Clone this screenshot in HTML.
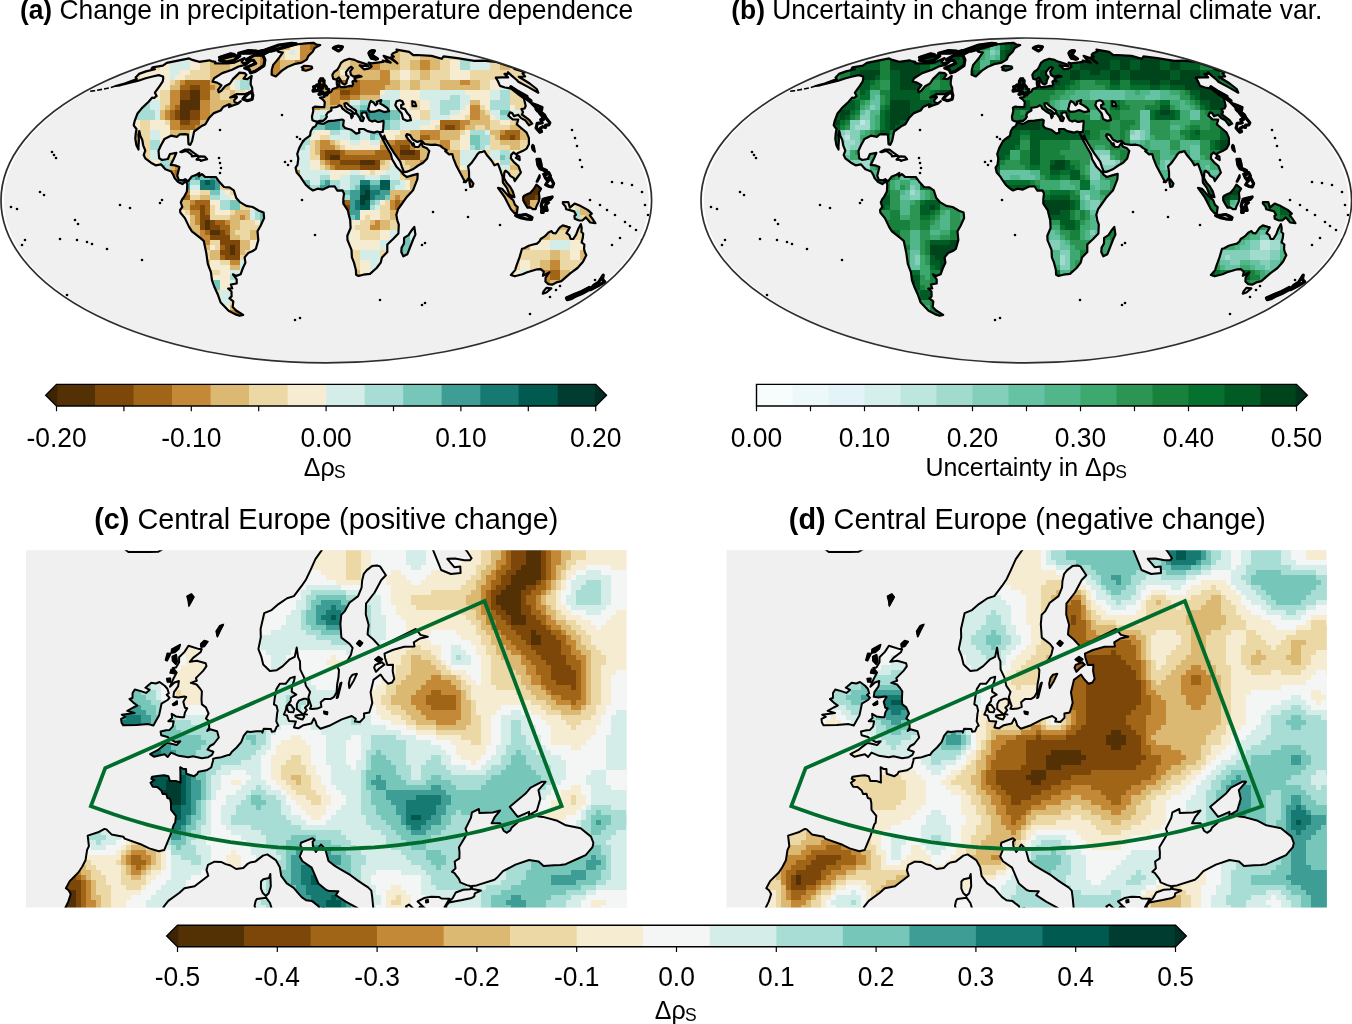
<!DOCTYPE html>
<html><head><meta charset="utf-8"><title>Figure</title>
<style>html,body{margin:0;padding:0;background:#fff;overflow:hidden}svg{display:block}text{font-family:"Liberation Sans",sans-serif;font-size:26.4px;fill:#000}</style></head><body>
<svg width="1352" height="1024" viewBox="0 0 1352 1024">
<rect width="1352" height="1024" fill="#fff"/>
<text transform="translate(326.50 19.20) scale(1 1.04)" text-anchor="middle"><tspan font-weight="bold">(a)</tspan> Change in precipitation-temperature dependence</text>
<text transform="translate(1026.80 19.20) scale(1 1.04)" text-anchor="middle"><tspan font-weight="bold">(b)</tspan> Uncertainty in change from internal climate var.</text>
<text transform="translate(326.30 528.90) scale(1 1.0)" text-anchor="middle" style="font-size:28.8px"><tspan font-weight="bold">(c)</tspan> Central Europe (positive change)</text>
<text transform="translate(1027.30 528.90) scale(1 1.0)" text-anchor="middle" style="font-size:28.8px"><tspan font-weight="bold">(d)</tspan> Central Europe (negative change)</text>
<ellipse cx="326.30" cy="200.45" rx="322.4" ry="161.7" fill="#f0f0f0"/>
<clipPath id="landAe"><ellipse cx="326.30" cy="200.45" rx="325.3" ry="162.45"/></clipPath><g clip-path="url(#landAe)">
<clipPath id="landA"><path d="M152.5,67.3L162.9,65.7L166.8,62.9L189.2,58.4L192.4,59.9L195.9,60.9L199.2,61.8L209.4,60.3L211.3,61.1L215.3,61.8L215.0,63.4L221.8,63.4L227.6,63.4L234.7,62.6L244.6,58.1L241.7,61.8L243.1,63.4L250.4,61.1L245.8,64.9L238.6,66.5L232.1,69.8L222.2,73.1L214.1,78.2L212.5,81.7L217.1,82.6L221.4,85.3L218.0,89.9L218.7,92.3L221.3,90.8L225.1,86.2L230.0,83.5L232.9,79.1L239.6,72.6L244.7,73.1L246.4,74.8L243.5,78.6L247.3,79.1L251.7,76.0L250.8,80.8L250.7,84.4L252.2,88.0L252.3,90.8L248.2,92.7L244.6,94.2L236.4,94.2L230.2,97.4L236.4,96.4L236.9,97.2L234.2,100.3L234.5,102.2L238.3,103.2L240.8,101.2L238.0,103.8L232.8,105.5L229.0,107.1L230.4,104.5L229.1,104.2L223.1,107.1L220.6,110.5L213.9,113.1L209.0,118.1L205.4,124.3L201.2,126.3L194.1,131.5L192.1,141.1L190.3,144.9L188.5,144.3L188.2,138.9L187.9,134.7L184.9,134.1L179.8,134.3L177.1,136.8L170.9,135.7L164.5,138.9L161.0,145.3L158.5,150.7L159.2,158.3L162.2,160.0L167.8,159.0L170.0,154.0L176.4,152.9L174.0,158.3L170.7,164.9L175.0,165.3L179.4,167.1L177.2,175.9L178.9,179.9L183.3,180.3L185.2,179.2L188.0,181.4L191.8,176.5L196.5,174.8L199.4,173.0L198.9,176.3L201.9,174.1L205.1,176.8L212.3,177.0L215.8,177.0L219.0,181.4L224.0,187.0L229.4,187.4L233.8,190.3L236.3,198.1L239.9,202.1L246.3,205.9L252.6,207.0L259.0,210.8L263.6,212.5L264.1,218.1L260.6,225.8L257.5,231.3L258.3,240.1L255.9,248.8L252.8,251.0L248.1,253.1L244.6,257.4L245.4,262.7L242.9,268.0L240.6,274.3L236.3,275.9L232.9,274.3L236.7,279.4L236.7,283.5L230.9,284.5L232.2,288.5L228.1,288.5L231.5,291.5L231.6,296.4L229.5,298.4L233.3,301.3L232.7,307.0L235.8,310.3L243.2,314.9L239.7,315.8L235.4,314.4L228.6,310.7L220.5,302.2L217.8,294.5L214.2,286.5L212.0,280.4L210.9,272.2L207.8,263.8L206.3,253.1L203.7,240.8L200.2,237.9L191.9,231.3L189.1,226.9L184.9,218.1L180.3,212.5L180.1,209.9L182.3,207.0L180.8,202.5L182.2,199.2L184.0,197.0L186.9,191.4L187.3,184.7L185.9,181.2L182.4,184.1L178.1,182.1L174.6,178.1L173.3,174.8L171.2,171.5L165.4,169.3L161.1,164.4L155.6,165.3L151.0,162.7L145.3,158.3L143.7,155.0L145.3,150.7L143.2,145.3L142.3,140.0L140.3,135.7L139.3,131.1L138.4,134.7L138.9,140.0L138.5,146.4L138.5,149.6L136.4,145.3L135.3,138.9L135.7,133.6L136.5,129.0L133.7,125.3L134.8,120.6L137.5,113.5L141.9,108.1L148.6,101.8L152.3,97.6L154.2,98.0L156.6,95.9L154.9,92.7L159.6,86.2L162.6,81.7L163.2,79.1L163.1,76.5L158.7,75.1L152.6,76.5L145.7,78.2L138.3,80.8L130.1,82.6L120.1,85.3L115.6,86.0L124.7,83.5L136.8,79.1L135.6,77.4L139.0,73.9L146.0,71.4L154.9,69.3L151.5,68.9Z M278.8,49.0L287.9,46.2L296.0,44.5L305.6,43.4L313.4,42.8L316.4,44.5L320.2,45.0L314.7,48.0L312.7,51.8L308.4,55.9L306.7,59.6L301.7,62.6L294.1,64.2L287.4,67.0L282.0,70.6L275.8,76.5L271.6,74.8L271.8,69.8L273.2,64.9L276.4,61.1L279.4,57.4L282.8,52.5L278.3,51.8L277.1,50.5Z M262.2,55.0L263.3,56.2L264.9,59.9L263.9,65.7L255.2,71.4L250.6,72.8L249.3,69.8L244.8,68.1L255.7,63.4L253.4,60.3L246.4,59.6L254.4,55.2Z M219.5,60.3L227.0,62.1L234.1,60.3L239.8,55.9L232.3,55.9L223.7,58.1Z M219.5,57.4L228.1,56.7L234.3,54.5L230.7,53.8Z M262.3,51.1L270.9,51.1L296.3,43.9L291.6,43.4L278.9,45.0Z M253.2,53.2L264.2,53.8L268.1,51.8L262.4,50.5Z M238.7,53.2L250.2,53.2L256.6,51.1L248.5,50.5Z M301.7,67.3L303.8,65.9L308.3,66.0L311.7,66.5L312.2,68.1L310.6,69.3L305.9,70.8L302.3,69.9L303.4,68.5Z M317.7,122.2L312.4,120.2L311.9,116.7L313.3,111.1L312.9,107.7L314.8,106.7L321.4,107.1L324.3,107.1L324.8,102.2L323.0,99.7L320.0,97.6L324.5,97.0L324.1,95.1L326.8,95.5L328.7,92.9L331.2,91.7L332.7,89.0L335.7,88.0L337.8,87.1L336.9,84.4L336.7,81.7L339.3,80.5L339.5,83.5L339.0,85.3L340.8,87.1L344.7,87.1L350.2,85.9L352.0,86.2L353.1,84.4L352.4,81.7L354.0,80.5L356.4,81.4L354.5,78.2L359.4,77.0L361.6,76.5L358.9,75.5L353.4,76.5L350.9,74.8L350.2,71.4L352.8,68.1L351.2,66.8L349.1,68.1L346.0,72.2L346.3,75.1L348.6,76.8L346.7,80.8L346.5,83.2L344.5,84.6L342.5,83.5L340.0,79.1L338.9,77.4L336.2,79.8L333.1,78.6L332.3,74.8L334.3,71.7L337.3,69.8L339.3,66.5L341.0,62.9L344.0,60.6L349.3,58.7L354.6,59.9L357.4,61.4L366.9,64.2L368.3,66.2L361.9,65.7L359.7,65.4L363.9,69.3L368.8,68.6L371.6,66.5L368.6,62.6L371.2,63.4L377.3,62.6L383.1,61.8L382.7,60.6L390.7,62.6L385.9,58.8L383.6,55.9L390.2,58.1L397.4,63.4L390.8,57.4L393.9,56.7L391.7,55.0L393.0,53.2L397.2,51.4L396.5,49.6L409.1,51.8L413.3,55.2L417.5,55.0L431.5,55.9L441.8,58.8L443.5,56.4L457.3,58.1L474.3,60.8L483.1,60.6L495.8,61.8L514.8,68.1L514.4,68.9L525.2,72.2L522.5,73.4L525.1,76.5L518.8,76.8L524.1,80.0L529.7,83.5L536.7,89.0L538.3,92.7L528.4,87.1L518.3,81.7L516.8,80.0L511.6,75.6L508.0,72.2L507.9,73.9L504.5,73.9L508.1,77.4L502.2,77.4L495.8,77.7L497.7,80.8L500.0,85.9L505.0,87.5L511.2,88.6L518.7,94.6L523.9,98.4L524.6,101.2L525.7,106.1L524.5,108.5L521.4,109.1L523.0,112.1L521.9,114.5L529.5,120.2L532.2,123.6L529.0,125.3L525.1,120.2L521.1,118.1L518.2,114.7L514.0,116.1L512.2,113.1L510.0,112.3L508.3,115.7L512.8,119.5L518.3,119.5L516.8,124.3L523.0,129.5L526.6,132.6L528.9,137.9L528.9,144.3L526.7,148.6L522.6,151.1L517.4,153.3L517.3,155.5L513.6,152.4L511.3,154.6L510.8,158.3L514.4,162.7L518.4,166.0L520.9,172.6L517.6,177.0L514.7,181.0L513.9,178.1L510.3,175.9L508.6,173.2L505.5,170.6L504.3,172.6L504.0,178.1L506.4,182.5L509.9,186.5L512.8,191.4L514.5,197.2L513.1,197.0L509.2,194.1L507.0,188.1L502.9,182.5L502.6,177.0L500.1,169.3L498.0,163.8L494.5,165.3L491.5,160.5L486.8,155.0L484.4,151.1L482.4,151.8L479.2,152.4L477.2,154.6L476.0,156.6L471.2,163.3L468.1,166.4L469.0,171.5L469.1,177.4L466.3,181.4L465.5,182.3L462.9,178.1L459.4,171.5L456.0,164.9L453.4,158.3L452.3,154.0L449.1,154.4L445.2,151.1L446.7,150.1L443.1,148.1L440.4,145.8L435.9,144.7L430.9,144.9L424.7,144.0L422.4,141.5L421.1,140.8L417.5,141.9L412.7,139.4L410.0,135.1L406.9,134.1L406.0,135.7L407.9,138.9L410.8,142.1L412.8,145.3L413.5,143.2L414.6,146.8L418.6,147.0L421.4,142.8L422.7,146.4L426.9,148.3L429.3,150.9L428.0,155.5L427.2,158.5L423.1,162.7L418.2,165.5L412.8,169.3L406.5,171.9L403.9,172.1L402.0,167.1L400.2,161.6L394.3,153.3L390.1,146.8L385.4,138.9L384.3,135.7L383.9,139.4L380.4,134.7L379.5,132.2L382.7,132.0L383.2,128.4L383.6,122.6L383.5,120.8L380.2,121.6L377.9,122.0L374.7,120.6L372.3,121.6L369.4,120.2L367.6,117.1L366.8,115.1L366.5,113.7L366.0,112.5L363.0,112.5L361.6,113.5L361.7,115.7L363.9,118.1L362.8,121.2L360.7,120.6L359.5,117.5L356.2,113.1L355.9,110.5L352.5,108.1L348.5,105.1L346.5,103.0L344.4,103.6L344.9,106.1L347.4,109.1L350.9,110.5L354.8,113.9L352.4,113.3L351.9,115.1L352.9,116.1L351.5,118.1L350.6,114.1L348.3,112.7L345.1,110.7L342.2,108.3L341.2,106.1L339.4,105.3L337.6,106.7L334.0,107.5L331.3,107.7L331.4,110.5L327.8,112.5L326.2,115.1L326.9,116.7L325.5,118.9L323.1,120.8L319.5,120.8Z M317.2,122.6L323.4,123.9L328.1,121.2L334.4,120.6L342.2,119.5L343.8,120.4L343.1,125.7L345.1,128.0L351.2,129.7L356.2,133.6L359.4,132.6L359.0,129.0L363.8,129.0L367.4,131.1L374.1,132.6L377.2,131.5L379.5,132.2L380.4,134.7L382.5,138.9L387.1,147.5L390.9,154.0L392.0,159.0L396.3,166.4L402.1,172.6L403.7,174.8L406.9,177.0L412.1,175.4L417.7,173.9L417.4,179.2L413.0,190.3L405.9,198.1L401.4,204.5L398.1,209.2L396.3,214.8L397.3,220.3L398.8,224.7L398.4,233.5L393.1,239.0L387.3,244.5L387.3,252.0L382.0,257.4L380.7,262.7L376.6,268.0L370.0,273.9L363.4,274.7L358.5,275.9L356.1,274.7L355.9,270.1L354.0,262.7L351.9,257.4L351.5,249.9L347.5,240.1L347.3,235.7L350.6,228.0L350.2,220.3L348.5,213.6L347.8,210.3L343.3,203.6L343.3,199.2L344.0,193.6L342.4,190.3L337.4,190.7L334.6,186.3L329.2,186.5L322.9,189.6L317.6,188.7L313.0,190.5L309.5,188.1L305.9,185.0L302.7,180.3L299.8,175.9L296.7,172.6L295.6,167.7L297.5,164.9L298.3,158.3L297.2,154.0L299.2,148.1L302.1,142.8L304.8,139.4L310.0,135.7L310.7,131.5L312.8,127.8L315.6,126.1Z M319.0,94.4L321.8,94.0L328.3,92.3L328.8,89.5L326.8,88.8L326.3,86.8L324.5,85.0L323.9,83.5L324.1,80.7L322.3,80.5L322.8,78.9L320.6,78.9L319.4,81.2L319.5,83.5L320.4,85.1L322.5,85.5L322.6,88.2L320.7,88.4L320.8,90.4L319.6,91.2L322.5,91.9L320.7,92.5Z M313.2,91.2L318.2,90.4L318.8,87.1L319.5,85.9L317.3,84.8L315.6,86.2L313.6,86.8L314.4,88.6L313.0,90.4Z M469.3,178.7L470.2,179.2L473.4,183.6L472.5,186.5L470.4,187.0L469.5,182.5Z M523.2,197.0L524.2,195.8L527.6,194.1L530.2,193.0L533.6,189.2L536.3,184.7L541.1,188.7L538.9,192.5L539.5,198.1L538.6,202.1L536.6,205.9L535.6,209.2L532.8,209.2L530.3,207.4L527.5,207.6L525.0,203.6L523.2,200.3Z M498.0,187.8L502.0,188.7L507.8,195.4L513.3,200.3L515.0,204.8L517.7,207.0L516.9,213.2L514.5,213.2L510.9,209.2L507.9,203.6L504.6,197.0L501.4,192.5Z M562.9,202.1L568.3,202.1L569.9,207.6L574.6,203.6L580.8,206.1L587.7,209.9L591.8,213.6L589.8,215.4L592.0,218.1L595.4,223.2L590.2,222.5L585.8,217.4L582.6,220.3L579.0,220.5L574.8,218.8L574.4,215.9L576.0,214.8L574.1,211.4L569.7,210.1L566.2,209.2L565.5,206.5L562.9,203.6Z M522.0,248.8L519.5,257.4L516.4,265.9L515.1,270.1L510.9,274.9L514.7,276.3L522.5,274.3L527.2,272.2L537.3,269.3L540.7,269.1L543.8,271.6L542.9,275.9L549.5,272.2L545.6,277.6L545.4,281.5L548.3,284.1L552.1,284.7L557.3,282.1L561.4,281.1L570.5,273.2L577.5,268.0L583.0,261.7L586.3,255.3L584.8,252.0L584.0,248.8L584.4,244.5L581.6,242.3L582.8,237.9L583.2,233.5L581.4,232.0L581.7,228.0L580.9,224.1L578.2,229.1L576.1,234.6L573.3,239.0L570.7,239.0L569.3,235.1L566.5,233.1L569.8,227.4L567.7,226.9L562.8,225.4L559.6,227.6L555.6,233.5L552.8,232.9L551.5,231.1L548.5,232.4L544.7,236.4L540.7,239.0L539.6,241.2L537.0,243.6L533.2,244.5L528.7,245.8L524.2,248.2Z M414.3,226.9L415.4,234.6L413.3,239.0L407.4,254.2L403.3,256.3L401.3,252.0L401.6,247.7L404.0,243.4L404.1,237.9L408.5,235.1L411.7,230.2Z"/></clipPath>
<g clip-path="url(#landA)" shape-rendering="crispEdges"><path fill="#543005" d="M190 90h10v20h-10zM180 100h10v20h-10zM400 150h15v5h-15zM330 155h10v5h-10zM360 160h15v5h-15zM530 180h20v10h-20zM520 190h20v5h-20zM520 195h15v5h-15zM520 200h10v5h-10zM205 220h5v10h-5zM210 230h10v5h-10zM230 245h5v10h-5z"/><path fill="#7c4709" d="M190 85h10v5h-10zM180 90h10v10h-10zM340 90h10v5h-10zM175 110h5v10h-5zM190 110h10v10h-10zM180 120h10v5h-10zM445 125h10v5h-10zM510 135h5v5h-5zM400 145h10v5h-10zM325 150h15v5h-15zM415 150h5v10h-5zM325 155h5v5h-5zM400 155h15v5h-15zM340 160h20v5h-20zM375 160h5v10h-5zM360 165h15v5h-15zM525 180h5v10h-5zM520 185h5v5h-5zM540 190h10v5h-10zM535 195h10v5h-10zM340 200h5v15h-5zM200 205h5v25h-5zM345 205h5v5h-5zM520 205h10v5h-10zM205 215h5v5h-5zM210 220h5v10h-5zM215 225h5v5h-5zM220 230h5v15h-5zM210 235h10v5h-10zM225 235h5v25h-5zM230 240h10v5h-10zM235 245h5v15h-5zM220 250h5v5h-5zM230 255h5v5h-5z"/><path fill="#a16518" d="M310 30h30v10h-30zM260 40h10v10h-10zM310 40h20v10h-20zM270 50h5v10h-5zM320 50h10v5h-10zM320 55h5v5h-5zM185 80h25v5h-25zM330 80h30v10h-30zM180 85h10v5h-10zM200 85h10v15h-10zM350 90h10v5h-10zM340 95h10v5h-10zM310 100h10v5h-10zM175 105h5v5h-5zM170 110h5v10h-5zM190 120h10v5h-10zM440 120h20v5h-20zM180 125h15v5h-15zM440 125h5v5h-5zM455 125h5v5h-5zM505 130h15v5h-15zM420 135h10v5h-10zM500 135h10v5h-10zM515 135h5v5h-5zM395 140h15v5h-15zM390 145h10v10h-10zM320 150h5v10h-5zM340 150h5v10h-5zM375 150h15v10h-15zM345 155h30v5h-30zM395 155h5v5h-5zM330 160h10v5h-10zM335 165h25v5h-25zM175 170h5v5h-5zM530 170h30v10h-30zM280 180h5v5h-5zM520 180h5v5h-5zM550 180h10v10h-10zM180 190h5v10h-5zM515 190h5v10h-5zM185 195h5v5h-5zM545 195h5v5h-5zM195 200h15v5h-15zM345 200h5v5h-5zM395 200h5v10h-5zM190 205h10v5h-10zM205 205h5v10h-5zM345 210h5v5h-5zM520 210h10v5h-10zM340 215h5v5h-5zM520 215h5v5h-5zM215 220h10v5h-10zM220 225h10v5h-10zM205 230h5v5h-5zM225 230h5v5h-5zM220 245h5v5h-5zM220 255h5v5h-5zM550 270h10v10h-10zM235 310h5v30h-5zM230 315h5v25h-5zM225 320h5v20h-5zM240 320h20v20h-20zM220 325h5v15h-5zM210 330h10v10h-10z"/><path fill="#c38936" d="M250 30h20v10h-20zM305 30h5v50h-5zM250 40h10v5h-10zM270 40h5v10h-5zM300 40h5v40h-5zM330 40h10v5h-10zM255 45h5v5h-5zM330 45h5v5h-5zM260 50h10v25h-10zM275 50h5v50h-5zM310 50h10v25h-10zM325 55h5v5h-5zM270 60h5v40h-5zM295 60h5v40h-5zM370 60h10v10h-10zM420 60h10v10h-10zM290 65h5v35h-5zM280 70h10v30h-10zM320 70h5v20h-5zM380 70h10v15h-10zM265 75h5v15h-5zM325 75h5v15h-5zM180 80h5v5h-5zM260 80h5v5h-5zM360 80h20v15h-20zM460 80h10v5h-10zM210 85h5v5h-5zM380 85h5v5h-5zM170 90h10v15h-10zM300 90h20v10h-20zM330 90h10v15h-10zM350 95h10v5h-10zM200 100h10v20h-10zM305 100h5v5h-5zM170 105h5v5h-5zM310 105h10v5h-10zM470 105h10v15h-10zM165 110h5v10h-5zM170 120h10v10h-10zM460 120h10v5h-10zM520 120h10v10h-10zM195 125h5v5h-5zM460 125h5v5h-5zM420 130h20v5h-20zM500 130h5v5h-5zM430 135h10v5h-10zM120 140h20v10h-20zM320 140h10v10h-10zM385 140h10v5h-10zM440 140h10v10h-10zM110 145h10v25h-10zM330 145h5v5h-5zM380 145h10v5h-10zM410 145h5v5h-5zM120 150h10v10h-10zM345 150h30v5h-30zM390 155h5v5h-5zM175 160h5v10h-5zM325 160h5v5h-5zM420 160h20v10h-20zM330 165h5v5h-5zM550 165h10v5h-10zM170 170h5v10h-5zM290 170h10v10h-10zM430 170h10v10h-10zM175 175h5v5h-5zM285 175h5v15h-5zM520 175h10v5h-10zM275 180h5v5h-5zM470 180h10v30h-10zM280 185h5v5h-5zM465 185h5v25h-5zM480 185h5v15h-5zM515 185h5v5h-5zM185 190h5v5h-5zM460 190h5v20h-5zM510 190h5v10h-5zM550 190h10v5h-10zM395 195h5v5h-5zM455 195h5v15h-5zM550 195h5v5h-5zM190 200h5v5h-5zM390 200h5v10h-5zM400 200h10v10h-10zM450 200h5v10h-5zM515 200h5v25h-5zM540 200h10v5h-10zM335 205h5v15h-5zM190 210h10v5h-10zM510 210h5v10h-5zM530 210h5v10h-5zM195 215h5v10h-5zM240 215h5v5h-5zM345 215h5v5h-5zM525 215h5v5h-5zM225 220h5v5h-5zM375 220h5v10h-5zM370 225h5v5h-5zM200 230h5v20h-5zM205 235h5v10h-5zM230 260h10v5h-10zM550 260h10v10h-10zM540 270h10v15h-10zM545 285h5v5h-5zM245 300h10v20h-10zM240 305h5v15h-5zM255 305h5v15h-5zM230 310h5v5h-5zM220 320h5v5h-5z"/><path fill="#dbb972" d="M220 30h30v30h-30zM270 30h10v10h-10zM300 30h5v10h-5zM360 30h80v10h-80zM275 40h15v10h-15zM340 40h5v5h-5zM350 40h60v5h-60zM420 40h20v20h-20zM250 45h5v25h-5zM335 45h5v5h-5zM350 45h55v5h-55zM255 50h5v20h-5zM330 50h5v5h-5zM350 50h50v10h-50zM505 55h5v15h-5zM210 60h20v10h-20zM240 60h10v15h-10zM280 60h15v5h-15zM320 60h10v10h-10zM350 60h20v20h-20zM380 60h20v10h-20zM410 60h10v10h-10zM430 60h10v10h-10zM500 60h5v10h-5zM280 65h10v5h-10zM210 70h15v15h-15zM325 70h15v5h-15zM370 70h10v10h-10zM420 70h10v10h-10zM260 75h5v5h-5zM310 75h10v15h-10zM330 75h10v5h-10zM175 80h5v10h-5zM225 80h5v10h-5zM300 80h10v10h-10zM390 80h10v10h-10zM410 80h10v10h-10zM440 80h20v10h-20zM470 80h10v10h-10zM170 85h5v5h-5zM215 85h10v5h-10zM260 85h5v5h-5zM385 85h5v5h-5zM460 85h10v5h-10zM210 90h10v50h-10zM230 90h5v50h-5zM265 90h5v5h-5zM320 90h10v20h-10zM235 95h5v45h-5zM360 95h20v5h-20zM220 100h10v45h-10zM290 100h15v5h-15zM340 100h10v5h-10zM470 100h10v5h-10zM165 105h5v5h-5zM295 105h15v5h-15zM330 105h15v5h-15zM160 110h5v10h-5zM240 110h5v20h-5zM480 110h5v15h-5zM530 110h20v30h-20zM245 115h5v15h-5zM485 115h5v15h-5zM200 120h10v10h-10zM470 120h10v5h-10zM515 120h5v10h-5zM465 125h10v5h-10zM510 125h5v5h-5zM120 130h20v10h-20zM170 130h20v5h-20zM410 130h10v15h-10zM440 130h20v10h-20zM490 130h10v5h-10zM520 130h10v10h-10zM110 135h10v10h-10zM170 135h15v5h-15zM405 135h5v5h-5zM495 135h5v5h-5zM175 140h5v5h-5zM315 140h5v15h-5zM330 140h5v5h-5zM380 140h5v5h-5zM420 140h20v20h-20zM500 140h20v5h-20zM540 140h20v25h-20zM335 145h5v5h-5zM415 145h5v5h-5zM510 145h10v5h-10zM130 150h10v35h-10zM165 150h5v10h-5zM440 150h20v20h-20zM530 150h10v20h-10zM175 155h5v5h-5zM120 160h10v30h-10zM140 160h10v10h-10zM170 160h5v10h-5zM180 160h5v15h-5zM240 160h10v10h-10zM320 160h5v5h-5zM380 160h5v5h-5zM405 160h15v5h-15zM515 160h5v10h-5zM525 160h5v15h-5zM325 165h5v5h-5zM410 165h10v25h-10zM510 165h5v5h-5zM520 165h5v10h-5zM540 165h10v5h-10zM230 170h15v5h-15zM270 170h20v5h-20zM400 170h10v5h-10zM420 170h10v40h-10zM440 170h15v30h-15zM460 170h30v10h-30zM230 175h10v5h-10zM270 175h15v5h-15zM405 175h5v5h-5zM455 175h5v20h-5zM225 180h5v10h-5zM270 180h5v10h-5zM430 180h10v30h-10zM460 180h10v5h-10zM480 180h40v5h-40zM560 180h5v5h-5zM580 180h30v35h-30zM130 185h5v5h-5zM275 185h5v5h-5zM460 185h5v5h-5zM485 185h30v5h-30zM175 190h5v20h-5zM390 190h20v5h-20zM415 190h5v20h-5zM485 190h25v40h-25zM610 190h10v60h-10zM170 195h5v15h-5zM200 195h10v5h-10zM390 195h5v5h-5zM400 195h15v5h-15zM555 195h5v5h-5zM165 200h5v10h-5zM180 200h10v10h-10zM335 200h5v5h-5zM410 200h5v10h-5zM480 200h5v30h-5zM510 200h5v10h-5zM530 200h10v5h-10zM550 200h5v10h-5zM530 205h5v5h-5zM540 205h10v5h-10zM235 210h15v5h-15zM330 210h5v10h-5zM390 210h20v10h-20zM535 210h5v20h-5zM190 215h5v65h-5zM230 215h10v15h-10zM245 215h5v5h-5zM585 215h25v15h-25zM370 220h5v5h-5zM380 220h10v10h-10zM510 220h5v40h-5zM520 220h15v10h-15zM560 220h10v10h-10zM580 220h5v10h-5zM195 225h5v55h-5zM515 225h5v35h-5zM540 225h5v15h-5zM230 230h5v10h-5zM250 230h10v10h-10zM490 230h20v30h-20zM520 230h5v5h-5zM545 230h5v10h-5zM600 230h10v10h-10zM235 235h5v5h-5zM180 240h10v50h-10zM240 240h10v10h-10zM340 240h5v10h-5zM520 240h10v10h-10zM205 245h5v5h-5zM345 245h5v5h-5zM170 250h10v10h-10zM210 250h10v10h-10zM240 250h5v5h-5zM320 250h20v20h-20zM550 250h10v10h-10zM580 250h10v10h-10zM385 255h5v5h-5zM200 260h10v10h-10zM390 260h5v10h-5zM540 260h10v10h-10zM230 265h10v5h-10zM395 265h5v5h-5zM330 270h30v10h-30zM400 270h5v10h-5zM530 270h10v10h-10zM560 270h10v40h-10zM405 275h5v5h-5zM330 280h20v20h-20zM535 280h5v30h-5zM550 280h10v30h-10zM540 285h5v25h-5zM545 290h5v20h-5zM210 295h5v5h-5zM240 295h10v5h-10zM530 295h5v15h-5zM200 300h10v10h-10zM235 300h10v5h-10zM255 300h5v5h-5zM570 300h10v10h-10zM230 305h10v5h-10zM190 310h10v10h-10zM225 310h5v10h-5zM220 315h5v5h-5zM215 320h5v10h-5zM210 325h5v5h-5z"/><path fill="#ecd8a5" d="M190 30h30v10h-30zM280 30h20v10h-20zM440 30h40v10h-40zM110 40h50v30h-50zM195 40h25v5h-25zM345 40h5v30h-5zM410 40h10v20h-10zM440 40h30v10h-30zM495 40h45v15h-45zM200 45h20v15h-20zM340 45h5v25h-5zM405 45h5v25h-5zM490 45h5v35h-5zM280 50h5v10h-5zM335 50h5v20h-5zM400 50h5v20h-5zM440 50h20v10h-20zM540 50h10v60h-10zM330 55h5v15h-5zM495 55h10v5h-10zM510 55h30v25h-30zM200 60h10v20h-10zM230 60h10v20h-10zM440 60h10v20h-10zM495 60h5v20h-5zM110 70h30v15h-30zM190 70h10v10h-10zM225 70h5v10h-5zM250 70h10v10h-10zM390 70h10v10h-10zM410 70h10v10h-10zM430 70h10v20h-10zM470 70h20v10h-20zM500 70h10v10h-10zM185 75h5v5h-5zM240 75h10v5h-10zM340 75h10v5h-10zM170 80h5v5h-5zM400 80h10v10h-10zM420 80h10v10h-10zM480 80h10v10h-10zM515 80h25v30h-25zM110 85h20v5h-20zM160 90h10v15h-10zM220 90h10v10h-10zM235 90h10v5h-10zM260 90h5v30h-5zM510 90h5v15h-5zM240 95h10v15h-10zM265 95h5v25h-5zM250 100h10v20h-10zM410 100h10v10h-10zM160 105h5v5h-5zM290 105h5v5h-5zM345 105h5v5h-5zM480 105h5v5h-5zM245 110h5v5h-5zM420 110h10v10h-10zM485 110h5v5h-5zM520 110h10v10h-10zM465 115h5v5h-5zM140 120h10v40h-10zM165 120h5v5h-5zM490 120h10v10h-10zM510 120h5v5h-5zM435 125h5v5h-5zM475 125h10v5h-10zM500 125h10v5h-10zM110 130h10v5h-10zM200 130h10v5h-10zM400 130h10v5h-10zM460 130h5v5h-5zM185 135h5v5h-5zM205 135h5v5h-5zM320 135h10v5h-10zM395 135h10v5h-10zM490 135h5v15h-5zM170 140h5v20h-5zM180 140h5v20h-5zM215 140h5v5h-5zM310 140h5v20h-5zM335 140h5v5h-5zM450 140h10v10h-10zM495 140h5v10h-5zM520 140h20v10h-20zM175 145h5v10h-5zM220 145h10v5h-10zM340 145h5v5h-5zM500 145h10v5h-10zM160 150h5v10h-5zM185 150h5v30h-5zM485 150h5v10h-5zM520 150h10v10h-10zM315 155h5v5h-5zM480 155h5v5h-5zM230 160h10v10h-10zM270 160h10v10h-10zM385 160h5v10h-5zM400 160h5v10h-5zM490 160h5v20h-5zM510 160h5v5h-5zM520 160h5v5h-5zM280 165h10v5h-10zM320 165h5v5h-5zM380 165h5v5h-5zM405 165h5v5h-5zM485 165h5v5h-5zM495 165h5v15h-5zM140 170h10v10h-10zM245 170h15v10h-15zM370 170h5v5h-5zM455 170h5v5h-5zM500 170h20v10h-20zM180 175h5v5h-5zM240 175h5v15h-5zM400 175h5v5h-5zM170 180h5v15h-5zM220 180h5v10h-5zM230 180h10v15h-10zM245 180h10v5h-10zM565 180h15v20h-15zM135 185h5v5h-5zM245 185h5v5h-5zM560 185h5v15h-5zM165 190h5v10h-5zM200 190h10v5h-10zM410 190h5v5h-5zM160 195h5v20h-5zM190 195h10v5h-10zM245 200h5v10h-5zM330 200h5v10h-5zM385 200h5v20h-5zM555 200h5v40h-5zM570 200h10v5h-10zM210 205h5v15h-5zM240 205h5v5h-5zM380 205h5v15h-5zM535 205h5v5h-5zM575 205h5v5h-5zM165 210h10v5h-10zM185 210h5v5h-5zM230 210h5v5h-5zM410 210h10v5h-10zM540 210h15v15h-15zM215 215h15v5h-15zM365 215h5v25h-5zM410 215h5v5h-5zM580 215h5v5h-5zM240 220h15v10h-15zM360 220h5v20h-5zM390 220h10v10h-10zM255 225h5v5h-5zM355 225h5v5h-5zM545 225h10v5h-10zM570 225h10v15h-10zM185 230h5v10h-5zM235 230h15v5h-15zM370 230h10v10h-10zM525 230h15v10h-15zM550 230h5v10h-5zM560 230h10v10h-10zM580 230h20v10h-20zM180 235h5v5h-5zM240 235h10v5h-10zM520 235h5v5h-5zM175 240h5v10h-5zM210 240h10v5h-10zM260 240h5v10h-5zM320 240h20v10h-20zM345 240h5v5h-5zM590 240h20v40h-20zM170 245h5v5h-5zM215 245h5v5h-5zM200 250h10v10h-10zM245 250h5v10h-5zM340 250h20v20h-20zM380 250h10v5h-10zM520 250h30v10h-30zM560 250h10v20h-10zM240 255h5v5h-5zM380 255h5v5h-5zM220 260h10v5h-10zM385 260h5v5h-5zM395 260h5v5h-5zM490 260h30v10h-30zM530 260h10v10h-10zM570 260h20v10h-20zM200 270h20v5h-20zM395 270h5v5h-5zM405 270h5v5h-5zM190 280h5v5h-5zM350 280h20v20h-20zM530 280h5v15h-5zM600 280h10v10h-10zM210 290h10v5h-10zM240 290h20v5h-20zM570 290h10v10h-10zM215 295h5v5h-5zM235 295h5v5h-5zM250 295h10v5h-10zM525 295h5v5h-5zM190 300h10v10h-10zM210 300h5v5h-5zM230 300h5v5h-5zM200 310h5v5h-5zM220 310h5v5h-5zM210 320h5v5h-5z"/><path fill="#f6ecd1" d="M160 40h15v5h-15zM185 40h10v10h-10zM290 40h10v10h-10zM470 40h25v5h-25zM160 45h10v45h-10zM195 45h5v25h-5zM470 45h20v5h-20zM190 50h5v20h-5zM285 50h5v10h-5zM295 50h5v10h-5zM460 50h10v5h-10zM485 50h5v10h-5zM290 55h5v5h-5zM460 55h5v5h-5zM450 60h10v20h-10zM140 70h20v20h-20zM180 70h10v5h-10zM340 70h10v5h-10zM400 70h10v10h-10zM460 70h10v10h-10zM175 75h10v5h-10zM230 80h5v10h-5zM255 80h5v20h-5zM490 80h25v5h-25zM130 85h10v5h-10zM490 85h10v5h-10zM510 85h5v5h-5zM110 90h10v5h-10zM150 90h10v10h-10zM245 90h10v5h-10zM380 90h5v5h-5zM400 90h20v10h-20zM465 90h25v5h-25zM250 95h5v5h-5zM470 95h20v5h-20zM400 100h10v10h-10zM420 100h10v10h-10zM480 100h10v5h-10zM465 105h5v10h-5zM485 105h5v5h-5zM510 105h5v5h-5zM295 110h20v5h-20zM410 110h10v10h-10zM460 110h5v10h-5zM450 115h10v5h-10zM490 115h5v5h-5zM515 115h5v5h-5zM110 120h30v10h-30zM150 120h15v10h-15zM430 120h10v5h-10zM500 120h10v5h-10zM165 125h5v25h-5zM420 125h15v5h-15zM160 130h5v20h-5zM190 130h10v5h-10zM315 130h15v5h-15zM385 130h15v5h-15zM465 130h5v20h-5zM200 135h5v5h-5zM310 135h10v5h-10zM380 135h15v5h-15zM460 135h5v15h-5zM185 140h5v10h-5zM210 140h5v10h-5zM340 140h10v5h-10zM360 140h10v10h-10zM215 145h5v5h-5zM345 145h15v5h-15zM370 145h10v5h-10zM480 150h5v5h-5zM510 150h10v10h-10zM270 155h10v5h-10zM150 160h10v10h-10zM280 160h10v5h-10zM310 160h10v10h-10zM390 160h10v5h-10zM470 160h20v5h-20zM495 160h5v5h-5zM290 165h5v5h-5zM460 165h5v5h-5zM470 165h15v5h-15zM150 170h5v5h-5zM225 170h5v10h-5zM330 170h20v5h-20zM360 170h10v5h-10zM375 170h10v5h-10zM330 175h10v5h-10zM140 180h10v10h-10zM160 180h10v10h-10zM175 180h5v10h-5zM255 180h15v20h-15zM290 180h5v10h-5zM405 180h5v10h-5zM250 185h5v25h-5zM160 190h5v5h-5zM190 190h10v5h-10zM225 190h5v5h-5zM240 190h10v10h-10zM270 190h15v5h-15zM230 195h10v5h-10zM210 200h10v5h-10zM240 200h5v5h-5zM255 200h5v10h-5zM380 200h5v5h-5zM560 200h10v20h-10zM215 205h5v10h-5zM570 205h5v5h-5zM175 210h10v10h-10zM220 210h10v5h-10zM360 210h20v5h-20zM420 210h10v5h-10zM160 215h15v5h-15zM185 215h5v15h-5zM325 215h5v15h-5zM360 215h5v5h-5zM370 215h10v5h-10zM415 215h10v5h-10zM160 220h10v5h-10zM255 220h5v5h-5zM320 220h5v20h-5zM350 220h10v5h-10zM400 220h10v5h-10zM570 220h10v5h-10zM350 225h5v25h-5zM180 230h5v5h-5zM260 230h5v10h-5zM355 230h5v20h-5zM380 230h10v10h-10zM265 235h5v30h-5zM325 235h5v5h-5zM170 240h5v5h-5zM250 240h10v20h-10zM360 240h20v10h-20zM530 240h20v10h-20zM570 240h20v10h-20zM210 245h5v5h-5zM260 250h5v10h-5zM270 250h10v20h-10zM390 250h10v10h-10zM570 250h10v10h-10zM210 260h10v10h-10zM360 260h10v20h-10zM380 260h5v10h-5zM520 260h10v10h-10zM220 265h10v25h-10zM385 265h5v5h-5zM400 265h5v5h-5zM370 270h10v30h-10zM390 270h5v10h-5zM490 270h30v30h-30zM570 270h5v5h-5zM580 270h10v10h-10zM200 275h20v5h-20zM395 275h5v5h-5zM195 280h5v20h-5zM380 280h5v20h-5zM520 280h10v15h-10zM570 280h10v10h-10zM590 280h10v10h-10zM190 285h5v15h-5zM385 285h5v15h-5zM200 290h10v10h-10zM230 290h10v5h-10zM230 295h5v5h-5zM520 295h5v5h-5zM580 295h5v5h-5zM215 300h5v10h-5zM210 305h5v5h-5zM225 305h5v5h-5zM205 310h5v10h-5zM200 315h5v5h-5zM215 315h5v5h-5z"/><path fill="#d4ede9" d="M175 40h10v30h-10zM170 45h5v35h-5zM185 50h5v20h-5zM290 50h5v5h-5zM470 50h15v20h-15zM465 55h5v5h-5zM485 60h5v10h-5zM175 70h5v5h-5zM235 80h5v10h-5zM250 80h5v10h-5zM500 85h10v5h-10zM120 90h10v10h-10zM140 90h10v10h-10zM385 90h15v10h-15zM420 90h45v5h-45zM490 90h10v10h-10zM110 95h10v5h-10zM380 95h5v5h-5zM420 95h30v5h-30zM460 95h10v10h-10zM150 100h10v10h-10zM350 100h10v5h-10zM390 100h10v10h-10zM430 100h10v20h-10zM460 105h5v5h-5zM110 110h20v10h-20zM155 110h5v10h-5zM290 110h5v10h-5zM315 110h35v5h-35zM400 110h10v20h-10zM450 110h10v5h-10zM490 110h10v5h-10zM510 110h10v5h-10zM295 115h25v5h-25zM440 115h10v5h-10zM495 115h5v5h-5zM510 115h5v5h-5zM410 120h20v5h-20zM410 125h10v5h-10zM150 130h10v10h-10zM310 130h5v5h-5zM340 130h10v10h-10zM360 130h10v10h-10zM380 130h5v5h-5zM485 130h5v5h-5zM190 135h10v25h-10zM330 135h10v5h-10zM200 140h10v20h-10zM270 140h15v15h-15zM350 140h10v5h-10zM370 140h10v5h-10zM285 145h5v15h-5zM305 145h5v35h-5zM485 145h5v5h-5zM150 150h10v10h-10zM290 150h15v15h-15zM460 150h20v10h-20zM490 150h10v10h-10zM280 155h5v5h-5zM225 160h5v10h-5zM460 160h10v5h-10zM220 165h5v15h-5zM295 165h10v5h-10zM390 165h10v15h-10zM465 165h5v5h-5zM500 165h10v5h-10zM155 170h5v10h-5zM165 170h5v10h-5zM300 170h5v10h-5zM310 170h20v5h-20zM350 170h10v5h-10zM385 170h5v5h-5zM150 175h5v5h-5zM310 175h10v10h-10zM340 175h10v15h-10zM365 175h15v5h-15zM295 180h5v10h-5zM400 180h5v10h-5zM190 185h10v5h-10zM395 185h5v5h-5zM150 190h10v10h-10zM220 190h5v10h-5zM285 190h5v10h-5zM225 195h5v5h-5zM270 195h15v5h-15zM335 195h5v5h-5zM260 200h5v5h-5zM375 205h5v5h-5zM250 210h5v10h-5zM320 210h10v5h-10zM430 210h10v50h-10zM320 215h5v5h-5zM425 215h5v35h-5zM170 220h15v10h-15zM330 220h10v20h-10zM410 220h15v5h-15zM160 225h10v25h-10zM400 225h10v5h-10zM420 225h5v25h-5zM170 230h10v10h-10zM265 230h5v5h-5zM325 230h5v5h-5zM340 230h10v10h-10zM390 230h10v20h-10zM410 230h10v10h-10zM270 240h10v10h-10zM380 240h10v10h-10zM550 240h20v10h-20zM360 250h20v10h-20zM240 260h5v20h-5zM250 260h15v10h-15zM370 260h10v10h-10zM400 260h10v5h-10zM265 265h5v10h-5zM405 265h5v5h-5zM230 270h10v5h-10zM245 270h5v10h-5zM380 270h10v10h-10zM520 270h10v10h-10zM575 270h5v10h-5zM570 275h5v5h-5zM200 280h10v10h-10zM230 280h10v10h-10zM250 280h10v10h-10zM385 280h15v5h-15zM580 280h10v15h-10zM240 285h10v5h-10zM390 285h10v5h-10zM220 290h10v15h-10zM590 290h10v10h-10zM585 295h5v5h-5zM220 305h5v5h-5zM210 310h10v5h-10zM210 315h5v5h-5zM200 320h10v10h-10z"/><path fill="#a8ddd5" d="M460 60h10v10h-10zM240 80h10v10h-10zM130 90h10v30h-10zM500 90h10v20h-10zM450 95h10v15h-10zM110 100h20v10h-20zM140 100h10v20h-10zM360 100h20v5h-20zM440 100h10v15h-10zM490 100h10v10h-10zM350 105h10v5h-10zM150 110h5v10h-5zM280 110h10v30h-10zM320 115h30v5h-30zM500 115h10v5h-10zM290 120h20v25h-20zM390 120h10v10h-10zM350 125h10v15h-10zM330 130h10v5h-10zM470 130h15v5h-15zM375 135h5v5h-5zM480 135h10v10h-10zM150 140h10v10h-10zM285 140h5v5h-5zM290 145h15v5h-15zM470 145h5v5h-5zM480 145h5v5h-5zM210 150h20v5h-20zM500 150h10v5h-10zM210 155h10v5h-10zM505 155h5v10h-5zM160 160h10v5h-10zM190 160h10v5h-10zM220 160h5v5h-5zM500 160h5v5h-5zM165 165h5v5h-5zM190 165h5v5h-5zM160 170h5v10h-5zM320 175h10v5h-10zM350 175h15v5h-15zM380 175h10v5h-10zM150 180h10v10h-10zM190 180h10v5h-10zM330 180h10v15h-10zM350 180h10v5h-10zM390 180h10v5h-10zM310 185h10v5h-10zM350 185h5v5h-5zM390 185h5v5h-5zM140 190h10v10h-10zM210 195h10v5h-10zM330 195h5v5h-5zM340 195h10v5h-10zM220 200h10v10h-10zM265 200h5v10h-5zM375 200h5v5h-5zM260 205h5v5h-5zM370 205h5v5h-5zM255 210h5v10h-5zM570 210h10v10h-10zM260 225h5v5h-5zM410 225h10v5h-10zM400 230h5v5h-5zM270 235h5v5h-5zM410 240h10v10h-10zM420 250h10v10h-10zM400 255h5v5h-5zM245 260h5v10h-5zM250 270h15v10h-15zM230 275h10v5h-10zM265 275h5v15h-5zM240 280h10v5h-10zM260 280h5v10h-5z"/><path fill="#76c6ba" d="M380 100h10v10h-10zM360 105h20v5h-20zM350 110h10v15h-10zM390 110h10v10h-10zM500 110h10v5h-10zM310 120h5v10h-5zM340 120h10v10h-10zM360 120h30v10h-30zM315 125h10v5h-10zM370 130h10v5h-10zM370 135h5v5h-5zM470 135h10v10h-10zM475 145h5v5h-5zM220 155h10v5h-10zM500 155h5v5h-5zM200 160h20v15h-20zM160 165h5v5h-5zM195 165h5v5h-5zM190 170h5v10h-5zM200 175h10v5h-10zM215 175h5v5h-5zM300 180h10v5h-10zM320 180h5v5h-5zM370 180h10v5h-10zM180 185h5v5h-5zM355 185h5v5h-5zM210 190h10v5h-10zM290 190h30v10h-30zM340 190h10v5h-10zM385 195h5v5h-5zM230 200h10v10h-10zM270 200h45v20h-45zM325 200h5v10h-5zM370 200h5v5h-5zM315 205h5v15h-5zM260 210h10v15h-10zM350 215h5v5h-5zM270 220h20v15h-20zM340 220h10v10h-10zM265 225h5v5h-5zM405 230h5v30h-5zM275 235h15v5h-15zM400 235h5v20h-5zM280 240h10v10h-10zM410 250h10v20h-10zM420 260h10v10h-10zM210 280h10v10h-10z"/><path fill="#3e9d95" d="M370 110h20v10h-20zM315 120h25v5h-25zM325 125h15v5h-15zM195 170h5v10h-5zM210 175h5v5h-5zM180 180h10v5h-10zM215 180h5v10h-5zM325 180h5v20h-5zM185 185h5v5h-5zM300 185h10v5h-10zM320 185h5v25h-5zM370 185h10v5h-10zM350 190h10v10h-10zM380 190h10v5h-10zM375 195h10v5h-10zM315 200h5v5h-5zM350 200h5v15h-5zM355 210h5v10h-5z"/><path fill="#167a72" d="M360 110h10v10h-10zM200 180h5v10h-5zM210 180h5v10h-5zM360 180h10v5h-10zM205 185h5v5h-5zM370 190h10v5h-10zM370 195h5v5h-5zM355 200h5v10h-5z"/><path fill="#015a50" d="M205 180h5v5h-5zM380 180h10v10h-10zM360 185h10v5h-10zM360 190h5v5h-5zM365 200h5v10h-5zM360 205h5v5h-5z"/><path fill="#003c30" d="M365 190h5v10h-5zM360 195h5v10h-5z"/></g>
<path d="M370.4,111.9L374.2,111.7L379.1,110.1L384.1,112.1L389.1,111.1L387.4,108.1L383.7,105.5L380.2,103.6L381.2,100.1L376.8,101.8L377.3,103.6L375.6,105.3L373.5,102.4L370.8,101.0L369.5,103.8L368.8,107.1L368.1,109.1L369.2,110.9Z M395.3,105.1L396.6,101.2L399.8,100.3L402.3,101.2L403.6,104.2L401.1,105.1L401.3,108.1L404.9,109.1L407.2,113.1L409.9,116.1L411.0,120.2L406.8,120.8L403.1,119.1L401.7,113.5L397.1,108.1Z M412.5,106.1L412.3,101.2L415.0,102.2L416.2,106.1Z" fill="#f0f0f0" stroke="none"/>
<path d="M152.5,67.3L162.9,65.7L166.8,62.9L189.2,58.4L192.4,59.9L195.9,60.9L199.2,61.8L209.4,60.3L211.3,61.1L215.3,61.8L215.0,63.4L221.8,63.4L227.6,63.4L234.7,62.6L244.6,58.1L241.7,61.8L243.1,63.4L250.4,61.1L245.8,64.9L238.6,66.5L232.1,69.8L222.2,73.1L214.1,78.2L212.5,81.7L217.1,82.6L221.4,85.3L218.0,89.9L218.7,92.3L221.3,90.8L225.1,86.2L230.0,83.5L232.9,79.1L239.6,72.6L244.7,73.1L246.4,74.8L243.5,78.6L247.3,79.1L251.7,76.0L250.8,80.8L250.7,84.4L252.2,88.0L252.3,90.8L248.2,92.7L244.6,94.2L236.4,94.2L230.2,97.4L236.4,96.4L236.9,97.2L234.2,100.3L234.5,102.2L238.3,103.2L240.8,101.2L238.0,103.8L232.8,105.5L229.0,107.1L230.4,104.5L229.1,104.2L223.1,107.1L220.6,110.5L213.9,113.1L209.0,118.1L205.4,124.3L201.2,126.3L194.1,131.5L192.1,141.1L190.3,144.9L188.5,144.3L188.2,138.9L187.9,134.7L184.9,134.1L179.8,134.3L177.1,136.8L170.9,135.7L164.5,138.9L161.0,145.3L158.5,150.7L159.2,158.3L162.2,160.0L167.8,159.0L170.0,154.0L176.4,152.9L174.0,158.3L170.7,164.9L175.0,165.3L179.4,167.1L177.2,175.9L178.9,179.9L183.3,180.3L185.2,179.2L188.0,181.4L191.8,176.5L196.5,174.8L199.4,173.0L198.9,176.3L201.9,174.1L205.1,176.8L212.3,177.0L215.8,177.0L219.0,181.4L224.0,187.0L229.4,187.4L233.8,190.3L236.3,198.1L239.9,202.1L246.3,205.9L252.6,207.0L259.0,210.8L263.6,212.5L264.1,218.1L260.6,225.8L257.5,231.3L258.3,240.1L255.9,248.8L252.8,251.0L248.1,253.1L244.6,257.4L245.4,262.7L242.9,268.0L240.6,274.3L236.3,275.9L232.9,274.3L236.7,279.4L236.7,283.5L230.9,284.5L232.2,288.5L228.1,288.5L231.5,291.5L231.6,296.4L229.5,298.4L233.3,301.3L232.7,307.0L235.8,310.3L243.2,314.9L239.7,315.8L235.4,314.4L228.6,310.7L220.5,302.2L217.8,294.5L214.2,286.5L212.0,280.4L210.9,272.2L207.8,263.8L206.3,253.1L203.7,240.8L200.2,237.9L191.9,231.3L189.1,226.9L184.9,218.1L180.3,212.5L180.1,209.9L182.3,207.0L180.8,202.5L182.2,199.2L184.0,197.0L186.9,191.4L187.3,184.7L185.9,181.2L182.4,184.1L178.1,182.1L174.6,178.1L173.3,174.8L171.2,171.5L165.4,169.3L161.1,164.4L155.6,165.3L151.0,162.7L145.3,158.3L143.7,155.0L145.3,150.7L143.2,145.3L142.3,140.0L140.3,135.7L139.3,131.1L138.4,134.7L138.9,140.0L138.5,146.4L138.5,149.6L136.4,145.3L135.3,138.9L135.7,133.6L136.5,129.0L133.7,125.3L134.8,120.6L137.5,113.5L141.9,108.1L148.6,101.8L152.3,97.6L154.2,98.0L156.6,95.9L154.9,92.7L159.6,86.2L162.6,81.7L163.2,79.1L163.1,76.5L158.7,75.1L152.6,76.5L145.7,78.2L138.3,80.8L130.1,82.6L120.1,85.3L115.6,86.0L124.7,83.5L136.8,79.1L135.6,77.4L139.0,73.9L146.0,71.4L154.9,69.3L151.5,68.9Z M278.8,49.0L287.9,46.2L296.0,44.5L305.6,43.4L313.4,42.8L316.4,44.5L320.2,45.0L314.7,48.0L312.7,51.8L308.4,55.9L306.7,59.6L301.7,62.6L294.1,64.2L287.4,67.0L282.0,70.6L275.8,76.5L271.6,74.8L271.8,69.8L273.2,64.9L276.4,61.1L279.4,57.4L282.8,52.5L278.3,51.8L277.1,50.5Z M262.2,55.0L263.3,56.2L264.9,59.9L263.9,65.7L255.2,71.4L250.6,72.8L249.3,69.8L244.8,68.1L255.7,63.4L253.4,60.3L246.4,59.6L254.4,55.2Z M219.5,60.3L227.0,62.1L234.1,60.3L239.8,55.9L232.3,55.9L223.7,58.1Z M219.5,57.4L228.1,56.7L234.3,54.5L230.7,53.8Z M262.3,51.1L270.9,51.1L296.3,43.9L291.6,43.4L278.9,45.0Z M253.2,53.2L264.2,53.8L268.1,51.8L262.4,50.5Z M238.7,53.2L250.2,53.2L256.6,51.1L248.5,50.5Z M243.0,98.9L247.5,100.7L252.1,99.3L252.8,95.5L251.8,91.7L248.3,93.6L244.2,97.4Z M301.7,67.3L303.8,65.9L308.3,66.0L311.7,66.5L312.2,68.1L310.6,69.3L305.9,70.8L302.3,69.9L303.4,68.5Z M317.7,122.2L312.4,120.2L311.9,116.7L313.3,111.1L312.9,107.7L314.8,106.7L321.4,107.1L324.3,107.1L324.8,102.2L323.0,99.7L320.0,97.6L324.5,97.0L324.1,95.1L326.8,95.5L328.7,92.9L331.2,91.7L332.7,89.0L335.7,88.0L337.8,87.1L336.9,84.4L336.7,81.7L339.3,80.5L339.5,83.5L339.0,85.3L340.8,87.1L344.7,87.1L350.2,85.9L352.0,86.2L353.1,84.4L352.4,81.7L354.0,80.5L356.4,81.4L354.5,78.2L359.4,77.0L361.6,76.5L358.9,75.5L353.4,76.5L350.9,74.8L350.2,71.4L352.8,68.1L351.2,66.8L349.1,68.1L346.0,72.2L346.3,75.1L348.6,76.8L346.7,80.8L346.5,83.2L344.5,84.6L342.5,83.5L340.0,79.1L338.9,77.4L336.2,79.8L333.1,78.6L332.3,74.8L334.3,71.7L337.3,69.8L339.3,66.5L341.0,62.9L344.0,60.6L349.3,58.7L354.6,59.9L357.4,61.4L366.9,64.2L368.3,66.2L361.9,65.7L359.7,65.4L363.9,69.3L368.8,68.6L371.6,66.5L368.6,62.6L371.2,63.4L377.3,62.6L383.1,61.8L382.7,60.6L390.7,62.6L385.9,58.8L383.6,55.9L390.2,58.1L397.4,63.4L390.8,57.4L393.9,56.7L391.7,55.0L393.0,53.2L397.2,51.4L396.5,49.6L409.1,51.8L413.3,55.2L417.5,55.0L431.5,55.9L441.8,58.8L443.5,56.4L457.3,58.1L474.3,60.8L483.1,60.6L495.8,61.8L514.8,68.1L514.4,68.9L525.2,72.2L522.5,73.4L525.1,76.5L518.8,76.8L524.1,80.0L529.7,83.5L536.7,89.0L538.3,92.7L528.4,87.1L518.3,81.7L516.8,80.0L511.6,75.6L508.0,72.2L507.9,73.9L504.5,73.9L508.1,77.4L502.2,77.4L495.8,77.7L497.7,80.8L500.0,85.9L505.0,87.5L511.2,88.6L518.7,94.6L523.9,98.4L524.6,101.2L525.7,106.1L524.5,108.5L521.4,109.1L523.0,112.1L521.9,114.5L529.5,120.2L532.2,123.6L529.0,125.3L525.1,120.2L521.1,118.1L518.2,114.7L514.0,116.1L512.2,113.1L510.0,112.3L508.3,115.7L512.8,119.5L518.3,119.5L516.8,124.3L523.0,129.5L526.6,132.6L528.9,137.9L528.9,144.3L526.7,148.6L522.6,151.1L517.4,153.3L517.3,155.5L513.6,152.4L511.3,154.6L510.8,158.3L514.4,162.7L518.4,166.0L520.9,172.6L517.6,177.0L514.7,181.0L513.9,178.1L510.3,175.9L508.6,173.2L505.5,170.6L504.3,172.6L504.0,178.1L506.4,182.5L509.9,186.5L512.8,191.4L514.5,197.2L513.1,197.0L509.2,194.1L507.0,188.1L502.9,182.5L502.6,177.0L500.1,169.3L498.0,163.8L494.5,165.3L491.5,160.5L486.8,155.0L484.4,151.1L482.4,151.8L479.2,152.4L477.2,154.6L476.0,156.6L471.2,163.3L468.1,166.4L469.0,171.5L469.1,177.4L466.3,181.4L465.5,182.3L462.9,178.1L459.4,171.5L456.0,164.9L453.4,158.3L452.3,154.0L449.1,154.4L445.2,151.1L446.7,150.1L443.1,148.1L440.4,145.8L435.9,144.7L430.9,144.9L424.7,144.0L422.4,141.5L421.1,140.8L417.5,141.9L412.7,139.4L410.0,135.1L406.9,134.1L406.0,135.7L407.9,138.9L410.8,142.1L412.8,145.3L413.5,143.2L414.6,146.8L418.6,147.0L421.4,142.8L422.7,146.4L426.9,148.3L429.3,150.9L428.0,155.5L427.2,158.5L423.1,162.7L418.2,165.5L412.8,169.3L406.5,171.9L403.9,172.1L402.0,167.1L400.2,161.6L394.3,153.3L390.1,146.8L385.4,138.9L384.3,135.7L383.9,139.4L380.4,134.7L379.5,132.2L382.7,132.0L383.2,128.4L383.6,122.6L383.5,120.8L380.2,121.6L377.9,122.0L374.7,120.6L372.3,121.6L369.4,120.2L367.6,117.1L366.8,115.1L366.5,113.7L366.0,112.5L363.0,112.5L361.6,113.5L361.7,115.7L363.9,118.1L362.8,121.2L360.7,120.6L359.5,117.5L356.2,113.1L355.9,110.5L352.5,108.1L348.5,105.1L346.5,103.0L344.4,103.6L344.9,106.1L347.4,109.1L350.9,110.5L354.8,113.9L352.4,113.3L351.9,115.1L352.9,116.1L351.5,118.1L350.6,114.1L348.3,112.7L345.1,110.7L342.2,108.3L341.2,106.1L339.4,105.3L337.6,106.7L334.0,107.5L331.3,107.7L331.4,110.5L327.8,112.5L326.2,115.1L326.9,116.7L325.5,118.9L323.1,120.8L319.5,120.8Z M317.2,122.6L323.4,123.9L328.1,121.2L334.4,120.6L342.2,119.5L343.8,120.4L343.1,125.7L345.1,128.0L351.2,129.7L356.2,133.6L359.4,132.6L359.0,129.0L363.8,129.0L367.4,131.1L374.1,132.6L377.2,131.5L379.5,132.2L380.4,134.7L382.5,138.9L387.1,147.5L390.9,154.0L392.0,159.0L396.3,166.4L402.1,172.6L403.7,174.8L406.9,177.0L412.1,175.4L417.7,173.9L417.4,179.2L413.0,190.3L405.9,198.1L401.4,204.5L398.1,209.2L396.3,214.8L397.3,220.3L398.8,224.7L398.4,233.5L393.1,239.0L387.3,244.5L387.3,252.0L382.0,257.4L380.7,262.7L376.6,268.0L370.0,273.9L363.4,274.7L358.5,275.9L356.1,274.7L355.9,270.1L354.0,262.7L351.9,257.4L351.5,249.9L347.5,240.1L347.3,235.7L350.6,228.0L350.2,220.3L348.5,213.6L347.8,210.3L343.3,203.6L343.3,199.2L344.0,193.6L342.4,190.3L337.4,190.7L334.6,186.3L329.2,186.5L322.9,189.6L317.6,188.7L313.0,190.5L309.5,188.1L305.9,185.0L302.7,180.3L299.8,175.9L296.7,172.6L295.6,167.7L297.5,164.9L298.3,158.3L297.2,154.0L299.2,148.1L302.1,142.8L304.8,139.4L310.0,135.7L310.7,131.5L312.8,127.8L315.6,126.1Z M319.0,94.4L321.8,94.0L328.3,92.3L328.8,89.5L326.8,88.8L326.3,86.8L324.5,85.0L323.9,83.5L324.1,80.7L322.3,80.5L322.8,78.9L320.6,78.9L319.4,81.2L319.5,83.5L320.4,85.1L322.5,85.5L322.6,88.2L320.7,88.4L320.8,90.4L319.6,91.2L322.5,91.9L320.7,92.5Z M313.2,91.2L318.2,90.4L318.8,87.1L319.5,85.9L317.3,84.8L315.6,86.2L313.6,86.8L314.4,88.6L313.0,90.4Z M539.8,132.2L541.5,131.5L540.1,128.4L542.9,126.7L545.5,127.4L545.7,125.1L548.7,124.9L549.8,122.8L546.0,118.1L544.5,114.9L539.9,111.3L539.4,112.9L542.2,116.1L543.4,119.5L540.7,119.5L542.2,122.8L537.2,123.4L536.7,125.9L536.1,128.0Z M537.6,111.1L537.6,109.3L541.5,110.1L542.0,107.5L538.7,106.1L531.8,103.4L536.1,107.5L536.0,109.1Z M530.8,102.2L531.0,100.7L524.2,95.9L527.0,96.4L517.1,90.8L510.8,86.8L511.7,88.0L521.0,94.6L526.0,98.4Z M532.6,149.6L534.9,151.8L533.7,145.8L532.6,144.9L531.9,146.8Z M515.9,157.9L519.7,160.0L519.4,156.6L517.5,155.9Z M469.3,178.7L470.2,179.2L473.4,183.6L472.5,186.5L470.4,187.0L469.5,182.5Z M537.0,159.4L539.9,159.4L541.0,163.8L541.5,168.2L546.5,170.4L546.9,172.1L542.7,169.7L540.0,168.8L537.9,164.9Z M545.7,184.7L547.8,181.2L551.0,178.5L553.6,183.6L552.2,187.0L549.5,186.5Z M543.8,174.1L546.1,174.8L548.8,172.6L550.4,175.9L548.2,178.1L546.7,179.6L545.5,178.1Z M536.6,181.6L539.6,175.2L539.7,177.4L537.3,181.6Z M523.2,197.0L524.2,195.8L527.6,194.1L530.2,193.0L533.6,189.2L536.3,184.7L541.1,188.7L538.9,192.5L539.5,198.1L538.6,202.1L536.6,205.9L535.6,209.2L532.8,209.2L530.3,207.4L527.5,207.6L525.0,203.6L523.2,200.3Z M498.0,187.8L502.0,188.7L507.8,195.4L513.3,200.3L515.0,204.8L517.7,207.0L516.9,213.2L514.5,213.2L510.9,209.2L507.9,203.6L504.6,197.0L501.4,192.5Z M515.7,215.4L521.5,215.2L525.7,214.5L529.2,215.9L532.0,217.6L531.4,219.4L525.5,218.8L520.3,217.6L516.9,216.3Z M541.6,212.5L543.2,212.5L543.4,207.0L545.4,210.3L547.2,210.3L545.7,204.8L548.5,202.5L545.8,202.3L543.1,199.2L547.6,198.1L552.1,197.0L550.3,199.4L544.9,199.4L543.1,202.1L542.5,200.7L541.2,205.9L541.9,208.1Z M562.9,202.1L568.3,202.1L569.9,207.6L574.6,203.6L580.8,206.1L587.7,209.9L591.8,213.6L589.8,215.4L592.0,218.1L595.4,223.2L590.2,222.5L585.8,217.4L582.6,220.3L579.0,220.5L574.8,218.8L574.4,215.9L576.0,214.8L574.1,211.4L569.7,210.1L566.2,209.2L565.5,206.5L562.9,203.6Z M522.0,248.8L519.5,257.4L516.4,265.9L515.1,270.1L510.9,274.9L514.7,276.3L522.5,274.3L527.2,272.2L537.3,269.3L540.7,269.1L543.8,271.6L542.9,275.9L549.5,272.2L545.6,277.6L545.4,281.5L548.3,284.1L552.1,284.7L557.3,282.1L561.4,281.1L570.5,273.2L577.5,268.0L583.0,261.7L586.3,255.3L584.8,252.0L584.0,248.8L584.4,244.5L581.6,242.3L582.8,237.9L583.2,233.5L581.4,232.0L581.7,228.0L580.9,224.1L578.2,229.1L576.1,234.6L573.3,239.0L570.7,239.0L569.3,235.1L566.5,233.1L569.8,227.4L567.7,226.9L562.8,225.4L559.6,227.6L555.6,233.5L552.8,232.9L551.5,231.1L548.5,232.4L544.7,236.4L540.7,239.0L539.6,241.2L537.0,243.6L533.2,244.5L528.7,245.8L524.2,248.2Z M546.4,287.9L551.3,288.3L546.4,292.5L542.8,293.7L543.5,291.5Z M603.2,275.1L602.6,278.4L602.9,280.0L604.8,281.9L598.4,285.5L590.6,289.7L590.6,289.1L594.0,285.1L598.4,282.5Z M589.4,287.5L588.7,289.9L581.9,293.5L575.2,296.4L571.7,298.4L567.2,299.6L566.5,298.0L574.2,294.5L581.8,291.5Z M414.3,226.9L415.4,234.6L413.3,239.0L407.4,254.2L403.3,256.3L401.3,252.0L401.6,247.7L404.0,243.4L404.1,237.9L408.5,235.1L411.7,230.2Z M180.3,152.0L185.1,149.6L189.4,149.6L193.7,152.9L197.8,155.7L191.9,156.3L191.5,154.6L187.9,151.8L185.6,150.9L181.8,152.2Z M196.6,159.6L199.7,156.3L204.9,156.6L207.1,159.2L204.2,159.8L201.0,160.9L199.9,159.8Z M371.4,58.1L375.8,59.3L377.5,58.8L372.5,55.7L372.5,53.8L374.4,50.8L372.5,50.5L370.0,51.5L368.9,53.2L369.9,55.5Z M333.4,48.0L337.7,50.5L338.6,51.0L341.1,49.2L342.4,46.8L337.9,46.2L334.9,47.0Z M370.4,111.9L374.2,111.7L379.1,110.1L384.1,112.1L389.1,111.1L387.4,108.1L383.7,105.5L380.2,103.6L381.2,100.1L376.8,101.8L377.3,103.6L375.6,105.3L373.5,102.4L370.8,101.0L369.5,103.8L368.8,107.1L368.1,109.1L369.2,110.9Z M395.3,105.1L396.6,101.2L399.8,100.3L402.3,101.2L403.6,104.2L401.1,105.1L401.3,108.1L404.9,109.1L407.2,113.1L409.9,116.1L411.0,120.2L406.8,120.8L403.1,119.1L401.7,113.5L397.1,108.1Z M412.5,106.1L412.3,101.2L415.0,102.2L416.2,106.1Z" fill="none" stroke="#000" stroke-width="2.2" stroke-linejoin="round"/>
<g fill="#000"><circle cx="52" cy="152" r="1.3"/><circle cx="54" cy="155" r="1.3"/><circle cx="56" cy="158" r="1.3"/><circle cx="11" cy="207" r="1.3"/><circle cx="17" cy="209" r="1.3"/><circle cx="40" cy="192" r="1.3"/><circle cx="44" cy="195" r="1.3"/><circle cx="75" cy="220" r="1.3"/><circle cx="78" cy="224" r="1.3"/><circle cx="22" cy="245" r="1.3"/><circle cx="25" cy="240" r="1.3"/><circle cx="60" cy="239" r="1.3"/><circle cx="77" cy="240" r="1.3"/><circle cx="87" cy="242" r="1.3"/><circle cx="92" cy="244" r="1.3"/><circle cx="107" cy="249" r="1.3"/><circle cx="142" cy="260" r="1.3"/><circle cx="67" cy="295" r="1.3"/><circle cx="162" cy="200" r="1.3"/><circle cx="160" cy="203" r="1.3"/><circle cx="297" cy="137" r="1.3"/><circle cx="300" cy="139" r="1.3"/><circle cx="303" cy="141" r="1.3"/><circle cx="282" cy="115" r="1.3"/><circle cx="285" cy="162" r="1.3"/><circle cx="288" cy="165" r="1.3"/><circle cx="291" cy="161" r="1.3"/><circle cx="302" cy="200" r="1.3"/><circle cx="315" cy="235" r="1.3"/><circle cx="295" cy="320" r="1.3"/><circle cx="300" cy="318" r="1.3"/><circle cx="380" cy="300" r="1.3"/><circle cx="422" cy="305" r="1.3"/><circle cx="425" cy="303" r="1.3"/><circle cx="422" cy="245" r="1.3"/><circle cx="425" cy="243" r="1.3"/><circle cx="433" cy="212" r="1.3"/><circle cx="500" cy="225" r="1.3"/><circle cx="464" cy="182" r="1.3"/><circle cx="466" cy="190" r="1.3"/><circle cx="468" cy="217" r="1.3"/><circle cx="580" cy="160" r="1.3"/><circle cx="582" cy="167" r="1.3"/><circle cx="612" cy="182" r="1.3"/><circle cx="622" cy="183" r="1.3"/><circle cx="632" cy="185" r="1.3"/><circle cx="642" cy="192" r="1.3"/><circle cx="612" cy="245" r="1.3"/><circle cx="620" cy="238" r="1.3"/><circle cx="642" cy="240" r="1.3"/><circle cx="636" cy="230" r="1.3"/><circle cx="595" cy="280" r="1.3"/><circle cx="530" cy="314" r="1.3"/><circle cx="550" cy="297" r="1.3"/><circle cx="556" cy="290" r="1.3"/><circle cx="560" cy="286" r="1.3"/><circle cx="607" cy="210" r="1.3"/><circle cx="615" cy="215" r="1.3"/><circle cx="625" cy="222" r="1.3"/><circle cx="630" cy="226" r="1.3"/><circle cx="600" cy="205" r="1.3"/><circle cx="590" cy="200" r="1.3"/><circle cx="645" cy="205" r="1.3"/><circle cx="648" cy="215" r="1.3"/><circle cx="572" cy="130" r="1.3"/><circle cx="575" cy="138" r="1.3"/><circle cx="577" cy="146" r="1.3"/><circle cx="120" cy="205" r="1.3"/><circle cx="130" cy="208" r="1.3"/><circle cx="220" cy="130" r="1.3"/><circle cx="219" cy="158" r="1.3"/><circle cx="220" cy="163" r="1.3"/><circle cx="221" cy="168" r="1.3"/><circle cx="220" cy="173" r="1.3"/><polyline points="115.6,86.0 109.1,87.9 102.6,89.3 95.0,90.6 88.3,91.4" fill="none" stroke="#000" stroke-width="1.6" stroke-dasharray="5 2"/></g>
<path d="M262.2,55.0L263.3,56.2L264.9,59.9L263.9,65.7L255.2,71.4L250.6,72.8L249.3,69.8L244.8,68.1L255.7,63.4L253.4,60.3L246.4,59.6L254.4,55.2Z M219.5,60.3L227.0,62.1L234.1,60.3L239.8,55.9L232.3,55.9L223.7,58.1Z M219.5,57.4L228.1,56.7L234.3,54.5L230.7,53.8Z M262.3,51.1L270.9,51.1L296.3,43.9L291.6,43.4L278.9,45.0Z M253.2,53.2L264.2,53.8L268.1,51.8L262.4,50.5Z M238.7,53.2L250.2,53.2L256.6,51.1L248.5,50.5Z M243.0,98.9L247.5,100.7L252.1,99.3L252.8,95.5L251.8,91.7L248.3,93.6L244.2,97.4Z M319.0,94.4L321.8,94.0L328.3,92.3L328.8,89.5L326.8,88.8L326.3,86.8L324.5,85.0L323.9,83.5L324.1,80.7L322.3,80.5L322.8,78.9L320.6,78.9L319.4,81.2L319.5,83.5L320.4,85.1L322.5,85.5L322.6,88.2L320.7,88.4L320.8,90.4L319.6,91.2L322.5,91.9L320.7,92.5Z M313.2,91.2L318.2,90.4L318.8,87.1L319.5,85.9L317.3,84.8L315.6,86.2L313.6,86.8L314.4,88.6L313.0,90.4Z M539.8,132.2L541.5,131.5L540.1,128.4L542.9,126.7L545.5,127.4L545.7,125.1L548.7,124.9L549.8,122.8L546.0,118.1L544.5,114.9L539.9,111.3L539.4,112.9L542.2,116.1L543.4,119.5L540.7,119.5L542.2,122.8L537.2,123.4L536.7,125.9L536.1,128.0Z M537.6,111.1L537.6,109.3L541.5,110.1L542.0,107.5L538.7,106.1L531.8,103.4L536.1,107.5L536.0,109.1Z M530.8,102.2L531.0,100.7L524.2,95.9L527.0,96.4L517.1,90.8L510.8,86.8L511.7,88.0L521.0,94.6L526.0,98.4Z M537.0,159.4L539.9,159.4L541.0,163.8L541.5,168.2L546.5,170.4L546.9,172.1L542.7,169.7L540.0,168.8L537.9,164.9Z M545.7,184.7L547.8,181.2L551.0,178.5L553.6,183.6L552.2,187.0L549.5,186.5Z M543.8,174.1L546.1,174.8L548.8,172.6L550.4,175.9L548.2,178.1L546.7,179.6L545.5,178.1Z M515.7,215.4L521.5,215.2L525.7,214.5L529.2,215.9L532.0,217.6L531.4,219.4L525.5,218.8L520.3,217.6L516.9,216.3Z M541.6,212.5L543.2,212.5L543.4,207.0L545.4,210.3L547.2,210.3L545.7,204.8L548.5,202.5L545.8,202.3L543.1,199.2L547.6,198.1L552.1,197.0L550.3,199.4L544.9,199.4L543.1,202.1L542.5,200.7L541.2,205.9L541.9,208.1Z M603.2,275.1L602.6,278.4L602.9,280.0L604.8,281.9L598.4,285.5L590.6,289.7L590.6,289.1L594.0,285.1L598.4,282.5Z M589.4,287.5L588.7,289.9L581.9,293.5L575.2,296.4L571.7,298.4L567.2,299.6L566.5,298.0L574.2,294.5L581.8,291.5Z M371.4,58.1L375.8,59.3L377.5,58.8L372.5,55.7L372.5,53.8L374.4,50.8L372.5,50.5L370.0,51.5L368.9,53.2L369.9,55.5Z M333.4,48.0L337.7,50.5L338.6,51.0L341.1,49.2L342.4,46.8L337.9,46.2L334.9,47.0Z" fill="none" stroke="#000" stroke-width="3.2" stroke-linejoin="round"/>
</g>
<ellipse cx="326.30" cy="200.45" rx="325.3" ry="162.45" fill="none" stroke="#2e2e2e" stroke-width="1.7"/>
<ellipse cx="1026.30" cy="200.45" rx="322.4" ry="161.7" fill="#f0f0f0"/>
<clipPath id="landBe"><ellipse cx="1026.30" cy="200.45" rx="325.3" ry="162.45"/></clipPath><g clip-path="url(#landBe)">
<clipPath id="landB"><path d="M852.5,67.3L862.9,65.7L866.8,62.9L889.2,58.4L892.4,59.9L895.9,60.9L899.2,61.8L909.4,60.3L911.3,61.1L915.3,61.8L915.0,63.4L921.8,63.4L927.6,63.4L934.7,62.6L944.6,58.1L941.7,61.8L943.1,63.4L950.4,61.1L945.8,64.9L938.6,66.5L932.1,69.8L922.2,73.1L914.1,78.2L912.5,81.7L917.1,82.6L921.4,85.3L918.0,89.9L918.7,92.3L921.3,90.8L925.1,86.2L930.0,83.5L932.9,79.1L939.6,72.6L944.7,73.1L946.4,74.8L943.5,78.6L947.3,79.1L951.7,76.0L950.8,80.8L950.7,84.4L952.2,88.0L952.3,90.8L948.2,92.7L944.6,94.2L936.4,94.2L930.2,97.4L936.4,96.4L936.9,97.2L934.2,100.3L934.5,102.2L938.3,103.2L940.8,101.2L938.0,103.8L932.8,105.5L929.0,107.1L930.4,104.5L929.1,104.2L923.1,107.1L920.6,110.5L913.9,113.1L909.0,118.1L905.4,124.3L901.2,126.3L894.1,131.5L892.1,141.1L890.3,144.9L888.5,144.3L888.2,138.9L887.9,134.7L884.9,134.1L879.8,134.3L877.1,136.8L870.9,135.7L864.5,138.9L861.0,145.3L858.5,150.7L859.2,158.3L862.2,160.0L867.8,159.0L870.0,154.0L876.4,152.9L874.0,158.3L870.7,164.9L875.0,165.3L879.4,167.1L877.2,175.9L878.9,179.9L883.3,180.3L885.2,179.2L888.0,181.4L891.8,176.5L896.5,174.8L899.4,173.0L898.9,176.3L901.9,174.1L905.1,176.8L912.3,177.0L915.8,177.0L919.0,181.4L924.0,187.0L929.4,187.4L933.8,190.3L936.3,198.1L939.9,202.1L946.3,205.9L952.6,207.0L959.0,210.8L963.6,212.5L964.1,218.1L960.6,225.8L957.5,231.3L958.3,240.1L955.9,248.8L952.8,251.0L948.1,253.1L944.6,257.4L945.4,262.7L942.9,268.0L940.6,274.3L936.3,275.9L932.9,274.3L936.7,279.4L936.7,283.5L930.9,284.5L932.2,288.5L928.1,288.5L931.5,291.5L931.6,296.4L929.5,298.4L933.3,301.3L932.7,307.0L935.8,310.3L943.2,314.9L939.7,315.8L935.4,314.4L928.6,310.7L920.5,302.2L917.8,294.5L914.2,286.5L912.0,280.4L910.9,272.2L907.8,263.8L906.3,253.1L903.7,240.8L900.2,237.9L891.9,231.3L889.1,226.9L884.9,218.1L880.3,212.5L880.1,209.9L882.3,207.0L880.8,202.5L882.2,199.2L884.0,197.0L886.9,191.4L887.3,184.7L885.9,181.2L882.4,184.1L878.1,182.1L874.6,178.1L873.3,174.8L871.2,171.5L865.4,169.3L861.1,164.4L855.6,165.3L851.0,162.7L845.3,158.3L843.7,155.0L845.3,150.7L843.2,145.3L842.3,140.0L840.3,135.7L839.3,131.1L838.4,134.7L838.9,140.0L838.5,146.4L838.5,149.6L836.4,145.3L835.3,138.9L835.7,133.6L836.5,129.0L833.7,125.3L834.8,120.6L837.5,113.5L841.9,108.1L848.6,101.8L852.3,97.6L854.2,98.0L856.6,95.9L854.9,92.7L859.6,86.2L862.6,81.7L863.2,79.1L863.1,76.5L858.7,75.1L852.6,76.5L845.7,78.2L838.3,80.8L830.1,82.6L820.1,85.3L815.6,86.0L824.7,83.5L836.8,79.1L835.6,77.4L839.0,73.9L846.0,71.4L854.9,69.3L851.5,68.9Z M978.8,49.0L987.9,46.2L996.0,44.5L1005.6,43.4L1013.4,42.8L1016.4,44.5L1020.2,45.0L1014.7,48.0L1012.7,51.8L1008.4,55.9L1006.7,59.6L1001.7,62.6L994.1,64.2L987.4,67.0L982.0,70.6L975.8,76.5L971.6,74.8L971.8,69.8L973.2,64.9L976.4,61.1L979.4,57.4L982.8,52.5L978.3,51.8L977.1,50.5Z M962.2,55.0L963.3,56.2L964.9,59.9L963.9,65.7L955.2,71.4L950.6,72.8L949.3,69.8L944.8,68.1L955.7,63.4L953.4,60.3L946.4,59.6L954.4,55.2Z M919.5,60.3L927.0,62.1L934.1,60.3L939.8,55.9L932.3,55.9L923.7,58.1Z M919.5,57.4L928.1,56.7L934.3,54.5L930.7,53.8Z M962.3,51.1L970.9,51.1L996.3,43.9L991.6,43.4L978.9,45.0Z M953.2,53.2L964.2,53.8L968.1,51.8L962.4,50.5Z M938.7,53.2L950.2,53.2L956.6,51.1L948.5,50.5Z M1001.7,67.3L1003.8,65.9L1008.3,66.0L1011.7,66.5L1012.2,68.1L1010.6,69.3L1005.9,70.8L1002.3,69.9L1003.4,68.5Z M1017.7,122.2L1012.4,120.2L1011.9,116.7L1013.3,111.1L1012.9,107.7L1014.8,106.7L1021.4,107.1L1024.3,107.1L1024.8,102.2L1023.0,99.7L1020.0,97.6L1024.5,97.0L1024.1,95.1L1026.8,95.5L1028.7,92.9L1031.2,91.7L1032.7,89.0L1035.7,88.0L1037.8,87.1L1036.9,84.4L1036.7,81.7L1039.3,80.5L1039.5,83.5L1039.0,85.3L1040.8,87.1L1044.7,87.1L1050.2,85.9L1052.0,86.2L1053.1,84.4L1052.4,81.7L1054.0,80.5L1056.4,81.4L1054.5,78.2L1059.4,77.0L1061.6,76.5L1058.9,75.5L1053.4,76.5L1050.9,74.8L1050.2,71.4L1052.8,68.1L1051.2,66.8L1049.1,68.1L1046.0,72.2L1046.3,75.1L1048.6,76.8L1046.7,80.8L1046.5,83.2L1044.5,84.6L1042.5,83.5L1040.0,79.1L1038.9,77.4L1036.2,79.8L1033.1,78.6L1032.3,74.8L1034.3,71.7L1037.3,69.8L1039.3,66.5L1041.0,62.9L1044.0,60.6L1049.3,58.7L1054.6,59.9L1057.4,61.4L1066.9,64.2L1068.3,66.2L1061.9,65.7L1059.7,65.4L1063.9,69.3L1068.8,68.6L1071.6,66.5L1068.6,62.6L1071.2,63.4L1077.3,62.6L1083.1,61.8L1082.7,60.6L1090.7,62.6L1085.9,58.8L1083.6,55.9L1090.2,58.1L1097.4,63.4L1090.8,57.4L1093.9,56.7L1091.7,55.0L1093.0,53.2L1097.2,51.4L1096.5,49.6L1109.1,51.8L1113.3,55.2L1117.5,55.0L1131.5,55.9L1141.8,58.8L1143.5,56.4L1157.3,58.1L1174.3,60.8L1183.1,60.6L1195.8,61.8L1214.8,68.1L1214.4,68.9L1225.2,72.2L1222.5,73.4L1225.1,76.5L1218.8,76.8L1224.1,80.0L1229.7,83.5L1236.7,89.0L1238.3,92.7L1228.4,87.1L1218.3,81.7L1216.8,80.0L1211.6,75.6L1208.0,72.2L1207.9,73.9L1204.5,73.9L1208.1,77.4L1202.2,77.4L1195.8,77.7L1197.7,80.8L1200.0,85.9L1205.0,87.5L1211.2,88.6L1218.7,94.6L1223.9,98.4L1224.6,101.2L1225.7,106.1L1224.5,108.5L1221.4,109.1L1223.0,112.1L1221.9,114.5L1229.5,120.2L1232.2,123.6L1229.0,125.3L1225.1,120.2L1221.1,118.1L1218.2,114.7L1214.0,116.1L1212.2,113.1L1210.0,112.3L1208.3,115.7L1212.8,119.5L1218.3,119.5L1216.8,124.3L1223.0,129.5L1226.6,132.6L1228.9,137.9L1228.9,144.3L1226.7,148.6L1222.6,151.1L1217.4,153.3L1217.3,155.5L1213.6,152.4L1211.3,154.6L1210.8,158.3L1214.4,162.7L1218.4,166.0L1220.9,172.6L1217.6,177.0L1214.7,181.0L1213.9,178.1L1210.3,175.9L1208.6,173.2L1205.5,170.6L1204.3,172.6L1204.0,178.1L1206.4,182.5L1209.9,186.5L1212.8,191.4L1214.5,197.2L1213.1,197.0L1209.2,194.1L1207.0,188.1L1202.9,182.5L1202.6,177.0L1200.1,169.3L1198.0,163.8L1194.5,165.3L1191.5,160.5L1186.8,155.0L1184.4,151.1L1182.4,151.8L1179.2,152.4L1177.2,154.6L1176.0,156.6L1171.2,163.3L1168.1,166.4L1169.0,171.5L1169.1,177.4L1166.3,181.4L1165.5,182.3L1162.9,178.1L1159.4,171.5L1156.0,164.9L1153.4,158.3L1152.3,154.0L1149.1,154.4L1145.2,151.1L1146.7,150.1L1143.1,148.1L1140.4,145.8L1135.9,144.7L1130.9,144.9L1124.7,144.0L1122.4,141.5L1121.1,140.8L1117.5,141.9L1112.7,139.4L1110.0,135.1L1106.9,134.1L1106.0,135.7L1107.9,138.9L1110.8,142.1L1112.8,145.3L1113.5,143.2L1114.6,146.8L1118.6,147.0L1121.4,142.8L1122.7,146.4L1126.9,148.3L1129.3,150.9L1128.0,155.5L1127.2,158.5L1123.1,162.7L1118.2,165.5L1112.8,169.3L1106.5,171.9L1103.9,172.1L1102.0,167.1L1100.2,161.6L1094.3,153.3L1090.1,146.8L1085.4,138.9L1084.3,135.7L1083.9,139.4L1080.4,134.7L1079.5,132.2L1082.7,132.0L1083.2,128.4L1083.6,122.6L1083.5,120.8L1080.2,121.6L1077.9,122.0L1074.7,120.6L1072.3,121.6L1069.4,120.2L1067.6,117.1L1066.8,115.1L1066.5,113.7L1066.0,112.5L1063.0,112.5L1061.6,113.5L1061.7,115.7L1063.9,118.1L1062.8,121.2L1060.7,120.6L1059.5,117.5L1056.2,113.1L1055.9,110.5L1052.5,108.1L1048.5,105.1L1046.5,103.0L1044.4,103.6L1044.9,106.1L1047.4,109.1L1050.9,110.5L1054.8,113.9L1052.4,113.3L1051.9,115.1L1052.9,116.1L1051.5,118.1L1050.6,114.1L1048.3,112.7L1045.1,110.7L1042.2,108.3L1041.2,106.1L1039.4,105.3L1037.6,106.7L1034.0,107.5L1031.3,107.7L1031.4,110.5L1027.8,112.5L1026.2,115.1L1026.9,116.7L1025.5,118.9L1023.1,120.8L1019.5,120.8Z M1017.2,122.6L1023.4,123.9L1028.1,121.2L1034.4,120.6L1042.2,119.5L1043.8,120.4L1043.1,125.7L1045.1,128.0L1051.2,129.7L1056.2,133.6L1059.4,132.6L1059.0,129.0L1063.8,129.0L1067.4,131.1L1074.1,132.6L1077.2,131.5L1079.5,132.2L1080.4,134.7L1082.5,138.9L1087.1,147.5L1090.9,154.0L1092.0,159.0L1096.3,166.4L1102.1,172.6L1103.7,174.8L1106.9,177.0L1112.1,175.4L1117.7,173.9L1117.4,179.2L1113.0,190.3L1105.9,198.1L1101.4,204.5L1098.1,209.2L1096.3,214.8L1097.3,220.3L1098.8,224.7L1098.4,233.5L1093.1,239.0L1087.3,244.5L1087.3,252.0L1082.0,257.4L1080.7,262.7L1076.6,268.0L1070.0,273.9L1063.4,274.7L1058.5,275.9L1056.1,274.7L1055.9,270.1L1054.0,262.7L1051.9,257.4L1051.5,249.9L1047.5,240.1L1047.3,235.7L1050.6,228.0L1050.2,220.3L1048.5,213.6L1047.8,210.3L1043.3,203.6L1043.3,199.2L1044.0,193.6L1042.4,190.3L1037.4,190.7L1034.6,186.3L1029.2,186.5L1022.9,189.6L1017.6,188.7L1013.0,190.5L1009.5,188.1L1005.9,185.0L1002.7,180.3L999.8,175.9L996.7,172.6L995.6,167.7L997.5,164.9L998.3,158.3L997.2,154.0L999.2,148.1L1002.1,142.8L1004.8,139.4L1010.0,135.7L1010.7,131.5L1012.8,127.8L1015.6,126.1Z M1019.0,94.4L1021.8,94.0L1028.3,92.3L1028.8,89.5L1026.8,88.8L1026.3,86.8L1024.5,85.0L1023.9,83.5L1024.1,80.7L1022.3,80.5L1022.8,78.9L1020.6,78.9L1019.4,81.2L1019.5,83.5L1020.4,85.1L1022.5,85.5L1022.6,88.2L1020.7,88.4L1020.8,90.4L1019.6,91.2L1022.5,91.9L1020.7,92.5Z M1013.2,91.2L1018.2,90.4L1018.8,87.1L1019.5,85.9L1017.3,84.8L1015.6,86.2L1013.6,86.8L1014.4,88.6L1013.0,90.4Z M1169.3,178.7L1170.2,179.2L1173.4,183.6L1172.5,186.5L1170.4,187.0L1169.5,182.5Z M1223.2,197.0L1224.2,195.8L1227.6,194.1L1230.2,193.0L1233.6,189.2L1236.3,184.7L1241.1,188.7L1238.9,192.5L1239.5,198.1L1238.6,202.1L1236.6,205.9L1235.6,209.2L1232.8,209.2L1230.3,207.4L1227.5,207.6L1225.0,203.6L1223.2,200.3Z M1198.0,187.8L1202.0,188.7L1207.8,195.4L1213.3,200.3L1215.0,204.8L1217.7,207.0L1216.9,213.2L1214.5,213.2L1210.9,209.2L1207.9,203.6L1204.6,197.0L1201.4,192.5Z M1262.9,202.1L1268.3,202.1L1269.9,207.6L1274.6,203.6L1280.8,206.1L1287.7,209.9L1291.8,213.6L1289.8,215.4L1292.0,218.1L1295.4,223.2L1290.2,222.5L1285.8,217.4L1282.6,220.3L1279.0,220.5L1274.8,218.8L1274.4,215.9L1276.0,214.8L1274.1,211.4L1269.7,210.1L1266.2,209.2L1265.5,206.5L1262.9,203.6Z M1222.0,248.8L1219.5,257.4L1216.4,265.9L1215.1,270.1L1210.9,274.9L1214.7,276.3L1222.5,274.3L1227.2,272.2L1237.3,269.3L1240.7,269.1L1243.8,271.6L1242.9,275.9L1249.5,272.2L1245.6,277.6L1245.4,281.5L1248.3,284.1L1252.1,284.7L1257.3,282.1L1261.4,281.1L1270.5,273.2L1277.5,268.0L1283.0,261.7L1286.3,255.3L1284.8,252.0L1284.0,248.8L1284.4,244.5L1281.6,242.3L1282.8,237.9L1283.2,233.5L1281.4,232.0L1281.7,228.0L1280.9,224.1L1278.2,229.1L1276.1,234.6L1273.3,239.0L1270.7,239.0L1269.3,235.1L1266.5,233.1L1269.8,227.4L1267.7,226.9L1262.8,225.4L1259.6,227.6L1255.6,233.5L1252.8,232.9L1251.5,231.1L1248.5,232.4L1244.7,236.4L1240.7,239.0L1239.6,241.2L1237.0,243.6L1233.2,244.5L1228.7,245.8L1224.2,248.2Z M1114.3,226.9L1115.4,234.6L1113.3,239.0L1107.4,254.2L1103.3,256.3L1101.3,252.0L1101.6,247.7L1104.0,243.4L1104.1,237.9L1108.5,235.1L1111.7,230.2Z"/></clipPath>
<g clip-path="url(#landB)" shape-rendering="crispEdges"><path fill="#bde6de" d="M860 120h5v5h-5zM845 135h5v5h-5zM860 165h5v5h-5zM1260 240h10v10h-10z"/><path fill="#a0dbcd" d="M865 120h5v10h-5zM855 125h10v5h-10zM845 130h5v5h-5zM1135 130h5v10h-5zM840 135h5v5h-5zM1130 135h5v5h-5zM845 140h10v5h-10zM845 145h5v5h-5zM1100 155h10v10h-10zM860 160h10v5h-10zM1110 160h5v5h-5zM855 165h5v5h-5zM865 165h5v5h-5zM910 190h5v5h-5zM1270 240h10v10h-10zM1250 250h20v10h-20zM1060 255h5v10h-5zM1225 255h5v5h-5z"/><path fill="#84cfb9" d="M990 50h5v5h-5zM870 105h5v5h-5zM865 110h5v10h-5zM860 115h5v5h-5zM850 120h10v5h-10zM850 125h5v15h-5zM840 130h5v5h-5zM855 130h5v20h-5zM1130 130h5v5h-5zM1140 130h5v10h-5zM840 140h5v15h-5zM850 145h5v5h-5zM845 150h5v5h-5zM1095 150h15v5h-15zM1090 155h10v25h-10zM850 160h10v5h-10zM1115 160h5v10h-5zM1165 160h5v10h-5zM850 165h5v35h-5zM1100 165h15v5h-15zM855 170h15v10h-15zM855 180h5v10h-5zM910 185h5v5h-5zM840 190h10v10h-10zM915 190h5v10h-5zM910 195h5v5h-5zM1085 195h5v5h-5zM1090 200h10v10h-10zM1090 230h5v5h-5zM1280 230h5v10h-5zM1260 235h20v5h-20zM1285 235h5v5h-5zM1040 240h20v10h-20zM1250 240h10v10h-10zM1020 250h20v10h-20zM1060 250h10v5h-10zM1220 250h30v5h-30zM1270 250h10v10h-10zM915 255h5v10h-5zM1065 255h5v15h-5zM1220 255h5v5h-5zM1230 255h20v5h-20zM1020 260h10v10h-10zM1230 260h10v5h-10zM1260 260h10v5h-10zM1060 265h5v5h-5zM1265 265h5v5h-5z"/><path fill="#65c2a3" d="M990 45h5v5h-5zM995 50h5v5h-5zM990 55h5v5h-5zM1090 90h35v10h-35zM1150 90h10v10h-10zM875 95h5v15h-5zM1145 95h5v5h-5zM870 100h5v5h-5zM1060 100h10v10h-10zM860 110h5v5h-5zM1140 110h10v20h-10zM1190 110h10v10h-10zM1145 130h5v10h-5zM1130 140h10v5h-10zM1135 145h5v5h-5zM1190 145h10v15h-10zM1090 150h5v5h-5zM840 155h10v5h-10zM1160 160h5v10h-5zM1205 165h5v5h-5zM900 170h10v10h-10zM1000 170h30v5h-30zM1210 170h10v5h-10zM845 175h5v15h-5zM1000 175h10v5h-10zM1020 175h15v5h-15zM840 180h5v10h-5zM860 180h10v10h-10zM910 180h10v5h-10zM1090 180h10v5h-10zM915 185h5v5h-5zM1095 185h5v5h-5zM855 190h5v10h-5zM905 190h5v10h-5zM1080 190h10v5h-10zM900 195h5v5h-5zM1080 195h5v5h-5zM1085 200h5v10h-5zM1235 200h5v10h-5zM1230 205h5v5h-5zM1090 210h20v5h-20zM1095 215h15v5h-15zM1050 230h5v10h-5zM1095 230h5v10h-5zM1260 230h20v5h-20zM1285 230h5v5h-5zM1055 235h5v5h-5zM1090 235h5v5h-5zM1020 240h20v10h-20zM1060 240h5v10h-5zM1245 240h5v10h-5zM1280 240h20v10h-20zM1065 245h5v5h-5zM1240 245h5v5h-5zM910 250h10v5h-10zM1040 250h10v5h-10zM910 255h5v15h-5zM1040 255h5v5h-5zM1220 260h10v5h-10zM1250 260h10v5h-10zM1270 260h10v20h-10zM915 265h5v5h-5zM1225 265h15v5h-15zM1255 265h10v5h-10zM1280 280h10v20h-10zM1290 290h10v10h-10z"/><path fill="#51b689" d="M990 40h10v5h-10zM995 45h5v5h-5zM985 50h5v20h-5zM995 55h5v5h-5zM980 60h5v10h-5zM870 90h10v5h-10zM1075 90h15v10h-15zM1125 90h10v10h-10zM1140 90h10v5h-10zM1160 90h10v10h-10zM870 95h5v5h-5zM1070 95h5v5h-5zM1135 95h10v5h-10zM1170 95h10v5h-10zM1055 100h5v10h-5zM1180 100h5v10h-5zM865 105h5v5h-5zM1185 105h5v5h-5zM870 110h10v5h-10zM1090 110h10v10h-10zM870 115h5v15h-5zM1170 125h10v5h-10zM860 130h5v5h-5zM860 140h5v10h-5zM1140 140h5v5h-5zM1150 140h20v10h-20zM1180 140h20v5h-20zM1130 145h5v5h-5zM1180 145h10v5h-10zM1160 150h10v10h-10zM835 155h5v15h-5zM1170 155h5v15h-5zM830 160h5v10h-5zM845 160h5v15h-5zM1175 160h5v10h-5zM1200 160h10v5h-10zM900 165h10v5h-10zM1200 165h5v5h-5zM840 170h5v10h-5zM870 170h10v10h-10zM1030 170h10v5h-10zM1155 170h15v10h-15zM1010 175h10v5h-10zM1035 175h5v5h-5zM1210 175h10v5h-10zM835 180h5v10h-5zM895 180h5v10h-5zM1060 180h10v10h-10zM1100 180h10v10h-10zM1150 180h10v10h-10zM1070 185h5v5h-5zM1090 185h5v15h-5zM900 190h5v5h-5zM920 190h5v10h-5zM1095 190h5v10h-5zM1140 190h10v10h-10zM900 200h10v15h-10zM1080 200h5v10h-5zM1100 200h10v10h-10zM1230 200h5v5h-5zM1240 205h5v10h-5zM945 210h5v20h-5zM1235 210h5v5h-5zM940 215h5v15h-5zM1090 215h5v15h-5zM1095 220h10v5h-10zM1095 225h5v5h-5zM910 230h10v20h-10zM930 230h10v5h-10zM1030 230h20v10h-20zM1055 230h5v5h-5zM1085 230h5v10h-5zM1255 230h5v10h-5zM1290 230h10v10h-10zM1020 235h10v5h-10zM1250 235h5v5h-5zM1065 240h5v5h-5zM1190 240h25v10h-25zM1240 240h5v5h-5zM1300 240h5v20h-5zM1215 245h5v15h-5zM1235 245h5v5h-5zM1305 245h5v20h-5zM1050 250h10v10h-10zM1210 250h5v10h-5zM1280 250h20v10h-20zM1045 255h5v5h-5zM1030 260h10v5h-10zM1055 260h5v5h-5zM1240 260h10v5h-10zM1030 265h5v5h-5zM1220 265h5v5h-5zM1250 265h5v5h-5zM1060 270h10v5h-10zM1265 270h5v5h-5zM1280 270h10v10h-10zM1065 275h5v5h-5zM1270 280h10v10h-10zM1290 280h10v10h-10zM1275 290h5v5h-5z"/><path fill="#3da96f" d="M990 35h5v5h-5zM980 50h5v10h-5zM1065 90h10v5h-10zM1135 90h5v5h-5zM1170 90h10v5h-10zM1060 95h10v5h-10zM865 100h5v5h-5zM1050 100h5v10h-5zM1070 100h10v5h-10zM1170 100h10v5h-10zM1185 100h5v5h-5zM860 105h5v5h-5zM1070 105h5v5h-5zM1175 105h5v5h-5zM1190 105h5v5h-5zM1180 110h10v15h-10zM875 115h5v15h-5zM1170 120h10v5h-10zM1180 125h5v5h-5zM865 130h5v20h-5zM1170 130h10v10h-10zM860 135h5v5h-5zM1150 135h5v5h-5zM1145 140h5v20h-5zM1095 145h10v5h-10zM1140 145h5v15h-5zM835 150h5v5h-5zM850 150h5v10h-5zM1010 150h10v10h-10zM1130 150h10v5h-10zM1170 150h10v5h-10zM1185 150h5v5h-5zM830 155h5v5h-5zM855 155h5v5h-5zM870 155h10v5h-10zM1110 155h5v5h-5zM1175 155h5v5h-5zM1200 155h5v5h-5zM840 160h5v10h-5zM870 160h5v10h-5zM890 160h25v5h-25zM1180 160h10v5h-10zM1195 160h5v5h-5zM1210 160h10v10h-10zM895 165h5v5h-5zM910 165h5v5h-5zM1085 165h5v10h-5zM1155 165h5v5h-5zM1180 165h5v5h-5zM1220 165h10v10h-10zM820 170h20v10h-20zM1100 170h15v5h-15zM1150 170h5v10h-5zM1170 170h10v10h-10zM1205 170h5v5h-5zM1100 175h5v5h-5zM1220 175h5v5h-5zM820 180h15v10h-15zM870 180h5v5h-5zM890 180h5v10h-5zM900 180h10v5h-10zM1040 180h20v10h-20zM1070 180h10v5h-10zM1140 180h10v10h-10zM1160 180h10v5h-10zM905 185h5v5h-5zM1075 185h5v5h-5zM860 190h10v5h-10zM925 190h5v10h-5zM1150 190h5v5h-5zM860 195h5v5h-5zM1100 195h5v5h-5zM910 200h5v5h-5zM960 200h20v20h-20zM1240 200h10v5h-10zM1245 205h5v15h-5zM940 210h5v5h-5zM1110 210h10v5h-10zM1230 210h5v10h-5zM900 215h10v5h-10zM1110 215h5v5h-5zM1235 215h10v5h-10zM935 220h5v10h-5zM1085 220h5v10h-5zM1105 220h5v10h-5zM1280 220h5v10h-5zM930 225h5v5h-5zM1050 225h10v5h-10zM1080 225h5v15h-5zM1100 225h5v35h-5zM1265 225h15v5h-15zM1285 225h5v5h-5zM940 230h10v5h-10zM1020 230h10v5h-10zM1230 230h10v15h-10zM1250 230h5v5h-5zM930 235h10v5h-10zM1060 235h5v5h-5zM1190 235h20v5h-20zM1245 235h5v5h-5zM1090 240h10v10h-10zM1105 240h5v20h-5zM1215 240h5v5h-5zM1305 240h5v5h-5zM1070 245h5v25h-5zM1220 245h15v5h-15zM1075 250h5v10h-5zM1110 250h10v20h-10zM1190 250h20v10h-20zM920 255h5v20h-5zM1040 260h15v5h-15zM1120 260h10v10h-10zM1215 260h5v5h-5zM1280 260h25v10h-25zM925 265h5v15h-5zM1035 265h5v5h-5zM1055 265h5v5h-5zM1240 265h10v5h-10zM1305 265h5v25h-5zM1260 270h5v20h-5zM1290 270h15v10h-15zM1060 275h5v5h-5zM1265 275h5v15h-5zM1070 280h10v10h-10zM1300 280h5v10h-5zM1270 290h5v10h-5zM1275 295h5v5h-5zM920 305h10v5h-10zM910 310h10v10h-10zM900 320h10v10h-10z"/><path fill="#2c9553" d="M990 30h10v5h-10zM995 35h5v5h-5zM985 45h5v5h-5zM810 70h30v15h-30zM985 70h5v5h-5zM880 80h10v10h-10zM930 80h10v10h-10zM1080 80h15v10h-15zM810 85h20v5h-20zM1095 85h10v5h-10zM1055 90h10v5h-10zM1180 90h5v10h-5zM880 95h5v10h-5zM1050 95h10v5h-10zM1185 95h5v5h-5zM860 100h5v5h-5zM1080 100h30v10h-30zM1125 100h30v5h-30zM1190 100h5v5h-5zM1075 105h5v5h-5zM1130 105h15v5h-15zM1170 105h5v5h-5zM1195 105h5v5h-5zM1020 110h5v5h-5zM1085 110h5v5h-5zM1100 110h10v10h-10zM1120 110h20v10h-20zM1200 110h5v20h-5zM855 115h5v5h-5zM1205 115h5v15h-5zM1110 120h10v20h-10zM1135 120h5v10h-5zM1150 120h20v15h-20zM1190 120h10v5h-10zM845 125h5v5h-5zM1130 125h5v5h-5zM1185 125h5v5h-5zM870 130h5v5h-5zM1100 130h10v15h-10zM1125 130h5v20h-5zM890 135h10v25h-10zM1155 135h15v5h-15zM1180 135h5v5h-5zM900 140h10v20h-10zM1020 140h10v10h-10zM1070 140h30v5h-30zM1120 140h5v10h-5zM1170 140h10v10h-10zM1200 140h10v15h-10zM1250 140h10v25h-10zM1070 145h25v5h-25zM1105 145h5v5h-5zM830 150h5v5h-5zM855 150h10v5h-10zM870 150h20v5h-20zM910 150h10v10h-10zM1060 150h30v5h-30zM1110 150h10v5h-10zM1150 150h10v15h-10zM1180 150h5v10h-5zM1240 150h10v20h-10zM860 155h10v5h-10zM880 155h10v25h-10zM920 155h5v5h-5zM1065 155h25v5h-25zM1115 155h5v5h-5zM1130 155h10v5h-10zM1185 155h5v5h-5zM1205 155h5v5h-5zM825 160h5v10h-5zM875 160h5v10h-5zM915 160h5v10h-5zM1005 160h15v10h-15zM1080 160h10v5h-10zM1120 160h5v55h-5zM1140 160h10v20h-10zM1190 160h5v15h-5zM1220 160h20v5h-20zM820 165h5v5h-5zM890 165h5v5h-5zM1000 165h5v5h-5zM1020 165h5v5h-5zM1080 165h5v10h-5zM1150 165h5v5h-5zM1185 165h5v5h-5zM1195 165h5v10h-5zM1230 165h10v5h-10zM1250 165h5v5h-5zM895 170h5v10h-5zM910 170h5v10h-5zM950 170h10v60h-10zM1115 170h5v40h-5zM1125 170h5v40h-5zM1200 170h5v10h-5zM1040 175h5v5h-5zM1085 175h5v5h-5zM1105 175h10v5h-10zM1205 175h5v5h-5zM1225 175h5v5h-5zM875 180h5v10h-5zM940 180h10v10h-10zM960 180h10v20h-10zM1035 180h5v5h-5zM1110 180h5v30h-5zM1130 180h10v30h-10zM1210 180h10v5h-10zM870 185h5v5h-5zM900 185h5v5h-5zM1160 185h10v5h-10zM890 190h10v20h-10zM930 190h10v10h-10zM970 190h5v10h-5zM1075 190h5v5h-5zM1100 190h10v5h-10zM1155 190h5v10h-5zM1310 190h10v60h-10zM865 195h5v5h-5zM975 195h5v5h-5zM1105 195h5v5h-5zM1150 195h5v5h-5zM915 200h5v30h-5zM940 200h10v10h-10zM980 200h10v50h-10zM1250 200h10v10h-10zM1300 200h10v40h-10zM910 205h5v25h-5zM880 210h10v10h-10zM1075 210h5v10h-5zM1085 210h5v10h-5zM1250 210h5v10h-5zM1295 210h5v20h-5zM935 215h5v5h-5zM1115 215h5v5h-5zM1290 215h5v15h-5zM930 220h5v5h-5zM960 220h20v10h-20zM1045 220h15v5h-15zM1080 220h5v5h-5zM1110 220h5v10h-5zM1230 220h20v10h-20zM1260 220h20v5h-20zM1285 220h5v5h-5zM1020 225h30v5h-30zM1255 225h10v5h-10zM900 230h10v10h-10zM920 230h10v10h-10zM970 230h10v10h-10zM1060 230h10v5h-10zM1105 230h5v10h-5zM1190 230h40v5h-40zM1240 230h10v5h-10zM940 235h10v5h-10zM1065 235h5v5h-5zM1210 235h20v5h-20zM1240 235h5v5h-5zM905 240h5v5h-5zM920 240h5v15h-5zM1070 240h20v5h-20zM1110 240h10v10h-10zM1220 240h10v5h-10zM1075 245h15v5h-15zM905 250h5v20h-5zM1090 250h10v10h-10zM1120 250h10v10h-10zM925 255h5v10h-5zM885 260h20v10h-20zM1075 260h15v20h-15zM1100 260h10v10h-10zM1190 260h25v10h-25zM880 265h5v25h-5zM1040 265h15v5h-15zM1215 265h5v5h-5zM885 270h15v10h-15zM1070 270h5v10h-5zM1090 270h10v30h-10zM1255 270h5v5h-5zM920 275h5v10h-5zM885 280h5v10h-5zM925 280h5v10h-5zM1060 280h10v20h-10zM1080 280h10v20h-10zM1250 280h10v30h-10zM1070 290h10v10h-10zM1260 290h10v20h-10zM920 300h10v5h-10zM1270 300h10v10h-10zM915 305h5v5h-5zM900 310h10v10h-10zM920 310h10v10h-10zM910 320h10v10h-10z"/><path fill="#18823d" d="M980 30h10v15h-10zM1000 30h5v5h-5zM810 40h30v30h-30zM1210 40h30v30h-30zM980 45h5v5h-5zM840 50h5v40h-5zM1205 50h5v20h-5zM1240 50h10v60h-10zM845 60h5v30h-5zM880 60h10v20h-10zM975 60h5v10h-5zM1200 60h5v10h-5zM930 65h10v15h-10zM970 65h5v5h-5zM980 70h5v10h-5zM990 70h5v5h-5zM1220 70h20v20h-20zM985 75h5v5h-5zM875 80h5v10h-5zM920 80h10v20h-10zM940 80h10v10h-10zM1075 80h5v10h-5zM1095 80h15v5h-15zM1120 80h10v10h-10zM830 85h10v5h-10zM870 85h5v5h-5zM1070 85h5v5h-5zM1105 85h5v5h-5zM810 90h10v5h-10zM850 90h10v10h-10zM880 90h10v5h-10zM1020 90h35v5h-35zM1185 90h5v5h-5zM1230 90h10v10h-10zM885 95h5v10h-5zM1020 95h30v5h-30zM1030 100h20v10h-20zM1120 100h5v10h-5zM1155 100h5v10h-5zM1195 100h5v5h-5zM880 105h5v5h-5zM1125 105h5v5h-5zM1145 105h10v5h-10zM855 110h5v5h-5zM1010 110h10v10h-10zM1025 110h5v10h-5zM1070 110h15v10h-15zM1110 110h10v10h-10zM1205 110h5v5h-5zM850 115h5v5h-5zM1020 115h5v5h-5zM1085 115h5v15h-5zM845 120h5v5h-5zM1080 120h5v10h-5zM1090 120h20v10h-20zM1120 120h15v5h-15zM1210 120h10v20h-10zM840 125h5v5h-5zM1120 125h10v5h-10zM1190 125h10v5h-10zM875 130h5v20h-5zM890 130h10v5h-10zM1090 130h10v10h-10zM1120 130h5v10h-5zM1180 130h10v5h-10zM1200 130h10v10h-10zM870 135h5v15h-5zM900 135h5v5h-5zM1020 135h10v5h-10zM1185 135h5v5h-5zM880 140h10v10h-10zM910 140h5v10h-5zM1040 140h30v10h-30zM1110 140h10v10h-10zM915 145h5v5h-5zM865 150h5v5h-5zM920 150h20v5h-20zM1020 150h10v15h-10zM1040 150h20v10h-20zM1120 150h10v10h-10zM1210 150h10v10h-10zM1235 150h5v10h-5zM925 155h15v5h-15zM1060 155h5v5h-5zM1220 155h15v5h-15zM820 160h5v5h-5zM920 160h10v20h-10zM1000 160h5v5h-5zM1040 160h10v15h-10zM1070 160h10v5h-10zM1125 160h15v10h-15zM1025 165h5v5h-5zM1075 165h5v5h-5zM1255 165h5v10h-5zM890 170h5v10h-5zM915 170h5v10h-5zM945 170h5v10h-5zM1130 170h10v10h-10zM1180 170h10v10h-10zM1230 170h25v5h-25zM940 175h5v5h-5zM1045 175h5v5h-5zM1060 175h10v5h-10zM1080 175h5v5h-5zM1190 175h10v5h-10zM1230 175h5v5h-5zM880 180h10v10h-10zM930 180h10v10h-10zM1030 180h5v20h-5zM1170 180h10v30h-10zM1200 180h10v5h-10zM1260 180h10v40h-10zM1035 185h5v15h-5zM1205 185h15v5h-15zM940 190h10v10h-10zM975 190h5v5h-5zM1000 190h10v30h-10zM1020 190h10v20h-10zM1040 190h10v5h-10zM1070 190h5v10h-5zM1160 190h10v20h-10zM1250 190h10v10h-10zM980 195h10v5h-10zM1040 195h5v5h-5zM1075 195h5v5h-5zM1240 195h10v5h-10zM1305 195h5v5h-5zM860 200h5v5h-5zM990 200h10v20h-10zM1010 200h10v20h-10zM1150 200h10v10h-10zM1210 200h5v30h-5zM1270 200h10v20h-10zM1215 205h5v25h-5zM1295 205h5v5h-5zM860 210h20v30h-20zM890 210h10v20h-10zM935 210h5v5h-5zM1070 210h5v10h-5zM1080 210h5v10h-5zM1125 210h15v40h-15zM1220 210h10v20h-10zM1255 210h5v15h-5zM1290 210h5v5h-5zM930 215h5v5h-5zM1120 215h5v35h-5zM880 220h10v10h-10zM900 220h10v10h-10zM920 220h10v10h-10zM1020 220h25v5h-25zM1115 220h5v20h-5zM1200 220h10v10h-10zM1250 220h5v10h-5zM950 230h20v10h-20zM1070 230h10v10h-10zM1110 230h5v10h-5zM860 240h10v10h-10zM900 240h5v20h-5zM925 240h5v15h-5zM975 240h5v5h-5zM895 245h5v15h-5zM905 245h5v5h-5zM890 250h5v10h-5zM1080 250h10v10h-10zM1130 250h10v10h-10zM885 255h5v5h-5zM880 260h5v5h-5zM1090 260h10v10h-10zM900 270h10v10h-10zM930 270h10v20h-10zM1030 270h15v5h-15zM1100 270h10v10h-10zM1220 270h10v10h-10zM1250 270h5v10h-5zM1255 275h5v5h-5zM890 280h10v5h-10zM940 280h10v60h-10zM1055 280h5v20h-5zM1240 280h10v30h-10zM890 285h5v5h-5zM920 285h5v5h-5zM910 290h5v20h-5zM935 290h5v50h-5zM950 290h10v50h-10zM1230 290h10v20h-10zM915 295h5v10h-5zM1050 295h5v5h-5zM890 300h20v10h-20zM930 300h5v40h-5zM1220 300h10v10h-10zM890 310h10v10h-10zM920 320h10v20h-10zM910 330h10v10h-10z"/><path fill="#05712f" d="M1005 30h5v10h-5zM1000 35h5v15h-5zM840 40h20v10h-20zM1195 40h15v10h-15zM845 50h10v10h-10zM875 50h15v10h-15zM1195 50h10v10h-10zM930 60h10v5h-10zM970 60h5v5h-5zM990 60h10v5h-10zM990 65h5v5h-5zM925 70h5v10h-5zM975 70h5v5h-5zM995 70h5v10h-5zM920 75h5v5h-5zM990 75h5v5h-5zM850 80h5v10h-5zM870 80h5v5h-5zM950 80h10v10h-10zM1070 80h5v5h-5zM855 85h5v5h-5zM1065 85h5v5h-5zM1110 85h10v5h-10zM1130 85h20v5h-20zM1160 85h10v5h-10zM820 90h10v10h-10zM840 90h10v10h-10zM865 90h5v10h-5zM930 90h5v5h-5zM1225 90h5v5h-5zM810 95h10v5h-10zM860 95h5v5h-5zM1190 95h5v5h-5zM855 100h5v10h-5zM1000 100h5v20h-5zM1110 100h10v5h-10zM1160 100h10v5h-10zM1235 100h5v5h-5zM885 105h5v5h-5zM1005 105h5v15h-5zM1110 105h5v5h-5zM1200 105h5v5h-5zM850 110h5v5h-5zM880 110h5v20h-5zM1030 110h10v5h-10zM1055 110h5v5h-5zM1150 110h5v10h-5zM1175 110h5v10h-5zM1210 110h10v10h-10zM1030 115h5v5h-5zM840 120h5v5h-5zM1070 120h10v10h-10zM1220 120h5v10h-5zM1225 125h5v5h-5zM835 130h5v20h-5zM900 130h10v5h-10zM1020 130h10v5h-10zM1190 130h5v10h-5zM885 135h5v5h-5zM905 135h5v5h-5zM1085 135h5v5h-5zM1195 135h5v5h-5zM915 140h5v5h-5zM1210 140h5v10h-5zM1240 140h10v10h-10zM920 145h5v5h-5zM1015 145h5v5h-5zM1220 150h15v5h-15zM825 155h5v5h-5zM1005 155h5v5h-5zM930 160h10v10h-10zM815 165h5v5h-5zM1030 165h10v5h-10zM1070 165h5v5h-5zM940 170h5v5h-5zM995 170h5v30h-5zM1060 170h10v5h-10zM1050 175h10v5h-10zM1235 175h25v5h-25zM920 180h5v10h-5zM990 180h5v20h-5zM1000 180h30v5h-30zM1080 180h10v10h-10zM1180 180h10v25h-10zM1220 180h10v5h-10zM1250 180h10v10h-10zM1270 180h20v20h-20zM925 185h5v5h-5zM970 185h5v5h-5zM1200 185h5v5h-5zM1220 185h5v5h-5zM870 190h10v5h-10zM885 190h5v5h-5zM980 190h10v5h-10zM1010 190h10v10h-10zM1050 190h20v5h-20zM1240 190h10v5h-10zM1300 190h10v5h-10zM870 195h5v15h-5zM1045 195h5v5h-5zM1300 195h5v5h-5zM865 200h5v10h-5zM875 200h5v10h-5zM920 200h5v5h-5zM1030 200h5v5h-5zM1075 200h5v10h-5zM1215 200h5v5h-5zM1290 200h10v5h-10zM860 205h5v5h-5zM885 205h5v5h-5zM1180 205h5v5h-5zM1290 205h5v5h-5zM930 210h5v5h-5zM1020 210h10v10h-10zM1200 210h10v10h-10zM920 215h10v5h-10zM1280 215h10v5h-10zM1075 220h5v10h-5zM1190 220h10v10h-10zM1060 225h5v5h-5zM880 230h10v10h-10zM895 230h5v5h-5zM870 240h10v10h-10zM890 240h10v5h-10zM970 240h5v10h-5zM890 245h5v5h-5zM975 245h5v5h-5zM880 250h10v5h-10zM880 255h5v5h-5zM930 265h5v5h-5zM910 270h10v5h-10zM1045 270h15v5h-15zM1190 270h20v10h-20zM1215 270h5v5h-5zM1230 270h10v5h-10zM940 275h5v5h-5zM1030 275h20v5h-20zM1055 275h5v5h-5zM950 280h5v10h-5zM1030 280h10v5h-10zM1050 280h5v15h-5zM1210 280h30v10h-30zM895 285h5v15h-5zM955 285h5v5h-5zM890 290h5v10h-5zM900 290h10v10h-10zM915 290h5v5h-5zM930 290h5v10h-5zM1045 290h5v10h-5zM1210 290h20v10h-20z"/><path fill="#005b25" d="M970 30h10v10h-10zM1010 30h5v10h-5zM860 40h35v10h-35zM1005 40h5v10h-5zM1180 40h15v30h-15zM855 50h20v20h-20zM890 50h10v10h-10zM975 50h5v10h-5zM1000 50h5v30h-5zM1050 50h20v30h-20zM1175 50h5v5h-5zM960 55h10v45h-10zM1070 55h5v15h-5zM850 60h5v20h-5zM875 60h5v10h-5zM920 60h10v10h-10zM940 60h20v20h-20zM1005 60h45v10h-45zM1075 60h5v10h-5zM1110 60h10v10h-10zM1130 60h10v10h-10zM1160 60h10v10h-10zM1195 60h5v10h-5zM995 65h5v5h-5zM855 70h5v15h-5zM890 70h10v30h-10zM920 70h5v5h-5zM970 70h5v30h-5zM1005 70h35v5h-35zM1080 70h10v10h-10zM1100 70h10v10h-10zM1120 70h10v10h-10zM1170 70h10v10h-10zM1200 70h20v10h-20zM875 75h5v5h-5zM975 75h5v25h-5zM1005 75h5v5h-5zM1020 75h20v5h-20zM1090 75h10v5h-10zM860 80h10v10h-10zM980 80h20v20h-20zM1020 80h10v10h-10zM1060 80h10v5h-10zM1110 80h10v5h-10zM1130 80h20v5h-20zM1160 80h10v5h-10zM1210 80h10v10h-10zM1055 85h10v5h-10zM1150 85h10v5h-10zM1170 85h15v5h-15zM830 90h10v30h-10zM860 90h5v5h-5zM900 90h20v10h-20zM935 90h5v50h-5zM950 90h10v10h-10zM1005 90h15v15h-15zM1190 90h10v5h-10zM1220 90h5v10h-5zM930 95h5v45h-5zM1000 95h5v5h-5zM1195 95h5v5h-5zM1225 95h5v5h-5zM810 100h20v20h-20zM840 100h15v10h-15zM910 100h20v40h-20zM990 100h10v20h-10zM1020 100h10v10h-10zM1200 100h10v5h-10zM1230 100h5v40h-5zM1010 105h10v5h-10zM1115 105h5v5h-5zM1160 105h10v5h-10zM1205 105h5v5h-5zM1235 105h5v45h-5zM885 110h5v25h-5zM940 110h10v20h-10zM1040 110h15v5h-15zM1060 110h10v5h-10zM1155 110h5v10h-5zM1170 110h5v10h-5zM1240 110h10v30h-10zM845 115h5v5h-5zM1035 115h5v5h-5zM1050 115h10v25h-10zM1160 115h10v5h-10zM810 120h15v40h-15zM900 120h10v10h-10zM1000 120h10v10h-10zM1040 120h10v20h-10zM1060 120h10v20h-10zM1225 120h5v5h-5zM835 125h5v5h-5zM895 125h5v5h-5zM825 130h10v20h-10zM880 130h5v10h-5zM1010 130h10v15h-10zM1030 130h10v35h-10zM1070 130h20v5h-20zM1195 130h5v5h-5zM1220 130h10v10h-10zM1070 135h15v5h-15zM920 140h10v5h-10zM985 140h25v5h-25zM1215 140h5v10h-5zM925 145h5v5h-5zM990 145h25v5h-25zM1230 145h5v5h-5zM825 150h5v5h-5zM990 150h20v5h-20zM990 155h15v5h-15zM810 160h10v5h-10zM940 160h10v10h-10zM995 160h5v10h-5zM1050 160h5v5h-5zM1065 160h5v10h-5zM810 165h5v5h-5zM930 170h10v10h-10zM970 170h25v10h-25zM1050 170h10v5h-10zM1070 170h10v10h-10zM925 180h5v5h-5zM970 180h20v5h-20zM1190 180h10v40h-10zM1230 180h20v10h-20zM1290 180h20v10h-20zM975 185h15v5h-15zM1000 185h30v5h-30zM1225 185h5v5h-5zM880 190h5v20h-5zM1200 190h20v10h-20zM1290 190h10v10h-10zM875 195h5v5h-5zM885 195h5v10h-5zM1050 195h20v5h-20zM1230 195h10v5h-10zM925 200h15v5h-15zM1035 200h5v20h-5zM1070 200h5v10h-5zM1200 200h10v10h-10zM1225 200h5v10h-5zM1280 200h10v15h-10zM920 205h10v10h-10zM935 205h5v5h-5zM1030 205h5v15h-5zM1185 205h5v25h-5zM1220 205h5v5h-5zM1060 210h10v15h-10zM1180 210h5v20h-5zM1040 215h20v5h-20zM1070 220h5v10h-5zM1065 225h5v5h-5zM890 230h5v10h-5zM895 235h5v5h-5zM880 240h10v10h-10zM930 240h20v5h-20zM960 240h10v10h-10zM870 250h10v10h-10zM975 250h5v5h-5zM930 255h5v10h-5zM935 260h5v10h-5zM940 270h10v5h-10zM1210 270h5v10h-5zM1240 270h10v5h-10zM910 275h10v5h-10zM945 275h5v5h-5zM1050 275h5v5h-5zM1215 275h5v5h-5zM1230 275h10v5h-10zM1245 275h5v5h-5zM900 280h10v10h-10zM915 280h5v10h-5zM955 280h5v5h-5zM1040 280h10v10h-10zM1190 280h20v20h-20zM1030 285h10v15h-10zM920 290h10v10h-10zM1040 290h5v10h-5z"/><path fill="#00441b" d="M890 30h80v10h-80zM1015 30h165v20h-165zM895 40h85v10h-85zM1010 40h5v20h-5zM900 50h75v5h-75zM1005 50h5v10h-5zM1015 50h35v10h-35zM1070 50h105v5h-105zM900 55h60v5h-60zM970 55h5v5h-5zM1075 55h105v5h-105zM890 60h30v10h-30zM1080 60h30v10h-30zM1120 60h10v10h-10zM1140 60h20v20h-20zM1170 60h10v10h-10zM860 70h20v5h-20zM900 70h20v20h-20zM1040 70h10v20h-10zM1070 70h10v10h-10zM1090 70h10v5h-10zM1110 70h10v10h-10zM1130 70h10v10h-10zM1160 70h10v10h-10zM1180 70h20v15h-20zM860 75h15v5h-15zM1010 75h10v15h-10zM1000 80h10v10h-10zM1030 80h10v10h-10zM1050 80h10v5h-10zM1150 80h10v5h-10zM1170 80h10v5h-10zM1200 80h10v20h-10zM1050 85h5v5h-5zM1185 85h15v5h-15zM940 90h10v20h-10zM1000 90h5v5h-5zM1210 90h10v20h-10zM890 100h20v20h-20zM950 100h20v20h-20zM1220 100h10v20h-10zM840 110h10v5h-10zM980 110h10v30h-10zM1160 110h10v5h-10zM840 115h5v5h-5zM1040 115h10v5h-10zM1060 115h10v5h-10zM825 120h15v5h-15zM890 120h10v5h-10zM990 120h10v20h-10zM1010 120h30v10h-30zM825 125h10v5h-10zM890 125h5v5h-5zM1000 130h10v10h-10zM970 140h15v30h-15zM1220 140h15v5h-15zM985 145h5v25h-5zM1220 145h10v5h-10zM990 160h5v10h-5zM1055 160h10v10h-10zM1050 165h5v5h-5zM1220 190h20v5h-20zM1220 195h10v5h-10zM1040 200h30v10h-30zM1220 200h5v5h-5zM930 205h5v5h-5zM1040 210h20v5h-20zM950 240h10v40h-10zM930 245h20v10h-20zM960 250h15v20h-15zM935 255h15v5h-15zM975 255h5v15h-5zM940 260h10v10h-10zM960 270h10v20h-10zM1240 275h5v5h-5zM910 280h5v10h-5z"/></g>
<path d="M1070.4,111.9L1074.2,111.7L1079.1,110.1L1084.1,112.1L1089.1,111.1L1087.4,108.1L1083.7,105.5L1080.2,103.6L1081.2,100.1L1076.8,101.8L1077.3,103.6L1075.6,105.3L1073.5,102.4L1070.8,101.0L1069.5,103.8L1068.8,107.1L1068.1,109.1L1069.2,110.9Z M1095.3,105.1L1096.6,101.2L1099.8,100.3L1102.3,101.2L1103.6,104.2L1101.1,105.1L1101.3,108.1L1104.9,109.1L1107.2,113.1L1109.9,116.1L1111.0,120.2L1106.8,120.8L1103.1,119.1L1101.7,113.5L1097.1,108.1Z M1112.5,106.1L1112.3,101.2L1115.0,102.2L1116.2,106.1Z" fill="#f0f0f0" stroke="none"/>
<path d="M852.5,67.3L862.9,65.7L866.8,62.9L889.2,58.4L892.4,59.9L895.9,60.9L899.2,61.8L909.4,60.3L911.3,61.1L915.3,61.8L915.0,63.4L921.8,63.4L927.6,63.4L934.7,62.6L944.6,58.1L941.7,61.8L943.1,63.4L950.4,61.1L945.8,64.9L938.6,66.5L932.1,69.8L922.2,73.1L914.1,78.2L912.5,81.7L917.1,82.6L921.4,85.3L918.0,89.9L918.7,92.3L921.3,90.8L925.1,86.2L930.0,83.5L932.9,79.1L939.6,72.6L944.7,73.1L946.4,74.8L943.5,78.6L947.3,79.1L951.7,76.0L950.8,80.8L950.7,84.4L952.2,88.0L952.3,90.8L948.2,92.7L944.6,94.2L936.4,94.2L930.2,97.4L936.4,96.4L936.9,97.2L934.2,100.3L934.5,102.2L938.3,103.2L940.8,101.2L938.0,103.8L932.8,105.5L929.0,107.1L930.4,104.5L929.1,104.2L923.1,107.1L920.6,110.5L913.9,113.1L909.0,118.1L905.4,124.3L901.2,126.3L894.1,131.5L892.1,141.1L890.3,144.9L888.5,144.3L888.2,138.9L887.9,134.7L884.9,134.1L879.8,134.3L877.1,136.8L870.9,135.7L864.5,138.9L861.0,145.3L858.5,150.7L859.2,158.3L862.2,160.0L867.8,159.0L870.0,154.0L876.4,152.9L874.0,158.3L870.7,164.9L875.0,165.3L879.4,167.1L877.2,175.9L878.9,179.9L883.3,180.3L885.2,179.2L888.0,181.4L891.8,176.5L896.5,174.8L899.4,173.0L898.9,176.3L901.9,174.1L905.1,176.8L912.3,177.0L915.8,177.0L919.0,181.4L924.0,187.0L929.4,187.4L933.8,190.3L936.3,198.1L939.9,202.1L946.3,205.9L952.6,207.0L959.0,210.8L963.6,212.5L964.1,218.1L960.6,225.8L957.5,231.3L958.3,240.1L955.9,248.8L952.8,251.0L948.1,253.1L944.6,257.4L945.4,262.7L942.9,268.0L940.6,274.3L936.3,275.9L932.9,274.3L936.7,279.4L936.7,283.5L930.9,284.5L932.2,288.5L928.1,288.5L931.5,291.5L931.6,296.4L929.5,298.4L933.3,301.3L932.7,307.0L935.8,310.3L943.2,314.9L939.7,315.8L935.4,314.4L928.6,310.7L920.5,302.2L917.8,294.5L914.2,286.5L912.0,280.4L910.9,272.2L907.8,263.8L906.3,253.1L903.7,240.8L900.2,237.9L891.9,231.3L889.1,226.9L884.9,218.1L880.3,212.5L880.1,209.9L882.3,207.0L880.8,202.5L882.2,199.2L884.0,197.0L886.9,191.4L887.3,184.7L885.9,181.2L882.4,184.1L878.1,182.1L874.6,178.1L873.3,174.8L871.2,171.5L865.4,169.3L861.1,164.4L855.6,165.3L851.0,162.7L845.3,158.3L843.7,155.0L845.3,150.7L843.2,145.3L842.3,140.0L840.3,135.7L839.3,131.1L838.4,134.7L838.9,140.0L838.5,146.4L838.5,149.6L836.4,145.3L835.3,138.9L835.7,133.6L836.5,129.0L833.7,125.3L834.8,120.6L837.5,113.5L841.9,108.1L848.6,101.8L852.3,97.6L854.2,98.0L856.6,95.9L854.9,92.7L859.6,86.2L862.6,81.7L863.2,79.1L863.1,76.5L858.7,75.1L852.6,76.5L845.7,78.2L838.3,80.8L830.1,82.6L820.1,85.3L815.6,86.0L824.7,83.5L836.8,79.1L835.6,77.4L839.0,73.9L846.0,71.4L854.9,69.3L851.5,68.9Z M978.8,49.0L987.9,46.2L996.0,44.5L1005.6,43.4L1013.4,42.8L1016.4,44.5L1020.2,45.0L1014.7,48.0L1012.7,51.8L1008.4,55.9L1006.7,59.6L1001.7,62.6L994.1,64.2L987.4,67.0L982.0,70.6L975.8,76.5L971.6,74.8L971.8,69.8L973.2,64.9L976.4,61.1L979.4,57.4L982.8,52.5L978.3,51.8L977.1,50.5Z M962.2,55.0L963.3,56.2L964.9,59.9L963.9,65.7L955.2,71.4L950.6,72.8L949.3,69.8L944.8,68.1L955.7,63.4L953.4,60.3L946.4,59.6L954.4,55.2Z M919.5,60.3L927.0,62.1L934.1,60.3L939.8,55.9L932.3,55.9L923.7,58.1Z M919.5,57.4L928.1,56.7L934.3,54.5L930.7,53.8Z M962.3,51.1L970.9,51.1L996.3,43.9L991.6,43.4L978.9,45.0Z M953.2,53.2L964.2,53.8L968.1,51.8L962.4,50.5Z M938.7,53.2L950.2,53.2L956.6,51.1L948.5,50.5Z M943.0,98.9L947.5,100.7L952.1,99.3L952.8,95.5L951.8,91.7L948.3,93.6L944.2,97.4Z M1001.7,67.3L1003.8,65.9L1008.3,66.0L1011.7,66.5L1012.2,68.1L1010.6,69.3L1005.9,70.8L1002.3,69.9L1003.4,68.5Z M1017.7,122.2L1012.4,120.2L1011.9,116.7L1013.3,111.1L1012.9,107.7L1014.8,106.7L1021.4,107.1L1024.3,107.1L1024.8,102.2L1023.0,99.7L1020.0,97.6L1024.5,97.0L1024.1,95.1L1026.8,95.5L1028.7,92.9L1031.2,91.7L1032.7,89.0L1035.7,88.0L1037.8,87.1L1036.9,84.4L1036.7,81.7L1039.3,80.5L1039.5,83.5L1039.0,85.3L1040.8,87.1L1044.7,87.1L1050.2,85.9L1052.0,86.2L1053.1,84.4L1052.4,81.7L1054.0,80.5L1056.4,81.4L1054.5,78.2L1059.4,77.0L1061.6,76.5L1058.9,75.5L1053.4,76.5L1050.9,74.8L1050.2,71.4L1052.8,68.1L1051.2,66.8L1049.1,68.1L1046.0,72.2L1046.3,75.1L1048.6,76.8L1046.7,80.8L1046.5,83.2L1044.5,84.6L1042.5,83.5L1040.0,79.1L1038.9,77.4L1036.2,79.8L1033.1,78.6L1032.3,74.8L1034.3,71.7L1037.3,69.8L1039.3,66.5L1041.0,62.9L1044.0,60.6L1049.3,58.7L1054.6,59.9L1057.4,61.4L1066.9,64.2L1068.3,66.2L1061.9,65.7L1059.7,65.4L1063.9,69.3L1068.8,68.6L1071.6,66.5L1068.6,62.6L1071.2,63.4L1077.3,62.6L1083.1,61.8L1082.7,60.6L1090.7,62.6L1085.9,58.8L1083.6,55.9L1090.2,58.1L1097.4,63.4L1090.8,57.4L1093.9,56.7L1091.7,55.0L1093.0,53.2L1097.2,51.4L1096.5,49.6L1109.1,51.8L1113.3,55.2L1117.5,55.0L1131.5,55.9L1141.8,58.8L1143.5,56.4L1157.3,58.1L1174.3,60.8L1183.1,60.6L1195.8,61.8L1214.8,68.1L1214.4,68.9L1225.2,72.2L1222.5,73.4L1225.1,76.5L1218.8,76.8L1224.1,80.0L1229.7,83.5L1236.7,89.0L1238.3,92.7L1228.4,87.1L1218.3,81.7L1216.8,80.0L1211.6,75.6L1208.0,72.2L1207.9,73.9L1204.5,73.9L1208.1,77.4L1202.2,77.4L1195.8,77.7L1197.7,80.8L1200.0,85.9L1205.0,87.5L1211.2,88.6L1218.7,94.6L1223.9,98.4L1224.6,101.2L1225.7,106.1L1224.5,108.5L1221.4,109.1L1223.0,112.1L1221.9,114.5L1229.5,120.2L1232.2,123.6L1229.0,125.3L1225.1,120.2L1221.1,118.1L1218.2,114.7L1214.0,116.1L1212.2,113.1L1210.0,112.3L1208.3,115.7L1212.8,119.5L1218.3,119.5L1216.8,124.3L1223.0,129.5L1226.6,132.6L1228.9,137.9L1228.9,144.3L1226.7,148.6L1222.6,151.1L1217.4,153.3L1217.3,155.5L1213.6,152.4L1211.3,154.6L1210.8,158.3L1214.4,162.7L1218.4,166.0L1220.9,172.6L1217.6,177.0L1214.7,181.0L1213.9,178.1L1210.3,175.9L1208.6,173.2L1205.5,170.6L1204.3,172.6L1204.0,178.1L1206.4,182.5L1209.9,186.5L1212.8,191.4L1214.5,197.2L1213.1,197.0L1209.2,194.1L1207.0,188.1L1202.9,182.5L1202.6,177.0L1200.1,169.3L1198.0,163.8L1194.5,165.3L1191.5,160.5L1186.8,155.0L1184.4,151.1L1182.4,151.8L1179.2,152.4L1177.2,154.6L1176.0,156.6L1171.2,163.3L1168.1,166.4L1169.0,171.5L1169.1,177.4L1166.3,181.4L1165.5,182.3L1162.9,178.1L1159.4,171.5L1156.0,164.9L1153.4,158.3L1152.3,154.0L1149.1,154.4L1145.2,151.1L1146.7,150.1L1143.1,148.1L1140.4,145.8L1135.9,144.7L1130.9,144.9L1124.7,144.0L1122.4,141.5L1121.1,140.8L1117.5,141.9L1112.7,139.4L1110.0,135.1L1106.9,134.1L1106.0,135.7L1107.9,138.9L1110.8,142.1L1112.8,145.3L1113.5,143.2L1114.6,146.8L1118.6,147.0L1121.4,142.8L1122.7,146.4L1126.9,148.3L1129.3,150.9L1128.0,155.5L1127.2,158.5L1123.1,162.7L1118.2,165.5L1112.8,169.3L1106.5,171.9L1103.9,172.1L1102.0,167.1L1100.2,161.6L1094.3,153.3L1090.1,146.8L1085.4,138.9L1084.3,135.7L1083.9,139.4L1080.4,134.7L1079.5,132.2L1082.7,132.0L1083.2,128.4L1083.6,122.6L1083.5,120.8L1080.2,121.6L1077.9,122.0L1074.7,120.6L1072.3,121.6L1069.4,120.2L1067.6,117.1L1066.8,115.1L1066.5,113.7L1066.0,112.5L1063.0,112.5L1061.6,113.5L1061.7,115.7L1063.9,118.1L1062.8,121.2L1060.7,120.6L1059.5,117.5L1056.2,113.1L1055.9,110.5L1052.5,108.1L1048.5,105.1L1046.5,103.0L1044.4,103.6L1044.9,106.1L1047.4,109.1L1050.9,110.5L1054.8,113.9L1052.4,113.3L1051.9,115.1L1052.9,116.1L1051.5,118.1L1050.6,114.1L1048.3,112.7L1045.1,110.7L1042.2,108.3L1041.2,106.1L1039.4,105.3L1037.6,106.7L1034.0,107.5L1031.3,107.7L1031.4,110.5L1027.8,112.5L1026.2,115.1L1026.9,116.7L1025.5,118.9L1023.1,120.8L1019.5,120.8Z M1017.2,122.6L1023.4,123.9L1028.1,121.2L1034.4,120.6L1042.2,119.5L1043.8,120.4L1043.1,125.7L1045.1,128.0L1051.2,129.7L1056.2,133.6L1059.4,132.6L1059.0,129.0L1063.8,129.0L1067.4,131.1L1074.1,132.6L1077.2,131.5L1079.5,132.2L1080.4,134.7L1082.5,138.9L1087.1,147.5L1090.9,154.0L1092.0,159.0L1096.3,166.4L1102.1,172.6L1103.7,174.8L1106.9,177.0L1112.1,175.4L1117.7,173.9L1117.4,179.2L1113.0,190.3L1105.9,198.1L1101.4,204.5L1098.1,209.2L1096.3,214.8L1097.3,220.3L1098.8,224.7L1098.4,233.5L1093.1,239.0L1087.3,244.5L1087.3,252.0L1082.0,257.4L1080.7,262.7L1076.6,268.0L1070.0,273.9L1063.4,274.7L1058.5,275.9L1056.1,274.7L1055.9,270.1L1054.0,262.7L1051.9,257.4L1051.5,249.9L1047.5,240.1L1047.3,235.7L1050.6,228.0L1050.2,220.3L1048.5,213.6L1047.8,210.3L1043.3,203.6L1043.3,199.2L1044.0,193.6L1042.4,190.3L1037.4,190.7L1034.6,186.3L1029.2,186.5L1022.9,189.6L1017.6,188.7L1013.0,190.5L1009.5,188.1L1005.9,185.0L1002.7,180.3L999.8,175.9L996.7,172.6L995.6,167.7L997.5,164.9L998.3,158.3L997.2,154.0L999.2,148.1L1002.1,142.8L1004.8,139.4L1010.0,135.7L1010.7,131.5L1012.8,127.8L1015.6,126.1Z M1019.0,94.4L1021.8,94.0L1028.3,92.3L1028.8,89.5L1026.8,88.8L1026.3,86.8L1024.5,85.0L1023.9,83.5L1024.1,80.7L1022.3,80.5L1022.8,78.9L1020.6,78.9L1019.4,81.2L1019.5,83.5L1020.4,85.1L1022.5,85.5L1022.6,88.2L1020.7,88.4L1020.8,90.4L1019.6,91.2L1022.5,91.9L1020.7,92.5Z M1013.2,91.2L1018.2,90.4L1018.8,87.1L1019.5,85.9L1017.3,84.8L1015.6,86.2L1013.6,86.8L1014.4,88.6L1013.0,90.4Z M1239.8,132.2L1241.5,131.5L1240.1,128.4L1242.9,126.7L1245.5,127.4L1245.7,125.1L1248.7,124.9L1249.8,122.8L1246.0,118.1L1244.5,114.9L1239.9,111.3L1239.4,112.9L1242.2,116.1L1243.4,119.5L1240.7,119.5L1242.2,122.8L1237.2,123.4L1236.7,125.9L1236.1,128.0Z M1237.6,111.1L1237.6,109.3L1241.5,110.1L1242.0,107.5L1238.7,106.1L1231.8,103.4L1236.1,107.5L1236.0,109.1Z M1230.8,102.2L1231.0,100.7L1224.2,95.9L1227.0,96.4L1217.1,90.8L1210.8,86.8L1211.7,88.0L1221.0,94.6L1226.0,98.4Z M1232.6,149.6L1234.9,151.8L1233.7,145.8L1232.6,144.9L1231.9,146.8Z M1215.9,157.9L1219.7,160.0L1219.4,156.6L1217.5,155.9Z M1169.3,178.7L1170.2,179.2L1173.4,183.6L1172.5,186.5L1170.4,187.0L1169.5,182.5Z M1237.0,159.4L1239.9,159.4L1241.0,163.8L1241.5,168.2L1246.5,170.4L1246.9,172.1L1242.7,169.7L1240.0,168.8L1237.9,164.9Z M1245.7,184.7L1247.8,181.2L1251.0,178.5L1253.6,183.6L1252.2,187.0L1249.5,186.5Z M1243.8,174.1L1246.1,174.8L1248.8,172.6L1250.4,175.9L1248.2,178.1L1246.7,179.6L1245.5,178.1Z M1236.6,181.6L1239.6,175.2L1239.7,177.4L1237.3,181.6Z M1223.2,197.0L1224.2,195.8L1227.6,194.1L1230.2,193.0L1233.6,189.2L1236.3,184.7L1241.1,188.7L1238.9,192.5L1239.5,198.1L1238.6,202.1L1236.6,205.9L1235.6,209.2L1232.8,209.2L1230.3,207.4L1227.5,207.6L1225.0,203.6L1223.2,200.3Z M1198.0,187.8L1202.0,188.7L1207.8,195.4L1213.3,200.3L1215.0,204.8L1217.7,207.0L1216.9,213.2L1214.5,213.2L1210.9,209.2L1207.9,203.6L1204.6,197.0L1201.4,192.5Z M1215.7,215.4L1221.5,215.2L1225.7,214.5L1229.2,215.9L1232.0,217.6L1231.4,219.4L1225.5,218.8L1220.3,217.6L1216.9,216.3Z M1241.6,212.5L1243.2,212.5L1243.4,207.0L1245.4,210.3L1247.2,210.3L1245.7,204.8L1248.5,202.5L1245.8,202.3L1243.1,199.2L1247.6,198.1L1252.1,197.0L1250.3,199.4L1244.9,199.4L1243.1,202.1L1242.5,200.7L1241.2,205.9L1241.9,208.1Z M1262.9,202.1L1268.3,202.1L1269.9,207.6L1274.6,203.6L1280.8,206.1L1287.7,209.9L1291.8,213.6L1289.8,215.4L1292.0,218.1L1295.4,223.2L1290.2,222.5L1285.8,217.4L1282.6,220.3L1279.0,220.5L1274.8,218.8L1274.4,215.9L1276.0,214.8L1274.1,211.4L1269.7,210.1L1266.2,209.2L1265.5,206.5L1262.9,203.6Z M1222.0,248.8L1219.5,257.4L1216.4,265.9L1215.1,270.1L1210.9,274.9L1214.7,276.3L1222.5,274.3L1227.2,272.2L1237.3,269.3L1240.7,269.1L1243.8,271.6L1242.9,275.9L1249.5,272.2L1245.6,277.6L1245.4,281.5L1248.3,284.1L1252.1,284.7L1257.3,282.1L1261.4,281.1L1270.5,273.2L1277.5,268.0L1283.0,261.7L1286.3,255.3L1284.8,252.0L1284.0,248.8L1284.4,244.5L1281.6,242.3L1282.8,237.9L1283.2,233.5L1281.4,232.0L1281.7,228.0L1280.9,224.1L1278.2,229.1L1276.1,234.6L1273.3,239.0L1270.7,239.0L1269.3,235.1L1266.5,233.1L1269.8,227.4L1267.7,226.9L1262.8,225.4L1259.6,227.6L1255.6,233.5L1252.8,232.9L1251.5,231.1L1248.5,232.4L1244.7,236.4L1240.7,239.0L1239.6,241.2L1237.0,243.6L1233.2,244.5L1228.7,245.8L1224.2,248.2Z M1246.4,287.9L1251.3,288.3L1246.4,292.5L1242.8,293.7L1243.5,291.5Z M1303.2,275.1L1302.6,278.4L1302.9,280.0L1304.8,281.9L1298.4,285.5L1290.6,289.7L1290.6,289.1L1294.0,285.1L1298.4,282.5Z M1289.4,287.5L1288.7,289.9L1281.9,293.5L1275.2,296.4L1271.7,298.4L1267.2,299.6L1266.5,298.0L1274.2,294.5L1281.8,291.5Z M1114.3,226.9L1115.4,234.6L1113.3,239.0L1107.4,254.2L1103.3,256.3L1101.3,252.0L1101.6,247.7L1104.0,243.4L1104.1,237.9L1108.5,235.1L1111.7,230.2Z M880.3,152.0L885.1,149.6L889.4,149.6L893.7,152.9L897.8,155.7L891.9,156.3L891.5,154.6L887.9,151.8L885.6,150.9L881.8,152.2Z M896.6,159.6L899.7,156.3L904.9,156.6L907.1,159.2L904.2,159.8L901.0,160.9L899.9,159.8Z M1071.4,58.1L1075.8,59.3L1077.5,58.8L1072.5,55.7L1072.5,53.8L1074.4,50.8L1072.5,50.5L1070.0,51.5L1068.9,53.2L1069.9,55.5Z M1033.4,48.0L1037.7,50.5L1038.6,51.0L1041.1,49.2L1042.4,46.8L1037.9,46.2L1034.9,47.0Z M1070.4,111.9L1074.2,111.7L1079.1,110.1L1084.1,112.1L1089.1,111.1L1087.4,108.1L1083.7,105.5L1080.2,103.6L1081.2,100.1L1076.8,101.8L1077.3,103.6L1075.6,105.3L1073.5,102.4L1070.8,101.0L1069.5,103.8L1068.8,107.1L1068.1,109.1L1069.2,110.9Z M1095.3,105.1L1096.6,101.2L1099.8,100.3L1102.3,101.2L1103.6,104.2L1101.1,105.1L1101.3,108.1L1104.9,109.1L1107.2,113.1L1109.9,116.1L1111.0,120.2L1106.8,120.8L1103.1,119.1L1101.7,113.5L1097.1,108.1Z M1112.5,106.1L1112.3,101.2L1115.0,102.2L1116.2,106.1Z" fill="none" stroke="#000" stroke-width="2.2" stroke-linejoin="round"/>
<g fill="#000"><circle cx="752" cy="152" r="1.3"/><circle cx="754" cy="155" r="1.3"/><circle cx="756" cy="158" r="1.3"/><circle cx="711" cy="207" r="1.3"/><circle cx="717" cy="209" r="1.3"/><circle cx="740" cy="192" r="1.3"/><circle cx="744" cy="195" r="1.3"/><circle cx="775" cy="220" r="1.3"/><circle cx="778" cy="224" r="1.3"/><circle cx="722" cy="245" r="1.3"/><circle cx="725" cy="240" r="1.3"/><circle cx="760" cy="239" r="1.3"/><circle cx="777" cy="240" r="1.3"/><circle cx="787" cy="242" r="1.3"/><circle cx="792" cy="244" r="1.3"/><circle cx="807" cy="249" r="1.3"/><circle cx="842" cy="260" r="1.3"/><circle cx="767" cy="295" r="1.3"/><circle cx="862" cy="200" r="1.3"/><circle cx="860" cy="203" r="1.3"/><circle cx="997" cy="137" r="1.3"/><circle cx="1000" cy="139" r="1.3"/><circle cx="1003" cy="141" r="1.3"/><circle cx="982" cy="115" r="1.3"/><circle cx="985" cy="162" r="1.3"/><circle cx="988" cy="165" r="1.3"/><circle cx="991" cy="161" r="1.3"/><circle cx="1002" cy="200" r="1.3"/><circle cx="1015" cy="235" r="1.3"/><circle cx="995" cy="320" r="1.3"/><circle cx="1000" cy="318" r="1.3"/><circle cx="1080" cy="300" r="1.3"/><circle cx="1122" cy="305" r="1.3"/><circle cx="1125" cy="303" r="1.3"/><circle cx="1122" cy="245" r="1.3"/><circle cx="1125" cy="243" r="1.3"/><circle cx="1133" cy="212" r="1.3"/><circle cx="1200" cy="225" r="1.3"/><circle cx="1164" cy="182" r="1.3"/><circle cx="1166" cy="190" r="1.3"/><circle cx="1168" cy="217" r="1.3"/><circle cx="1280" cy="160" r="1.3"/><circle cx="1282" cy="167" r="1.3"/><circle cx="1312" cy="182" r="1.3"/><circle cx="1322" cy="183" r="1.3"/><circle cx="1332" cy="185" r="1.3"/><circle cx="1342" cy="192" r="1.3"/><circle cx="1312" cy="245" r="1.3"/><circle cx="1320" cy="238" r="1.3"/><circle cx="1342" cy="240" r="1.3"/><circle cx="1336" cy="230" r="1.3"/><circle cx="1295" cy="280" r="1.3"/><circle cx="1230" cy="314" r="1.3"/><circle cx="1250" cy="297" r="1.3"/><circle cx="1256" cy="290" r="1.3"/><circle cx="1260" cy="286" r="1.3"/><circle cx="1307" cy="210" r="1.3"/><circle cx="1315" cy="215" r="1.3"/><circle cx="1325" cy="222" r="1.3"/><circle cx="1330" cy="226" r="1.3"/><circle cx="1300" cy="205" r="1.3"/><circle cx="1290" cy="200" r="1.3"/><circle cx="1345" cy="205" r="1.3"/><circle cx="1348" cy="215" r="1.3"/><circle cx="1272" cy="130" r="1.3"/><circle cx="1275" cy="138" r="1.3"/><circle cx="1277" cy="146" r="1.3"/><circle cx="820" cy="205" r="1.3"/><circle cx="830" cy="208" r="1.3"/><circle cx="920" cy="130" r="1.3"/><circle cx="919" cy="158" r="1.3"/><circle cx="920" cy="163" r="1.3"/><circle cx="921" cy="168" r="1.3"/><circle cx="920" cy="173" r="1.3"/><polyline points="815.6,86.0 809.1,87.9 802.6,89.3 795.0,90.6 788.3,91.4" fill="none" stroke="#000" stroke-width="1.6" stroke-dasharray="5 2"/></g>
<path d="M962.2,55.0L963.3,56.2L964.9,59.9L963.9,65.7L955.2,71.4L950.6,72.8L949.3,69.8L944.8,68.1L955.7,63.4L953.4,60.3L946.4,59.6L954.4,55.2Z M919.5,60.3L927.0,62.1L934.1,60.3L939.8,55.9L932.3,55.9L923.7,58.1Z M919.5,57.4L928.1,56.7L934.3,54.5L930.7,53.8Z M962.3,51.1L970.9,51.1L996.3,43.9L991.6,43.4L978.9,45.0Z M953.2,53.2L964.2,53.8L968.1,51.8L962.4,50.5Z M938.7,53.2L950.2,53.2L956.6,51.1L948.5,50.5Z M943.0,98.9L947.5,100.7L952.1,99.3L952.8,95.5L951.8,91.7L948.3,93.6L944.2,97.4Z M1019.0,94.4L1021.8,94.0L1028.3,92.3L1028.8,89.5L1026.8,88.8L1026.3,86.8L1024.5,85.0L1023.9,83.5L1024.1,80.7L1022.3,80.5L1022.8,78.9L1020.6,78.9L1019.4,81.2L1019.5,83.5L1020.4,85.1L1022.5,85.5L1022.6,88.2L1020.7,88.4L1020.8,90.4L1019.6,91.2L1022.5,91.9L1020.7,92.5Z M1013.2,91.2L1018.2,90.4L1018.8,87.1L1019.5,85.9L1017.3,84.8L1015.6,86.2L1013.6,86.8L1014.4,88.6L1013.0,90.4Z M1239.8,132.2L1241.5,131.5L1240.1,128.4L1242.9,126.7L1245.5,127.4L1245.7,125.1L1248.7,124.9L1249.8,122.8L1246.0,118.1L1244.5,114.9L1239.9,111.3L1239.4,112.9L1242.2,116.1L1243.4,119.5L1240.7,119.5L1242.2,122.8L1237.2,123.4L1236.7,125.9L1236.1,128.0Z M1237.6,111.1L1237.6,109.3L1241.5,110.1L1242.0,107.5L1238.7,106.1L1231.8,103.4L1236.1,107.5L1236.0,109.1Z M1230.8,102.2L1231.0,100.7L1224.2,95.9L1227.0,96.4L1217.1,90.8L1210.8,86.8L1211.7,88.0L1221.0,94.6L1226.0,98.4Z M1237.0,159.4L1239.9,159.4L1241.0,163.8L1241.5,168.2L1246.5,170.4L1246.9,172.1L1242.7,169.7L1240.0,168.8L1237.9,164.9Z M1245.7,184.7L1247.8,181.2L1251.0,178.5L1253.6,183.6L1252.2,187.0L1249.5,186.5Z M1243.8,174.1L1246.1,174.8L1248.8,172.6L1250.4,175.9L1248.2,178.1L1246.7,179.6L1245.5,178.1Z M1215.7,215.4L1221.5,215.2L1225.7,214.5L1229.2,215.9L1232.0,217.6L1231.4,219.4L1225.5,218.8L1220.3,217.6L1216.9,216.3Z M1241.6,212.5L1243.2,212.5L1243.4,207.0L1245.4,210.3L1247.2,210.3L1245.7,204.8L1248.5,202.5L1245.8,202.3L1243.1,199.2L1247.6,198.1L1252.1,197.0L1250.3,199.4L1244.9,199.4L1243.1,202.1L1242.5,200.7L1241.2,205.9L1241.9,208.1Z M1303.2,275.1L1302.6,278.4L1302.9,280.0L1304.8,281.9L1298.4,285.5L1290.6,289.7L1290.6,289.1L1294.0,285.1L1298.4,282.5Z M1289.4,287.5L1288.7,289.9L1281.9,293.5L1275.2,296.4L1271.7,298.4L1267.2,299.6L1266.5,298.0L1274.2,294.5L1281.8,291.5Z M1071.4,58.1L1075.8,59.3L1077.5,58.8L1072.5,55.7L1072.5,53.8L1074.4,50.8L1072.5,50.5L1070.0,51.5L1068.9,53.2L1069.9,55.5Z M1033.4,48.0L1037.7,50.5L1038.6,51.0L1041.1,49.2L1042.4,46.8L1037.9,46.2L1034.9,47.0Z" fill="none" stroke="#000" stroke-width="3.2" stroke-linejoin="round"/>
</g>
<ellipse cx="1026.30" cy="200.45" rx="325.3" ry="162.45" fill="none" stroke="#2e2e2e" stroke-width="1.7"/>
<clipPath id="ecbox"><rect x="26" y="550.2" width="600.5" height="357.3"/></clipPath>
<clipPath id="ecland"><path d="M333.7,524.8L326.3,534.5L323.1,548.3L315.4,559.1L310.6,569.8L306.2,579.2L301.8,585.7L293.9,596.1L287.1,598.2L278.5,604.1L271.6,610.1L264.2,613.2L260.6,629.0L260.8,637.2L258.4,649.1L261.4,656.9L263.2,664.6L269.9,670.9L276.8,670.2L282.8,666.1L289.7,659.3L294.7,656.9L296.7,647.6L298.1,657.2L300.0,661.3L300.2,669.4L304.1,677.6L305.9,685.7L310.1,691.9L308.4,697.2L309.4,700.6L311.2,706.0L309.9,708.7L312.2,709.1L317.2,708.6L321.4,706.9L320.7,702.2L324.8,698.9L330.8,698.9L334.1,696.8L336.6,692.1L337.2,684.0L338.5,677.3L339.0,669.9L336.8,665.9L340.9,664.5L346.4,662.3L350.9,654.7L352.6,647.8L349.7,644.0L341.4,637.6L340.4,624.1L341.3,614.7L344.9,611.1L349.4,602.8L358.1,596.1L361.6,587.7L362.1,580.8L363.8,573.8L366.8,570.1L372.0,566.1L377.0,565.5L380.0,566.4L385.9,575.2L381.3,580.0L374.6,592.5L366.0,603.6L365.8,614.5L368.7,625.0L367.9,630.5L367.6,634.6L373.4,639.5L379.9,646.6L392.6,640.5L404.8,634.5L415.9,629.0L420.5,634.9L427.8,636.8L419.9,638.5L413.8,642.4L414.5,646.4L404.2,646.8L392.6,650.0L384.5,653.7L385.0,657.7L387.3,664.9L393.0,664.8L392.7,671.0L394.2,678.9L392.1,682.5L388.2,683.7L384.0,679.5L380.6,674.5L373.5,679.9L370.6,692.3L372.3,702.9L369.3,712.5L364.0,713.6L364.2,717.6L359.9,722.0L354.8,721.6L355.8,718.8L351.8,716.0L341.8,719.4L330.6,725.2L320.4,728.7L316.9,725.6L315.4,720.9L313.9,718.4L311.4,723.5L303.5,725.2L298.3,728.3L294.0,727.4L295.9,721.5L288.9,721.0L287.0,715.5L283.9,714.6L285.8,710.1L286.5,706.1L290.7,701.0L290.9,697.7L296.3,694.7L291.7,691.7L292.0,686.3L294.2,680.4L294.8,676.7L290.1,678.1L285.6,683.8L279.8,683.7L276.4,689.1L274.7,698.3L273.9,704.3L276.6,705.9L277.7,710.7L277.1,713.4L276.3,721.4L278.3,725.6L276.6,726.8L274.6,731.3L271.8,731.7L270.9,728.9L263.7,728.8L262.4,732.7L261.8,731.3L256.2,731.3L250.4,731.9L247.3,731.4L243.8,735.7L241.2,742.1L236.6,747.5L231.7,752.1L229.5,755.1L227.8,755.1L225.0,756.0L220.1,757.6L215.6,758.1L213.2,758.7L213.0,760.7L211.2,767.5L206.5,770.3L198.4,771.7L197.0,774.2L193.8,776.3L186.3,773.8L186.0,768.9L183.0,768.9L180.2,767.2L180.4,772.1L180.4,779.6L180.6,782.5L176.3,781.1L169.9,780.9L168.4,776.3L164.1,775.2L159.4,775.7L152.1,776.7L151.3,778.8L154.4,780.1L152.7,781.1L150.5,782.7L152.8,786.7L157.1,786.9L161.3,790.5L162.6,793.9L166.1,793.8L167.4,798.0L170.0,798.8L170.9,802.8L171.1,809.8L175.9,815.8L175.2,822.9L173.9,824.4L170.3,835.4L164.2,850.1L158.8,851.3L149.3,848.4L142.0,844.8L124.7,838.6L123.3,836.7L111.5,834.4L106.4,829.4L104.5,828.9L98.1,832.3L87.7,835.6L88.9,846.2L87.1,849.9L85.5,860.3L82.3,866.5L78.4,872.5L69.7,881.1L65.9,888.2L68.6,890.3L70.7,894.1L68.4,901.4L62.7,913.2L74.2,917.5L85.2,918.2L89.1,929.8L94.7,938.9L98.0,937.7L110.6,933.0L120.3,935.8L132.2,937.3L134.5,939.5L139.4,933.8L150.5,930.7L153.8,931.0L158.4,921.7L167.1,918.2L163.4,907.2L168.3,900.9L179.5,892.7L184.4,888.3L194.6,886.3L208.3,875.7L206.5,870.1L208.0,864.8L214.5,861.7L221.5,862.1L225.7,864.1L230.5,865.5L236.1,869.0L243.3,867.9L247.2,864.2L250.1,862.5L255.5,861.4L263.0,855.6L267.3,854.4L275.8,860.1L279.8,867.2L281.2,875.8L286.8,883.4L293.7,887.9L297.9,892.9L301.7,897.1L306.1,900.3L311.8,900.9L318.5,906.1L319.3,909.5L323.9,908.3L326.3,914.8L333.2,916.9L334.9,924.5L338.4,945.3L349.0,931.1L342.3,921.6L346.3,911.8L358.2,918.3L363.3,915.3L357.2,907.9L345.7,901.7L335.8,895.2L338.4,891.3L329.4,891.1L326.3,890.0L318.4,883.5L311.7,867.6L302.5,861.2L299.8,856.4L302.7,849.2L300.4,845.5L301.0,842.7L308.3,839.9L312.6,838.2L314.6,840.0L312.7,841.6L312.9,845.9L315.2,850.7L315.9,852.0L320.9,844.5L325.3,849.3L328.5,861.0L335.2,866.2L340.6,869.3L350.6,875.2L357.5,880.4L362.3,883.6L368.1,887.4L371.3,890.6L372.3,897.9L373.4,909.6L371.5,910.6L379.4,917.5L391.9,938.4L408.7,940.9L412.1,922.3L406.0,906.3L409.0,904.6L413.7,908.9L417.4,912.6L419.8,906.7L425.4,908.8L417.6,901.5L424.0,898.1L431.2,896.8L439.3,897.1L441.4,898.5L449.5,898.8L444.5,907.3L448.6,901.8L452.6,898.3L455.8,892.5L463.2,889.7L470.5,889.2L471.0,886.3L466.8,885.1L460.2,882.4L459.1,879.1L454.3,872.8L452.0,871.8L455.5,868.4L454.7,861.5L459.4,858.3L459.5,852.3L459.0,847.2L466.0,835.6L466.7,832.0L465.5,828.8L470.9,817.9L472.0,812.3L478.9,809.0L479.4,813.1L492.8,812.5L500.1,810.5L494.9,816.8L491.7,823.3L500.1,823.2L503.6,830.7L506.6,832.8L510.3,830.3L511.8,827.4L516.4,823.5L519.6,820.0L529.0,816.1L529.1,811.8L517.7,816.8L509.8,806.8L525.3,793.8L530.6,787.7L541.7,781.8L545.6,781.8L538.4,790.1L540.3,798.8L536.8,810.7L530.9,814.1L537.6,816.2L543.0,816.9L557.4,820.8L565.9,825.3L580.6,828.2L591.0,836.6L593.4,843.0L592.5,847.1L585.7,855.2L578.2,858.5L565.7,864.2L560.4,864.9L553.9,865.2L543.6,866.0L538.6,861.4L529.1,860.0L515.5,864.6L503.0,871.2L498.0,876.7L494.5,879.7L476.6,885.4L472.0,885.9L472.1,888.9L480.9,890.6L474.8,893.3L474.2,896.5L471.7,897.9L462.2,900.0L449.0,902.4L446.3,905.6L445.7,914.9L457.7,934.0L563.5,981.8L781.2,881.5L864.5,577.4L592.6,376.6L441.0,460.4L463.3,529.2L462.0,545.8L467.0,551.2L471.6,558.2L469.9,560.3L464.2,560.2L455.0,558.4L447.3,558.8L454.3,567.2L460.3,566.6L460.6,573.0L450.9,574.0L441.1,570.0L438.8,564.2L432.4,548.4L422.7,544.0L424.9,532.0L391.1,475.9L348.1,482.2Z M150.1,754.1L153.9,756.7L164.5,754.3L167.7,757.0L171.1,752.6L178.7,755.8L188.4,757.3L193.0,756.3L201.8,758.2L208.2,757.2L212.0,754.9L213.4,751.8L207.5,749.6L209.9,746.0L213.7,744.0L218.8,737.5L217.1,731.3L210.1,729.3L207.2,731.0L209.2,727.4L208.9,721.1L205.9,718.4L208.6,713.5L205.9,707.4L201.9,704.4L201.5,699.5L201.9,691.3L199.6,688.0L196.6,684.5L190.8,682.9L196.8,680.7L195.9,678.1L203.1,670.9L206.5,666.2L205.7,663.3L196.8,660.7L189.8,661.8L193.1,657.9L200.5,652.3L201.7,649.1L199.2,649.1L188.5,645.8L184.5,651.9L179.1,657.3L179.1,662.2L176.0,667.5L172.8,667.9L176.7,672.6L173.1,679.3L170.0,686.7L174.5,682.5L178.9,681.0L178.1,686.3L174.0,692.1L173.4,696.8L178.1,697.5L184.7,696.6L186.2,697.0L183.3,701.7L184.9,707.7L187.2,708.3L184.9,712.6L184.0,717.2L181.6,717.2L176.0,716.4L171.7,713.8L172.1,718.1L168.3,721.2L173.7,721.3L172.7,726.6L169.6,729.9L166.1,730.3L160.6,731.5L161.2,735.2L167.6,737.0L169.6,739.0L175.7,742.1L180.3,741.2L176.7,745.1L170.1,743.6L166.7,743.1L162.8,746.1L157.6,750.2L152.3,752.8Z M123.1,725.3L136.5,725.1L148.2,724.1L153.4,725.5L156.3,720.3L159.0,715.6L160.0,711.0L161.5,703.7L167.6,700.0L169.5,697.8L166.7,694.8L168.8,693.3L167.4,688.7L164.7,685.8L159.6,682.0L155.8,683.5L151.3,682.7L145.4,687.7L149.6,689.9L146.0,692.9L140.9,691.1L134.8,689.5L132.6,693.0L132.5,698.0L129.5,699.0L133.3,702.6L137.4,705.5L133.2,707.5L127.3,710.9L134.6,713.0L127.4,713.9L121.8,714.7L125.4,716.8L121.1,718.8L121.5,722.5Z M167.0,546.6L158.4,551.7L149.2,551.9L138.6,552.0L128.4,552.0L122.1,547.1L119.7,540.3L111.7,536.3L118.7,532.6L113.0,519.6L126.3,519.7L114.9,511.2L127.1,507.5L129.4,520.0L136.6,521.0L145.6,519.6L161.8,521.7L168.1,527.7L164.1,537.8Z M187.3,596.4L191.4,594.2L193.7,597.1L189.0,605.5L188.5,601.0Z M216.4,631.4L219.8,626.0L223.1,624.7L220.0,630.8L217.4,636.2Z M200.9,644.0L204.3,640.8L207.6,641.6L204.3,646.3L201.2,646.9Z M171.9,649.3L180.0,644.9L178.8,648.7L174.7,652.3L171.5,652.7Z M167.5,653.5L170.4,653.8L167.1,660.5L165.7,660.0Z M172.5,656.6L176.1,654.9L177.0,661.5L175.6,663.9L172.7,660.9Z M171.4,669.6L175.0,670.7L174.9,673.5L170.4,672.8Z M167.0,678.7L170.3,678.4L170.0,681.8L167.6,681.7Z M172.8,704.3L176.9,701.3L177.0,704.1L173.4,705.2Z M286.9,705.4L290.8,704.8L294.3,709.3L293.3,712.3L288.8,711.9L287.4,709.5Z M296.9,704.1L298.9,700.6L303.9,698.7L306.1,698.8L308.3,700.2L308.2,704.6L305.0,707.8L306.8,710.2L304.0,713.8L307.1,714.6L302.5,713.7L296.8,709.0Z M295.5,715.4L302.5,714.4L304.3,716.5L302.6,719.5L298.0,718.2L295.4,716.7Z M324.0,711.6L327.4,712.3L327.1,714.3L324.4,713.6Z M336.7,698.1L337.8,697.4L341.5,682.6L340.4,683.3Z M349.3,688.0L353.7,680.7L356.9,673.8L352.6,674.7L350.0,678.2L348.8,683.6Z M374.1,667.7L376.0,671.8L379.2,668.5L384.4,664.6L382.0,662.2L375.3,664.9Z M375.1,659.5L378.6,656.7L382.1,659.4L378.5,661.9Z M357.0,643.5L359.5,640.7L362.3,643.1L359.9,646.0Z M261.0,881.5L263.3,879.3L269.0,878.0L270.3,874.0L270.5,878.2L270.8,886.4L268.7,893.2L265.9,896.0L262.6,892.7L260.9,888.4Z M256.8,899.0L266.3,897.8L270.0,903.0L271.7,908.6L268.2,926.4L255.1,928.1L256.9,914.3L254.6,905.7L255.6,901.0Z M425.9,900.4L427.9,900.1L428.2,902.1L426.1,902.4Z"/></clipPath>
<rect x="26" y="550.2" width="600.5" height="357.3" fill="#f0f0f0"/>
<g clip-path="url(#ecbox)">
<g clip-path="url(#ecland)" shape-rendering="crispEdges"><path fill="#543005" d="M526 549.9h15v30h-15zM521 564.9h5v25h-5zM516 569.9h5v55h-5zM511 574.9h5v50h-5zM526 579.9h10v5h-10zM506 584.9h5v30h-5zM501 589.9h5v20h-5zM496 594.9h5v10h-5zM521 614.9h5v10h-5zM531 629.9h5v15h-5zM536 634.9h5v10h-5zM26 889.9h50v20h-50zM26 909.9h40v20h-40z"/><path fill="#7c4709" d="M511 549.9h15v15h-15zM541 549.9h5v30h-5zM511 564.9h10v5h-10zM506 569.9h10v5h-10zM501 574.9h10v10h-10zM536 579.9h5v5h-5zM496 584.9h10v5h-10zM526 584.9h10v5h-10zM491 589.9h10v5h-10zM521 589.9h10v5h-10zM491 594.9h5v15h-5zM521 594.9h5v20h-5zM496 604.9h5v10h-5zM526 604.9h5v40h-5zM501 609.9h5v10h-5zM506 614.9h5v10h-5zM531 614.9h5v15h-5zM536 619.9h5v15h-5zM511 624.9h15v5h-15zM541 624.9h5v35h-5zM516 629.9h10v5h-10zM546 629.9h5v35h-5zM521 634.9h5v5h-5zM551 634.9h5v45h-5zM556 639.9h5v45h-5zM531 644.9h10v5h-10zM536 649.9h5v5h-5zM561 654.9h5v30h-5zM566 664.9h5v20h-5zM571 669.9h5v20h-5zM26 839.9h15v50h-15zM41 854.9h15v35h-15zM56 859.9h5v30h-5zM61 869.9h5v20h-5zM66 874.9h10v15h-10zM76 879.9h5v40h-5zM66 909.9h10v20h-10z"/><path fill="#a16518" d="M506 549.9h5v20h-5zM546 549.9h5v30h-5zM501 564.9h5v10h-5zM496 569.9h5v15h-5zM491 579.9h5v10h-5zM541 579.9h5v10h-5zM536 584.9h5v10h-5zM486 589.9h5v20h-5zM531 589.9h5v25h-5zM526 594.9h5v10h-5zM491 609.9h5v10h-5zM536 609.9h5v10h-5zM496 614.9h5v15h-5zM541 614.9h5v10h-5zM501 619.9h5v15h-5zM506 624.9h5v15h-5zM546 624.9h5v5h-5zM511 629.9h5v15h-5zM551 629.9h10v5h-10zM516 634.9h5v15h-5zM556 634.9h10v5h-10zM521 639.9h5v15h-5zM561 639.9h5v15h-5zM526 644.9h5v15h-5zM566 644.9h5v20h-5zM531 649.9h5v15h-5zM536 654.9h5v20h-5zM571 654.9h5v15h-5zM541 659.9h5v25h-5zM576 659.9h5v40h-5zM546 664.9h5v25h-5zM551 679.9h5v15h-5zM556 684.9h15v10h-15zM431 689.9h10v20h-10zM571 689.9h5v15h-5zM426 694.9h5v10h-5zM441 694.9h15v15h-15zM561 694.9h10v5h-10zM26 834.9h15v5h-15zM41 839.9h5v15h-5zM46 849.9h10v5h-10zM56 854.9h5v5h-5zM131 854.9h10v10h-10zM61 859.9h5v10h-5zM141 859.9h5v5h-5zM66 864.9h5v10h-5zM136 864.9h5v5h-5zM71 869.9h5v5h-5zM76 874.9h5v5h-5zM81 879.9h5v50h-5zM76 919.9h5v10h-5z"/><path fill="#c38936" d="M501 549.9h5v15h-5zM551 549.9h10v15h-10zM496 559.9h5v10h-5zM551 564.9h5v15h-5zM491 569.9h5v10h-5zM486 574.9h5v15h-5zM546 579.9h5v10h-5zM481 584.9h5v30h-5zM541 589.9h5v5h-5zM536 594.9h5v15h-5zM541 604.9h5v10h-5zM486 609.9h5v15h-5zM546 614.9h5v10h-5zM491 619.9h5v10h-5zM551 619.9h5v10h-5zM556 624.9h5v5h-5zM496 629.9h5v5h-5zM561 629.9h5v5h-5zM501 634.9h5v10h-5zM566 634.9h5v10h-5zM506 639.9h5v10h-5zM571 639.9h5v15h-5zM511 644.9h5v10h-5zM516 649.9h5v5h-5zM576 649.9h5v10h-5zM521 654.9h5v10h-5zM581 654.9h5v50h-5zM526 659.9h5v15h-5zM531 664.9h5v20h-5zM431 674.9h10v15h-10zM536 674.9h5v10h-5zM426 679.9h5v15h-5zM441 679.9h10v15h-10zM421 684.9h5v30h-5zM451 684.9h5v10h-5zM541 684.9h5v5h-5zM416 689.9h5v20h-5zM456 689.9h5v30h-5zM546 689.9h5v5h-5zM411 694.9h5v10h-5zM551 694.9h10v5h-10zM556 699.9h15v5h-15zM576 699.9h5v10h-5zM426 704.9h5v15h-5zM571 704.9h5v5h-5zM431 709.9h25v10h-25zM436 719.9h20v5h-20zM26 829.9h15v5h-15zM41 834.9h5v5h-5zM46 839.9h5v10h-5zM51 844.9h5v5h-5zM56 849.9h5v5h-5zM131 849.9h15v5h-15zM61 854.9h5v5h-5zM126 854.9h5v10h-5zM141 854.9h10v5h-10zM66 859.9h5v5h-5zM146 859.9h5v5h-5zM71 864.9h5v5h-5zM131 864.9h5v10h-5zM141 864.9h5v5h-5zM76 869.9h5v5h-5zM136 869.9h5v5h-5zM81 874.9h5v5h-5zM86 879.9h5v50h-5zM91 899.9h5v30h-5z"/><path fill="#dbb972" d="M491 549.9h10v10h-10zM561 549.9h10v10h-10zM491 559.9h5v10h-5zM561 559.9h5v10h-5zM486 564.9h5v10h-5zM556 564.9h5v15h-5zM481 569.9h5v15h-5zM476 579.9h5v40h-5zM551 579.9h5v10h-5zM471 589.9h5v20h-5zM546 589.9h5v5h-5zM466 594.9h5v10h-5zM541 594.9h5v10h-5zM546 604.9h5v10h-5zM551 609.9h5v10h-5zM481 614.9h5v15h-5zM556 619.9h10v5h-10zM486 624.9h5v10h-5zM561 624.9h10v5h-10zM491 629.9h5v15h-5zM566 629.9h10v5h-10zM496 634.9h5v20h-5zM571 634.9h10v5h-10zM576 639.9h5v10h-5zM501 644.9h5v15h-5zM581 644.9h5v10h-5zM506 649.9h5v15h-5zM586 649.9h5v55h-5zM411 654.9h10v35h-10zM511 654.9h10v15h-10zM421 659.9h10v20h-10zM431 664.9h5v10h-5zM521 664.9h5v20h-5zM436 669.9h5v5h-5zM516 669.9h5v5h-5zM406 674.9h5v40h-5zM441 674.9h15v5h-15zM526 674.9h5v15h-5zM401 679.9h5v30h-5zM421 679.9h5v5h-5zM451 679.9h10v5h-10zM396 684.9h5v20h-5zM456 684.9h5v5h-5zM531 684.9h10v10h-10zM411 689.9h5v5h-5zM461 689.9h5v40h-5zM541 689.9h5v10h-5zM391 694.9h5v10h-5zM536 694.9h5v5h-5zM546 694.9h5v10h-5zM466 699.9h5v25h-5zM551 699.9h5v10h-5zM411 704.9h5v15h-5zM556 704.9h15v5h-15zM581 704.9h5v5h-5zM416 709.9h5v15h-5zM561 709.9h20v5h-20zM421 714.9h5v10h-5zM426 719.9h10v5h-10zM456 719.9h5v10h-5zM436 724.9h20v5h-20zM291 774.9h10v5h-10zM296 779.9h5v5h-5zM26 824.9h15v5h-15zM41 829.9h5v5h-5zM46 834.9h5v5h-5zM51 839.9h5v5h-5zM56 844.9h5v5h-5zM131 844.9h15v5h-15zM61 849.9h5v5h-5zM126 849.9h5v5h-5zM146 849.9h10v5h-10zM66 854.9h5v5h-5zM121 854.9h5v10h-5zM151 854.9h5v10h-5zM71 859.9h10v5h-10zM76 864.9h10v5h-10zM126 864.9h5v10h-5zM146 864.9h5v5h-5zM81 869.9h10v5h-10zM141 869.9h5v5h-5zM86 874.9h5v5h-5zM131 874.9h10v5h-10zM91 879.9h5v20h-5zM96 894.9h5v35h-5zM101 909.9h5v20h-5z"/><path fill="#ecd8a5" d="M346 549.9h15v30h-15zM481 549.9h10v15h-10zM571 549.9h15v10h-15zM566 559.9h10v5h-10zM476 564.9h10v5h-10zM566 564.9h5v5h-5zM476 569.9h5v10h-5zM561 569.9h5v10h-5zM471 574.9h5v15h-5zM466 579.9h5v15h-5zM556 579.9h5v10h-5zM461 584.9h5v30h-5zM431 589.9h30v20h-30zM551 589.9h5v20h-5zM411 594.9h20v10h-20zM546 594.9h5v10h-5zM416 604.9h15v5h-15zM466 604.9h5v15h-5zM471 609.9h5v15h-5zM556 609.9h5v10h-5zM561 614.9h5v5h-5zM476 619.9h5v15h-5zM566 619.9h10v5h-10zM571 624.9h10v5h-10zM481 629.9h5v15h-5zM576 629.9h10v5h-10zM486 634.9h5v20h-5zM581 634.9h10v10h-10zM411 644.9h10v10h-10zM491 644.9h5v40h-5zM586 644.9h10v5h-10zM406 649.9h5v25h-5zM421 649.9h10v10h-10zM591 649.9h10v55h-10zM401 654.9h5v25h-5zM431 654.9h5v10h-5zM496 654.9h5v35h-5zM601 654.9h5v10h-5zM436 659.9h5v10h-5zM501 659.9h5v30h-5zM396 664.9h5v20h-5zM441 664.9h5v10h-5zM506 664.9h5v25h-5zM446 669.9h5v5h-5zM511 669.9h5v20h-5zM391 674.9h5v20h-5zM456 674.9h5v5h-5zM516 674.9h5v20h-5zM461 679.9h5v10h-5zM386 684.9h5v25h-5zM466 684.9h5v15h-5zM521 684.9h5v15h-5zM176 689.9h5v10h-5zM526 689.9h5v10h-5zM181 694.9h5v5h-5zM381 694.9h5v10h-5zM531 694.9h5v10h-5zM471 699.9h5v45h-5zM536 699.9h10v5h-10zM391 704.9h10v10h-10zM541 704.9h10v5h-10zM586 704.9h10v10h-10zM401 709.9h5v10h-5zM546 709.9h15v5h-15zM581 709.9h5v10h-5zM406 714.9h5v10h-5zM476 714.9h5v30h-5zM561 714.9h20v5h-20zM586 714.9h5v5h-5zM411 719.9h5v5h-5zM566 719.9h15v5h-15zM416 724.9h20v5h-20zM466 724.9h5v15h-5zM571 724.9h5v5h-5zM436 729.9h30v5h-30zM461 734.9h5v5h-5zM291 754.9h10v20h-10zM286 759.9h5v25h-5zM281 764.9h5v15h-5zM301 764.9h5v30h-5zM306 774.9h5v25h-5zM291 779.9h5v10h-5zM296 784.9h5v10h-5zM311 789.9h5v15h-5zM316 794.9h5v10h-5zM571 794.9h5v10h-5zM26 819.9h15v5h-15zM41 824.9h5v5h-5zM46 829.9h5v5h-5zM51 834.9h5v5h-5zM131 834.9h10v10h-10zM56 839.9h5v5h-5zM141 839.9h10v5h-10zM61 844.9h5v5h-5zM126 844.9h5v5h-5zM146 844.9h10v5h-10zM66 849.9h5v5h-5zM121 849.9h5v5h-5zM156 849.9h5v20h-5zM71 854.9h10v5h-10zM81 859.9h10v5h-10zM116 859.9h5v5h-5zM86 864.9h10v5h-10zM121 864.9h5v20h-5zM151 864.9h5v5h-5zM91 869.9h10v10h-10zM146 869.9h5v5h-5zM101 874.9h5v35h-5zM126 874.9h5v15h-5zM141 874.9h5v10h-5zM96 879.9h5v15h-5zM131 879.9h10v10h-10zM106 884.9h5v45h-5zM396 894.9h5v10h-5zM391 899.9h5v5h-5zM111 919.9h5v10h-5z"/><path fill="#f6ecd1" d="M186 549.9h30v140h-30zM306 549.9h40v15h-40zM361 549.9h10v30h-10zM466 549.9h15v15h-15zM586 549.9h60v15h-60zM461 559.9h5v25h-5zM576 559.9h10v10h-10zM216 564.9h5v125h-5zM311 564.9h35v5h-35zM456 564.9h5v25h-5zM466 564.9h10v10h-10zM571 564.9h5v10h-5zM611 564.9h35v5h-35zM126 569.9h60v25h-60zM221 569.9h5v115h-5zM321 569.9h25v5h-25zM391 569.9h10v35h-10zM431 569.9h25v20h-25zM566 569.9h5v10h-5zM226 574.9h5v55h-5zM326 574.9h20v5h-20zM386 574.9h5v10h-5zM401 574.9h5v45h-5zM426 574.9h5v20h-5zM466 574.9h5v5h-5zM231 579.9h5v35h-5zM336 579.9h30v5h-30zM406 579.9h5v70h-5zM421 579.9h5v15h-5zM561 579.9h5v10h-5zM236 584.9h5v30h-5zM411 584.9h10v10h-10zM241 589.9h5v30h-5zM556 589.9h5v20h-5zM131 594.9h55v5h-55zM246 594.9h5v30h-5zM136 599.9h50v5h-50zM251 599.9h5v25h-5zM141 604.9h45v5h-45zM256 604.9h5v20h-5zM396 604.9h5v10h-5zM411 604.9h5v40h-5zM561 604.9h5v10h-5zM146 609.9h40v5h-40zM416 609.9h45v20h-45zM566 609.9h5v10h-5zM616 609.9h30v60h-30zM151 614.9h35v5h-35zM261 614.9h5v5h-5zM461 614.9h5v25h-5zM571 614.9h10v5h-10zM611 614.9h5v60h-5zM156 619.9h30v5h-30zM466 619.9h5v20h-5zM576 619.9h15v5h-15zM606 619.9h5v85h-5zM161 624.9h25v5h-25zM471 624.9h5v20h-5zM581 624.9h15v5h-15zM601 624.9h5v30h-5zM166 629.9h20v5h-20zM416 629.9h15v5h-15zM456 629.9h5v5h-5zM586 629.9h15v5h-15zM171 634.9h15v5h-15zM416 634.9h10v10h-10zM476 634.9h5v20h-5zM591 634.9h10v10h-10zM176 639.9h10v5h-10zM401 639.9h5v15h-5zM426 639.9h5v10h-5zM181 644.9h5v10h-5zM396 644.9h5v20h-5zM421 644.9h5v5h-5zM431 644.9h10v10h-10zM481 644.9h5v110h-5zM596 644.9h5v5h-5zM226 649.9h5v35h-5zM391 649.9h5v25h-5zM246 654.9h15v10h-15zM331 654.9h5v15h-5zM386 654.9h5v30h-5zM436 654.9h5v5h-5zM486 654.9h5v90h-5zM241 659.9h5v20h-5zM326 659.9h5v5h-5zM336 659.9h10v5h-10zM381 659.9h5v35h-5zM441 659.9h5v5h-5zM181 664.9h5v30h-5zM231 664.9h10v20h-10zM246 664.9h10v5h-10zM336 664.9h5v5h-5zM446 664.9h5v5h-5zM601 664.9h5v50h-5zM176 669.9h5v20h-5zM451 669.9h15v5h-15zM171 674.9h5v30h-5zM461 674.9h10v5h-10zM466 679.9h10v5h-10zM376 684.9h5v30h-5zM471 684.9h10v15h-10zM491 684.9h5v30h-5zM186 689.9h25v5h-25zM371 689.9h5v15h-5zM496 689.9h20v15h-20zM186 694.9h20v5h-20zM516 694.9h5v10h-5zM176 699.9h25v5h-25zM476 699.9h5v15h-5zM521 699.9h10v5h-10zM381 704.9h5v15h-5zM496 704.9h5v5h-5zM526 704.9h15v5h-15zM596 704.9h5v20h-5zM386 709.9h5v10h-5zM531 709.9h15v5h-15zM391 714.9h10v10h-10zM541 714.9h20v5h-20zM591 714.9h5v20h-5zM401 719.9h5v5h-5zM546 719.9h20v5h-20zM581 719.9h10v20h-10zM406 724.9h10v5h-10zM551 724.9h20v20h-20zM576 724.9h5v25h-5zM416 729.9h20v5h-20zM571 729.9h5v20h-5zM291 734.9h10v20h-10zM436 734.9h25v5h-25zM281 739.9h10v20h-10zM301 739.9h5v25h-5zM451 739.9h20v5h-20zM581 739.9h5v5h-5zM276 744.9h5v40h-5zM306 744.9h5v30h-5zM456 744.9h25v10h-25zM271 754.9h5v25h-5zM461 754.9h20v5h-20zM281 759.9h5v5h-5zM471 759.9h5v5h-5zM311 764.9h5v25h-5zM316 774.9h5v20h-5zM231 779.9h10v5h-10zM281 779.9h5v10h-5zM286 784.9h5v10h-5zM321 784.9h5v30h-5zM571 784.9h10v10h-10zM291 789.9h5v10h-5zM561 789.9h10v25h-10zM296 794.9h10v10h-10zM326 794.9h5v10h-5zM556 794.9h5v25h-5zM576 794.9h10v10h-10zM306 799.9h5v15h-5zM551 799.9h5v20h-5zM301 804.9h5v5h-5zM311 804.9h10v15h-10zM571 804.9h10v5h-10zM546 809.9h5v15h-5zM571 809.9h5v5h-5zM26 814.9h15v5h-15zM536 814.9h10v10h-10zM561 814.9h5v5h-5zM41 819.9h5v5h-5zM131 819.9h10v15h-10zM46 824.9h5v5h-5zM126 824.9h5v20h-5zM51 829.9h5v5h-5zM141 829.9h5v10h-5zM56 834.9h5v5h-5zM146 834.9h10v5h-10zM61 839.9h5v5h-5zM151 839.9h10v5h-10zM66 844.9h10v5h-10zM121 844.9h5v5h-5zM156 844.9h5v5h-5zM71 849.9h15v5h-15zM116 849.9h5v10h-5zM161 849.9h5v20h-5zM231 849.9h5v30h-5zM81 854.9h35v5h-35zM226 854.9h5v30h-5zM236 854.9h5v20h-5zM91 859.9h25v5h-25zM96 864.9h25v5h-25zM221 864.9h5v25h-5zM101 869.9h20v5h-20zM151 869.9h10v5h-10zM216 869.9h5v30h-5zM106 874.9h15v10h-15zM146 874.9h10v5h-10zM211 874.9h5v25h-5zM146 879.9h5v5h-5zM206 879.9h5v10h-5zM111 884.9h15v35h-15zM141 884.9h5v5h-5zM391 884.9h10v10h-10zM126 889.9h15v5h-15zM386 889.9h5v30h-5zM401 889.9h5v40h-5zM126 894.9h5v5h-5zM391 894.9h5v5h-5zM406 894.9h5v35h-5zM591 899.9h15v5h-15zM391 904.9h10v25h-10zM591 904.9h10v5h-10zM411 909.9h5v20h-5zM116 919.9h10v10h-10zM416 919.9h5v10h-5z"/><path fill="#f4f5f5" d="M216 549.9h90v15h-90zM371 549.9h35v20h-35zM426 549.9h40v10h-40zM426 559.9h35v5h-35zM221 564.9h90v5h-90zM406 564.9h5v15h-5zM421 564.9h35v5h-35zM586 564.9h25v5h-25zM226 569.9h95v5h-95zM371 569.9h20v5h-20zM401 569.9h5v5h-5zM411 569.9h20v5h-20zM576 569.9h10v5h-10zM601 569.9h45v5h-45zM231 574.9h95v5h-95zM371 574.9h15v15h-15zM411 574.9h15v5h-15zM571 574.9h5v5h-5zM611 574.9h35v35h-35zM236 579.9h100v5h-100zM366 579.9h5v10h-5zM411 579.9h10v5h-10zM566 579.9h5v15h-5zM241 584.9h65v5h-65zM341 584.9h25v5h-25zM386 584.9h5v70h-5zM106 589.9h20v25h-20zM246 589.9h55v5h-55zM376 589.9h10v5h-10zM561 589.9h5v15h-5zM126 594.9h5v40h-5zM251 594.9h50v5h-50zM381 594.9h5v20h-5zM131 599.9h5v40h-5zM256 599.9h40v5h-40zM136 604.9h5v40h-5zM261 604.9h35v5h-35zM391 604.9h5v45h-5zM566 604.9h5v5h-5zM606 604.9h5v15h-5zM141 609.9h5v40h-5zM261 609.9h30v5h-30zM571 609.9h15v5h-15zM601 609.9h5v15h-5zM611 609.9h5v5h-5zM111 614.9h15v5h-15zM146 614.9h5v45h-5zM231 614.9h10v50h-10zM266 614.9h20v10h-20zM396 614.9h5v30h-5zM581 614.9h20v5h-20zM116 619.9h10v5h-10zM151 619.9h5v45h-5zM241 619.9h5v40h-5zM261 619.9h5v15h-5zM401 619.9h5v20h-5zM591 619.9h10v5h-10zM121 624.9h5v5h-5zM156 624.9h5v45h-5zM246 624.9h15v10h-15zM266 624.9h15v5h-15zM596 624.9h5v5h-5zM161 629.9h5v70h-5zM226 629.9h5v20h-5zM266 629.9h5v5h-5zM431 629.9h25v15h-25zM166 634.9h5v70h-5zM246 634.9h5v20h-5zM426 634.9h5v5h-5zM456 634.9h5v10h-5zM171 639.9h5v35h-5zM381 639.9h5v20h-5zM461 639.9h10v10h-10zM176 644.9h5v25h-5zM251 644.9h10v10h-10zM376 644.9h5v40h-5zM441 644.9h10v15h-10zM471 644.9h5v35h-5zM261 649.9h5v30h-5zM291 649.9h55v5h-55zM366 649.9h10v40h-10zM466 649.9h5v5h-5zM181 654.9h5v10h-5zM266 654.9h5v15h-5zM286 654.9h45v5h-45zM336 654.9h30v5h-30zM476 654.9h5v30h-5zM286 659.9h40v5h-40zM346 659.9h20v40h-20zM446 659.9h5v5h-5zM256 664.9h5v20h-5zM291 664.9h40v5h-40zM341 664.9h5v30h-5zM451 664.9h20v5h-20zM246 669.9h10v20h-10zM301 669.9h40v5h-40zM466 669.9h5v5h-5zM616 669.9h30v40h-30zM306 674.9h35v5h-35zM611 674.9h5v40h-5zM241 679.9h5v15h-5zM311 679.9h30v5h-30zM221 684.9h20v10h-20zM316 684.9h25v5h-25zM211 689.9h10v20h-10zM336 689.9h5v5h-5zM366 689.9h5v25h-5zM206 694.9h5v20h-5zM221 694.9h10v5h-10zM201 699.9h5v15h-5zM221 699.9h5v5h-5zM356 699.9h10v5h-10zM171 704.9h30v5h-30zM361 704.9h5v5h-5zM371 704.9h5v20h-5zM501 704.9h25v5h-25zM606 704.9h5v30h-5zM176 709.9h25v5h-25zM496 709.9h15v5h-15zM521 709.9h10v5h-10zM376 714.9h5v10h-5zM491 714.9h10v30h-10zM526 714.9h15v5h-15zM601 714.9h5v55h-5zM381 719.9h10v5h-10zM531 719.9h15v5h-15zM281 724.9h30v10h-30zM386 724.9h20v5h-20zM536 724.9h15v10h-15zM596 724.9h5v45h-5zM276 729.9h5v15h-5zM311 729.9h10v35h-10zM401 729.9h15v5h-15zM271 734.9h5v20h-5zM281 734.9h10v5h-10zM301 734.9h10v5h-10zM321 734.9h5v50h-5zM351 734.9h10v25h-10zM416 734.9h20v5h-20zM541 734.9h10v10h-10zM591 734.9h5v35h-5zM306 739.9h5v5h-5zM346 739.9h5v25h-5zM431 739.9h20v5h-20zM586 739.9h5v35h-5zM441 744.9h15v5h-15zM486 744.9h10v10h-10zM546 744.9h25v5h-25zM581 744.9h5v50h-5zM266 749.9h5v35h-5zM446 749.9h10v5h-10zM551 749.9h30v5h-30zM261 754.9h5v25h-5zM451 754.9h10v10h-10zM481 754.9h10v5h-10zM561 754.9h20v5h-20zM351 759.9h5v10h-5zM461 759.9h10v5h-10zM476 759.9h10v5h-10zM566 759.9h15v25h-15zM316 764.9h5v10h-5zM326 764.9h5v30h-5zM466 764.9h15v5h-15zM231 769.9h15v10h-15zM606 769.9h20v15h-20zM221 774.9h10v20h-10zM246 774.9h5v5h-5zM626 774.9h10v5h-10zM241 779.9h5v5h-5zM271 779.9h5v10h-5zM561 779.9h5v10h-5zM626 779.9h5v5h-5zM231 784.9h10v5h-10zM276 784.9h5v5h-5zM331 784.9h5v30h-5zM556 784.9h5v10h-5zM566 784.9h5v5h-5zM586 784.9h5v20h-5zM611 784.9h15v5h-15zM216 789.9h5v80h-5zM231 789.9h5v5h-5zM281 789.9h5v5h-5zM336 789.9h5v20h-5zM551 789.9h5v10h-5zM221 794.9h5v10h-5zM286 794.9h5v10h-5zM341 794.9h5v10h-5zM546 794.9h5v15h-5zM211 799.9h5v75h-5zM291 799.9h5v15h-5zM541 799.9h5v15h-5zM296 804.9h5v10h-5zM326 804.9h5v15h-5zM536 804.9h5v10h-5zM581 804.9h5v5h-5zM26 809.9h15v5h-15zM301 809.9h5v10h-5zM531 809.9h5v20h-5zM576 809.9h5v10h-5zM41 814.9h5v5h-5zM121 814.9h20v5h-20zM306 814.9h5v10h-5zM321 814.9h5v10h-5zM566 814.9h10v10h-10zM46 819.9h5v5h-5zM116 819.9h15v5h-15zM141 819.9h5v10h-5zM311 819.9h10v5h-10zM551 819.9h15v10h-15zM51 824.9h5v5h-5zM116 824.9h10v5h-10zM146 824.9h5v10h-5zM221 824.9h5v40h-5zM536 824.9h15v5h-15zM56 829.9h10v5h-10zM121 829.9h5v15h-5zM151 829.9h5v5h-5zM226 829.9h5v25h-5zM61 834.9h10v5h-10zM156 834.9h5v5h-5zM206 834.9h5v10h-5zM231 834.9h10v15h-10zM66 839.9h10v5h-10zM116 839.9h5v10h-5zM241 839.9h5v60h-5zM76 844.9h15v5h-15zM106 844.9h10v10h-10zM161 844.9h5v5h-5zM246 844.9h5v45h-5zM86 849.9h20v5h-20zM166 849.9h5v30h-5zM236 849.9h5v5h-5zM251 854.9h5v30h-5zM206 864.9h5v15h-5zM161 869.9h5v15h-5zM201 869.9h5v60h-5zM376 869.9h25v15h-25zM156 874.9h5v15h-5zM191 874.9h10v55h-10zM236 874.9h5v30h-5zM371 874.9h5v10h-5zM401 874.9h20v15h-20zM151 879.9h5v15h-5zM186 879.9h5v35h-5zM231 879.9h5v30h-5zM146 884.9h5v15h-5zM226 884.9h5v30h-5zM376 884.9h15v5h-15zM141 889.9h5v40h-5zM181 889.9h5v15h-5zM206 889.9h5v40h-5zM221 889.9h5v40h-5zM376 889.9h10v5h-10zM406 889.9h15v5h-15zM596 889.9h50v10h-50zM131 894.9h10v35h-10zM381 894.9h5v35h-5zM411 894.9h15v15h-15zM586 894.9h10v5h-10zM126 899.9h5v30h-5zM211 899.9h10v30h-10zM581 899.9h10v30h-10zM606 899.9h40v30h-40zM376 904.9h5v25h-5zM426 904.9h5v25h-5zM601 904.9h5v25h-5zM146 909.9h5v20h-5zM416 909.9h10v10h-10zM591 909.9h10v20h-10zM431 914.9h5v15h-5zM371 919.9h5v10h-5zM386 919.9h5v10h-5zM421 919.9h5v10h-5z"/><path fill="#d4ede9" d="M406 549.9h20v15h-20zM411 564.9h10v5h-10zM586 569.9h15v10h-15zM576 574.9h10v10h-10zM601 574.9h10v30h-10zM571 579.9h5v30h-5zM306 584.9h35v5h-35zM576 584.9h5v5h-5zM301 589.9h10v5h-10zM346 589.9h30v5h-30zM301 594.9h5v15h-5zM356 594.9h25v5h-25zM566 594.9h5v10h-5zM296 599.9h5v50h-5zM366 599.9h15v5h-15zM371 604.9h10v40h-10zM576 604.9h30v5h-30zM86 609.9h20v15h-20zM291 609.9h5v40h-5zM586 609.9h15v5h-15zM106 614.9h5v30h-5zM286 614.9h5v40h-5zM381 614.9h5v25h-5zM111 619.9h5v30h-5zM91 624.9h15v5h-15zM116 624.9h5v25h-5zM281 624.9h5v100h-5zM101 629.9h5v5h-5zM121 629.9h5v25h-5zM271 629.9h10v100h-10zM301 629.9h5v20h-5zM126 634.9h5v30h-5zM251 634.9h20v10h-20zM306 634.9h10v15h-10zM366 634.9h5v15h-5zM131 639.9h5v30h-5zM316 639.9h15v10h-15zM361 639.9h5v15h-5zM136 644.9h5v25h-5zM261 644.9h10v5h-10zM331 644.9h30v5h-30zM371 644.9h5v5h-5zM451 644.9h10v10h-10zM141 649.9h5v25h-5zM266 649.9h5v5h-5zM346 649.9h15v5h-15zM461 649.9h5v15h-5zM451 654.9h5v10h-5zM466 654.9h5v10h-5zM146 659.9h5v25h-5zM456 659.9h5v5h-5zM151 664.9h5v25h-5zM286 664.9h5v30h-5zM156 669.9h5v30h-5zM266 669.9h5v80h-5zM291 669.9h10v20h-10zM301 674.9h5v25h-5zM261 679.9h5v45h-5zM306 679.9h5v45h-5zM256 684.9h5v35h-5zM311 684.9h5v45h-5zM246 689.9h10v25h-10zM296 689.9h5v5h-5zM316 689.9h20v40h-20zM231 694.9h15v15h-15zM336 694.9h10v95h-10zM161 699.9h5v10h-5zM226 699.9h5v20h-5zM346 699.9h10v15h-10zM166 704.9h5v10h-5zM221 704.9h5v20h-5zM286 704.9h5v20h-5zM301 704.9h5v20h-5zM356 704.9h5v10h-5zM171 709.9h5v5h-5zM211 709.9h10v20h-10zM231 709.9h5v5h-5zM241 709.9h5v5h-5zM291 709.9h10v15h-10zM361 709.9h5v60h-5zM511 709.9h10v10h-10zM616 709.9h30v60h-30zM176 714.9h35v5h-35zM346 714.9h5v25h-5zM366 714.9h5v35h-5zM501 714.9h10v30h-10zM521 714.9h5v20h-5zM611 714.9h5v55h-5zM191 719.9h20v5h-20zM526 719.9h5v25h-5zM351 724.9h10v10h-10zM371 724.9h15v10h-15zM531 724.9h5v25h-5zM271 729.9h5v5h-5zM321 729.9h15v5h-15zM386 729.9h15v5h-15zM326 734.9h10v30h-10zM396 734.9h20v5h-20zM536 734.9h5v20h-5zM606 734.9h5v35h-5zM406 739.9h25v20h-25zM261 744.9h5v10h-5zM431 744.9h10v10h-10zM496 744.9h10v10h-10zM541 744.9h5v15h-5zM256 749.9h5v35h-5zM441 749.9h5v15h-5zM546 749.9h5v15h-5zM251 754.9h5v35h-5zM446 754.9h5v15h-5zM491 754.9h10v10h-10zM551 754.9h10v30h-10zM241 759.9h10v10h-10zM356 759.9h5v90h-5zM406 759.9h20v5h-20zM486 759.9h5v10h-5zM561 759.9h5v20h-5zM221 764.9h20v5h-20zM331 764.9h5v20h-5zM346 764.9h5v75h-5zM411 764.9h10v15h-10zM451 764.9h15v10h-15zM481 764.9h5v10h-5zM216 769.9h15v5h-15zM246 769.9h5v5h-5zM351 769.9h5v75h-5zM466 769.9h15v5h-15zM591 769.9h15v35h-15zM626 769.9h20v5h-20zM211 774.9h10v15h-10zM586 774.9h5v10h-5zM636 774.9h10v115h-10zM246 779.9h5v15h-5zM261 779.9h5v10h-5zM631 779.9h5v40h-5zM241 784.9h5v15h-5zM266 784.9h5v10h-5zM546 784.9h10v5h-10zM606 784.9h5v20h-5zM626 784.9h5v30h-5zM211 789.9h5v10h-5zM236 789.9h5v15h-5zM271 789.9h10v5h-10zM341 789.9h5v5h-5zM541 789.9h10v5h-10zM611 789.9h15v20h-15zM226 794.9h10v20h-10zM276 794.9h10v5h-10zM536 794.9h10v5h-10zM26 799.9h10v10h-10zM206 799.9h5v35h-5zM281 799.9h5v15h-5zM531 799.9h10v5h-10zM36 804.9h15v5h-15zM221 804.9h5v20h-5zM286 804.9h5v15h-5zM341 804.9h5v30h-5zM526 804.9h10v5h-10zM586 804.9h5v5h-5zM41 809.9h10v5h-10zM101 809.9h25v5h-25zM336 809.9h5v20h-5zM526 809.9h5v20h-5zM581 809.9h5v10h-5zM46 814.9h10v5h-10zM101 814.9h20v5h-20zM141 814.9h5v5h-5zM226 814.9h5v15h-5zM291 814.9h10v10h-10zM331 814.9h5v15h-5zM361 814.9h5v40h-5zM51 819.9h15v5h-15zM101 819.9h15v15h-15zM146 819.9h5v5h-5zM301 819.9h5v10h-5zM326 819.9h5v10h-5zM576 819.9h5v10h-5zM56 824.9h20v5h-20zM151 824.9h5v5h-5zM201 824.9h5v45h-5zM231 824.9h20v10h-20zM306 824.9h20v5h-20zM366 824.9h5v70h-5zM566 824.9h10v10h-10zM626 824.9h10v65h-10zM66 829.9h15v5h-15zM116 829.9h5v10h-5zM156 829.9h5v5h-5zM251 829.9h10v25h-10zM371 829.9h10v40h-10zM531 829.9h35v5h-35zM616 829.9h10v60h-10zM71 834.9h15v5h-15zM106 834.9h10v10h-10zM161 834.9h5v10h-5zM196 834.9h5v20h-5zM241 834.9h10v5h-10zM261 834.9h5v65h-5zM381 834.9h5v35h-5zM551 834.9h10v5h-10zM611 834.9h5v55h-5zM76 839.9h20v5h-20zM101 839.9h5v10h-5zM191 839.9h5v5h-5zM246 839.9h5v5h-5zM606 839.9h5v5h-5zM91 844.9h10v5h-10zM166 844.9h5v5h-5zM206 844.9h5v20h-5zM266 844.9h5v30h-5zM386 844.9h5v25h-5zM271 849.9h5v20h-5zM391 849.9h10v20h-10zM171 854.9h10v75h-10zM256 854.9h5v75h-5zM276 854.9h5v5h-5zM401 854.9h5v20h-5zM181 859.9h10v20h-10zM406 859.9h5v15h-5zM486 859.9h15v25h-15zM191 864.9h10v10h-10zM361 864.9h5v20h-5zM411 864.9h10v10h-10zM371 869.9h5v5h-5zM421 869.9h5v25h-5zM481 869.9h5v20h-5zM501 869.9h5v10h-5zM426 874.9h5v30h-5zM166 879.9h5v50h-5zM181 879.9h5v10h-5zM476 879.9h5v30h-5zM606 879.9h5v10h-5zM161 884.9h5v45h-5zM251 884.9h5v45h-5zM371 884.9h5v35h-5zM431 884.9h5v30h-5zM466 884.9h10v45h-10zM596 884.9h10v5h-10zM156 889.9h5v40h-5zM246 889.9h5v40h-5zM436 889.9h30v40h-30zM586 889.9h10v5h-10zM151 894.9h5v35h-5zM376 894.9h5v10h-5zM571 894.9h15v5h-15zM146 899.9h5v10h-5zM241 899.9h5v30h-5zM566 899.9h15v30h-15zM181 904.9h5v25h-5zM236 904.9h5v25h-5zM261 904.9h5v25h-5zM366 904.9h5v25h-5zM231 909.9h5v20h-5zM186 914.9h5v15h-5zM226 914.9h5v15h-5z"/><path fill="#a8ddd5" d="M586 579.9h15v25h-15zM581 584.9h5v20h-5zM311 589.9h35v5h-35zM576 589.9h5v15h-5zM306 594.9h10v5h-10zM346 594.9h10v5h-10zM306 599.9h5v10h-5zM351 599.9h15v5h-15zM356 604.9h15v10h-15zM301 609.9h5v20h-5zM361 614.9h10v20h-10zM86 624.9h5v20h-5zM306 624.9h5v10h-5zM356 624.9h5v20h-5zM81 629.9h5v5h-5zM91 629.9h10v20h-10zM311 629.9h10v5h-10zM101 634.9h5v20h-5zM316 634.9h40v5h-40zM361 634.9h5v5h-5zM331 639.9h25v5h-25zM106 644.9h5v20h-5zM111 649.9h10v20h-10zM121 654.9h5v20h-5zM456 654.9h5v5h-5zM126 664.9h5v20h-5zM131 669.9h10v20h-10zM141 674.9h5v20h-5zM146 684.9h5v15h-5zM151 689.9h5v15h-5zM291 689.9h5v20h-5zM286 694.9h5v10h-5zM296 694.9h5v15h-5zM156 699.9h5v15h-5zM301 699.9h5v5h-5zM161 709.9h5v10h-5zM236 709.9h5v55h-5zM166 714.9h10v5h-10zM231 714.9h5v50h-5zM241 714.9h15v20h-15zM351 714.9h10v10h-10zM171 719.9h20v5h-20zM226 719.9h5v45h-5zM256 719.9h5v30h-5zM511 719.9h10v30h-10zM176 724.9h35v5h-35zM221 724.9h5v40h-5zM261 724.9h5v20h-5zM181 729.9h40v5h-40zM201 734.9h20v5h-20zM241 734.9h5v25h-5zM371 734.9h25v15h-25zM521 734.9h5v20h-5zM206 739.9h15v30h-15zM246 739.9h5v20h-5zM396 739.9h10v35h-10zM201 744.9h5v25h-5zM251 744.9h5v10h-5zM506 744.9h5v20h-5zM526 744.9h5v20h-5zM196 749.9h5v15h-5zM366 749.9h10v5h-10zM381 749.9h15v5h-15zM511 749.9h5v5h-5zM531 749.9h5v20h-5zM191 754.9h5v5h-5zM366 754.9h5v15h-5zM386 754.9h10v5h-10zM431 754.9h10v20h-10zM501 754.9h5v15h-5zM536 754.9h5v20h-5zM391 759.9h5v5h-5zM426 759.9h5v20h-5zM541 759.9h5v30h-5zM406 764.9h5v20h-5zM421 764.9h5v20h-5zM441 764.9h5v15h-5zM491 764.9h10v10h-10zM546 764.9h5v20h-5zM26 769.9h35v30h-35zM206 769.9h10v5h-10zM361 769.9h5v45h-5zM446 769.9h5v10h-5zM486 769.9h5v10h-5zM61 774.9h10v45h-10zM206 774.9h5v25h-5zM401 774.9h5v5h-5zM451 774.9h35v10h-35zM71 779.9h5v45h-5zM411 779.9h10v5h-10zM76 784.9h10v45h-10zM256 784.9h5v10h-5zM456 784.9h25v5h-25zM531 784.9h10v10h-10zM86 789.9h10v50h-10zM251 789.9h5v5h-5zM261 789.9h5v10h-5zM366 789.9h5v35h-5zM526 789.9h5v15h-5zM96 794.9h10v15h-10zM246 794.9h5v30h-5zM266 794.9h10v50h-10zM521 794.9h5v45h-5zM531 794.9h5v5h-5zM36 799.9h25v5h-25zM106 799.9h10v10h-10zM201 799.9h5v25h-5zM241 799.9h5v25h-5zM276 799.9h5v55h-5zM51 804.9h10v10h-10zM116 804.9h10v5h-10zM236 804.9h5v20h-5zM251 804.9h5v25h-5zM261 804.9h5v30h-5zM371 804.9h5v25h-5zM591 804.9h20v5h-20zM96 809.9h5v35h-5zM126 809.9h15v5h-15zM256 809.9h5v20h-5zM456 809.9h5v80h-5zM586 809.9h10v5h-10zM601 809.9h25v5h-25zM56 814.9h5v5h-5zM146 814.9h5v5h-5zM231 814.9h5v10h-5zM281 814.9h5v55h-5zM376 814.9h5v15h-5zM451 814.9h5v75h-5zM461 814.9h10v70h-10zM586 814.9h5v30h-5zM611 814.9h20v10h-20zM66 819.9h5v5h-5zM151 819.9h5v5h-5zM196 819.9h5v15h-5zM286 819.9h5v20h-5zM381 819.9h5v15h-5zM581 819.9h5v25h-5zM631 819.9h5v5h-5zM156 824.9h5v5h-5zM291 824.9h10v10h-10zM386 824.9h5v20h-5zM446 824.9h5v65h-5zM471 824.9h5v60h-5zM606 824.9h20v5h-20zM81 829.9h5v5h-5zM161 829.9h5v5h-5zM191 829.9h5v10h-5zM301 829.9h40v5h-40zM391 829.9h5v20h-5zM441 829.9h5v25h-5zM476 829.9h5v50h-5zM526 829.9h5v40h-5zM576 829.9h5v15h-5zM601 829.9h15v5h-15zM101 834.9h5v5h-5zM166 834.9h5v10h-5zM186 834.9h5v25h-5zM316 834.9h30v5h-30zM396 834.9h5v15h-5zM431 834.9h10v15h-10zM531 834.9h20v20h-20zM561 834.9h15v15h-15zM591 834.9h20v5h-20zM331 839.9h20v5h-20zM401 839.9h5v15h-5zM426 839.9h5v10h-5zM481 839.9h5v30h-5zM551 839.9h10v25h-10zM591 839.9h15v5h-15zM171 844.9h5v10h-5zM181 844.9h5v15h-5zM191 844.9h5v20h-5zM271 844.9h5v5h-5zM341 844.9h15v5h-15zM406 844.9h5v15h-5zM486 844.9h20v15h-20zM521 844.9h5v35h-5zM601 844.9h10v10h-10zM176 849.9h5v5h-5zM346 849.9h15v5h-15zM411 849.9h15v15h-15zM506 849.9h15v35h-15zM561 849.9h10v5h-10zM196 854.9h5v10h-5zM351 854.9h15v10h-15zM541 854.9h10v5h-10zM561 854.9h5v5h-5zM606 854.9h5v25h-5zM276 859.9h5v15h-5zM426 859.9h5v15h-5zM501 859.9h5v10h-5zM546 859.9h5v5h-5zM351 864.9h10v25h-10zM421 864.9h5v5h-5zM431 864.9h5v20h-5zM441 864.9h5v25h-5zM271 869.9h5v60h-5zM436 869.9h5v20h-5zM601 869.9h5v15h-5zM266 874.9h5v55h-5zM346 874.9h5v5h-5zM501 879.9h5v10h-5zM596 879.9h5v5h-5zM361 884.9h5v45h-5zM461 884.9h5v5h-5zM486 884.9h15v10h-15zM506 884.9h5v5h-5zM581 884.9h15v5h-15zM356 889.9h5v10h-5zM481 889.9h5v40h-5zM566 889.9h20v5h-20zM366 894.9h5v10h-5zM486 894.9h5v35h-5zM551 894.9h20v5h-20zM261 899.9h5v5h-5zM276 899.9h5v30h-5zM546 899.9h20v30h-20zM476 909.9h5v20h-5z"/><path fill="#76c6ba" d="M316 594.9h30v5h-30zM311 599.9h10v5h-10zM341 599.9h10v5h-10zM311 604.9h5v25h-5zM346 604.9h10v5h-10zM306 609.9h5v15h-5zM351 609.9h5v25h-5zM356 614.9h5v10h-5zM316 624.9h10v5h-10zM346 624.9h5v10h-5zM66 629.9h15v60h-15zM321 629.9h25v5h-25zM81 634.9h5v55h-5zM86 644.9h5v45h-5zM91 649.9h10v40h-10zM101 654.9h5v40h-5zM106 664.9h5v30h-5zM111 669.9h10v25h-10zM121 674.9h5v25h-5zM126 684.9h5v20h-5zM96 689.9h5v5h-5zM131 689.9h10v15h-10zM116 694.9h5v5h-5zM141 694.9h5v15h-5zM146 699.9h5v15h-5zM151 704.9h5v20h-5zM156 714.9h5v20h-5zM161 719.9h10v20h-10zM171 724.9h5v25h-5zM176 729.9h5v25h-5zM181 734.9h20v15h-20zM246 734.9h10v5h-10zM166 739.9h5v5h-5zM201 739.9h5v5h-5zM251 739.9h5v5h-5zM181 749.9h15v5h-15zM376 749.9h5v25h-5zM516 749.9h5v100h-5zM181 754.9h10v5h-10zM371 754.9h5v25h-5zM381 754.9h5v25h-5zM511 754.9h5v95h-5zM521 754.9h5v40h-5zM186 759.9h10v5h-10zM386 759.9h5v30h-5zM191 764.9h10v5h-10zM391 764.9h5v25h-5zM506 764.9h5v85h-5zM526 764.9h5v25h-5zM61 769.9h20v5h-20zM196 769.9h10v10h-10zM366 769.9h5v20h-5zM501 769.9h5v75h-5zM531 769.9h5v15h-5zM71 774.9h20v5h-20zM396 774.9h5v15h-5zM431 774.9h10v10h-10zM491 774.9h10v70h-10zM536 774.9h5v10h-5zM76 779.9h20v5h-20zM201 779.9h5v20h-5zM401 779.9h5v10h-5zM426 779.9h5v10h-5zM441 779.9h10v10h-10zM486 779.9h5v65h-5zM86 784.9h15v5h-15zM371 784.9h5v20h-5zM406 784.9h20v5h-20zM451 784.9h5v30h-5zM481 784.9h5v55h-5zM96 789.9h15v5h-15zM376 789.9h10v25h-10zM446 789.9h5v5h-5zM456 789.9h25v20h-25zM106 794.9h15v5h-15zM251 794.9h10v10h-10zM116 799.9h10v5h-10zM196 799.9h5v20h-5zM261 799.9h5v5h-5zM386 799.9h5v25h-5zM126 804.9h10v5h-10zM256 804.9h5v5h-5zM391 804.9h5v25h-5zM446 804.9h5v20h-5zM141 809.9h10v5h-10zM461 809.9h20v5h-20zM596 809.9h5v10h-5zM151 814.9h5v5h-5zM191 814.9h5v15h-5zM381 814.9h5v5h-5zM396 814.9h5v20h-5zM441 814.9h5v15h-5zM471 814.9h10v10h-10zM591 814.9h5v20h-5zM601 814.9h10v10h-10zM156 819.9h5v5h-5zM161 824.9h5v5h-5zM186 824.9h5v10h-5zM401 824.9h5v15h-5zM431 824.9h10v10h-10zM476 824.9h5v5h-5zM596 824.9h10v5h-10zM166 829.9h5v5h-5zM406 829.9h5v15h-5zM426 829.9h5v10h-5zM596 829.9h5v5h-5zM181 834.9h5v10h-5zM291 834.9h25v10h-25zM411 834.9h15v15h-15zM171 839.9h10v5h-10zM286 839.9h5v90h-5zM316 839.9h15v5h-15zM521 839.9h5v5h-5zM176 844.9h5v5h-5zM291 844.9h10v5h-10zM321 844.9h20v5h-20zM576 844.9h25v10h-25zM291 849.9h5v5h-5zM331 849.9h15v5h-15zM426 849.9h15v10h-15zM571 849.9h5v20h-5zM341 854.9h10v20h-10zM441 854.9h5v10h-5zM531 854.9h10v75h-10zM566 854.9h5v20h-5zM576 854.9h15v5h-15zM596 854.9h10v5h-10zM431 859.9h10v5h-10zM541 859.9h5v70h-5zM561 859.9h5v15h-5zM576 859.9h10v10h-10zM601 859.9h5v10h-5zM336 864.9h5v20h-5zM436 864.9h5v5h-5zM546 864.9h15v10h-15zM596 864.9h5v15h-5zM281 869.9h5v60h-5zM526 869.9h5v60h-5zM586 869.9h10v15h-10zM276 874.9h5v25h-5zM331 874.9h5v5h-5zM341 874.9h5v15h-5zM546 874.9h5v25h-5zM346 879.9h5v15h-5zM521 879.9h5v20h-5zM576 879.9h10v5h-10zM291 884.9h5v45h-5zM511 884.9h10v10h-10zM551 884.9h30v5h-30zM351 889.9h5v25h-5zM501 889.9h10v10h-10zM551 889.9h15v5h-15zM296 894.9h5v15h-5zM491 894.9h10v35h-10zM356 899.9h5v30h-5zM501 899.9h5v30h-5zM506 904.9h5v25h-5zM521 909.9h5v20h-5zM511 914.9h10v15h-10z"/><path fill="#3e9d95" d="M321 599.9h20v5h-20zM316 604.9h15v5h-15zM336 604.9h10v5h-10zM316 609.9h10v5h-10zM341 609.9h10v5h-10zM316 614.9h5v10h-5zM346 614.9h5v10h-5zM321 619.9h5v5h-5zM326 624.9h20v5h-20zM66 689.9h30v40h-30zM96 694.9h20v30h-20zM116 699.9h10v20h-10zM126 704.9h15v10h-15zM141 709.9h5v35h-5zM146 714.9h5v35h-5zM116 719.9h5v5h-5zM151 724.9h5v25h-5zM136 729.9h5v15h-5zM131 734.9h5v10h-5zM156 734.9h5v15h-5zM161 739.9h5v15h-5zM166 744.9h5v15h-5zM171 749.9h5v15h-5zM176 754.9h5v10h-5zM66 759.9h5v10h-5zM181 759.9h5v10h-5zM71 764.9h25v5h-25zM186 764.9h5v10h-5zM81 769.9h20v5h-20zM191 769.9h5v45h-5zM91 774.9h10v5h-10zM376 774.9h5v15h-5zM96 779.9h10v5h-10zM196 779.9h5v20h-5zM371 779.9h5v5h-5zM381 779.9h5v10h-5zM101 784.9h15v5h-15zM431 784.9h10v10h-10zM111 789.9h10v5h-10zM386 789.9h45v5h-45zM441 789.9h5v25h-5zM121 794.9h5v5h-5zM386 794.9h30v5h-30zM446 794.9h5v10h-5zM126 799.9h5v5h-5zM391 799.9h15v5h-15zM136 804.9h15v5h-15zM396 804.9h10v10h-10zM436 804.9h5v20h-5zM151 809.9h10v5h-10zM156 814.9h10v5h-10zM186 814.9h5v10h-5zM401 814.9h5v10h-5zM431 814.9h5v10h-5zM161 819.9h10v5h-10zM426 819.9h5v10h-5zM596 819.9h5v5h-5zM166 824.9h5v5h-5zM181 824.9h5v10h-5zM406 824.9h5v5h-5zM421 824.9h5v10h-5zM171 829.9h10v10h-10zM411 829.9h10v5h-10zM301 844.9h20v10h-20zM296 849.9h5v45h-5zM321 849.9h10v10h-10zM291 854.9h5v30h-5zM301 854.9h10v5h-10zM331 854.9h10v10h-10zM591 854.9h5v15h-5zM301 859.9h5v5h-5zM326 859.9h5v25h-5zM586 859.9h5v10h-5zM596 859.9h5v5h-5zM331 864.9h5v10h-5zM571 869.9h15v10h-15zM551 874.9h20v10h-20zM331 879.9h5v10h-5zM571 879.9h5v5h-5zM301 884.9h5v45h-5zM336 884.9h5v5h-5zM341 889.9h5v10h-5zM306 894.9h5v35h-5zM346 894.9h5v35h-5zM511 894.9h10v20h-10zM506 899.9h5v5h-5zM521 899.9h5v10h-5zM296 909.9h5v20h-5zM351 914.9h5v15h-5z"/><path fill="#167a72" d="M331 604.9h5v10h-5zM326 609.9h5v15h-5zM336 609.9h5v15h-5zM321 614.9h5v5h-5zM341 614.9h5v10h-5zM331 619.9h5v5h-5zM126 714.9h15v15h-15zM121 719.9h5v55h-5zM96 724.9h25v45h-25zM66 729.9h30v30h-30zM126 729.9h10v5h-10zM126 734.9h5v40h-5zM131 744.9h15v30h-15zM146 749.9h15v20h-15zM161 754.9h5v15h-5zM71 759.9h25v5h-25zM166 759.9h5v10h-5zM171 764.9h10v5h-10zM101 769.9h20v5h-20zM181 769.9h5v5h-5zM101 774.9h15v5h-15zM186 774.9h5v40h-5zM106 779.9h20v5h-20zM116 784.9h15v5h-15zM121 789.9h10v5h-10zM126 794.9h5v5h-5zM416 794.9h25v10h-25zM131 799.9h15v5h-15zM406 799.9h10v15h-10zM151 804.9h10v5h-10zM181 804.9h5v20h-5zM416 804.9h20v10h-20zM161 809.9h5v5h-5zM166 814.9h5v5h-5zM406 814.9h5v10h-5zM421 814.9h10v5h-10zM171 819.9h10v10h-10zM411 819.9h15v5h-15zM411 824.9h10v5h-10zM311 854.9h10v20h-10zM306 859.9h5v35h-5zM321 859.9h5v70h-5zM301 864.9h5v20h-5zM311 884.9h10v45h-10zM326 884.9h5v15h-5zM331 889.9h10v5h-10zM336 894.9h5v5h-5zM341 899.9h5v30h-5zM326 909.9h5v20h-5zM336 909.9h5v20h-5z"/><path fill="#015a50" d="M331 614.9h5v5h-5zM146 769.9h35v5h-35zM116 774.9h55v5h-55zM176 774.9h10v5h-10zM126 779.9h40v5h-40zM181 779.9h5v25h-5zM131 784.9h35v5h-35zM131 789.9h30v5h-30zM131 794.9h25v5h-25zM146 799.9h20v5h-20zM161 804.9h20v5h-20zM166 809.9h15v5h-15zM171 814.9h10v5h-10zM411 814.9h10v5h-10zM311 874.9h10v10h-10zM331 894.9h5v35h-5zM326 899.9h5v10h-5zM336 899.9h5v10h-5z"/><path fill="#003c30" d="M171 774.9h5v30h-5zM166 779.9h5v25h-5zM176 779.9h5v25h-5zM161 789.9h5v10h-5zM156 794.9h5v5h-5z"/></g>
<path d="M333.7,524.8L326.3,534.5L323.1,548.3L315.4,559.1L310.6,569.8L306.2,579.2L301.8,585.7L293.9,596.1L287.1,598.2L278.5,604.1L271.6,610.1L264.2,613.2L260.6,629.0L260.8,637.2L258.4,649.1L261.4,656.9L263.2,664.6L269.9,670.9L276.8,670.2L282.8,666.1L289.7,659.3L294.7,656.9L296.7,647.6L298.1,657.2L300.0,661.3L300.2,669.4L304.1,677.6L305.9,685.7L310.1,691.9L308.4,697.2L309.4,700.6L311.2,706.0L309.9,708.7L312.2,709.1L317.2,708.6L321.4,706.9L320.7,702.2L324.8,698.9L330.8,698.9L334.1,696.8L336.6,692.1L337.2,684.0L338.5,677.3L339.0,669.9L336.8,665.9L340.9,664.5L346.4,662.3L350.9,654.7L352.6,647.8L349.7,644.0L341.4,637.6L340.4,624.1L341.3,614.7L344.9,611.1L349.4,602.8L358.1,596.1L361.6,587.7L362.1,580.8L363.8,573.8L366.8,570.1L372.0,566.1L377.0,565.5L380.0,566.4L385.9,575.2L381.3,580.0L374.6,592.5L366.0,603.6L365.8,614.5L368.7,625.0L367.9,630.5L367.6,634.6L373.4,639.5L379.9,646.6L392.6,640.5L404.8,634.5L415.9,629.0L420.5,634.9L427.8,636.8L419.9,638.5L413.8,642.4L414.5,646.4L404.2,646.8L392.6,650.0L384.5,653.7L385.0,657.7L387.3,664.9L393.0,664.8L392.7,671.0L394.2,678.9L392.1,682.5L388.2,683.7L384.0,679.5L380.6,674.5L373.5,679.9L370.6,692.3L372.3,702.9L369.3,712.5L364.0,713.6L364.2,717.6L359.9,722.0L354.8,721.6L355.8,718.8L351.8,716.0L341.8,719.4L330.6,725.2L320.4,728.7L316.9,725.6L315.4,720.9L313.9,718.4L311.4,723.5L303.5,725.2L298.3,728.3L294.0,727.4L295.9,721.5L288.9,721.0L287.0,715.5L283.9,714.6L285.8,710.1L286.5,706.1L290.7,701.0L290.9,697.7L296.3,694.7L291.7,691.7L292.0,686.3L294.2,680.4L294.8,676.7L290.1,678.1L285.6,683.8L279.8,683.7L276.4,689.1L274.7,698.3L273.9,704.3L276.6,705.9L277.7,710.7L277.1,713.4L276.3,721.4L278.3,725.6L276.6,726.8L274.6,731.3L271.8,731.7L270.9,728.9L263.7,728.8L262.4,732.7L261.8,731.3L256.2,731.3L250.4,731.9L247.3,731.4L243.8,735.7L241.2,742.1L236.6,747.5L231.7,752.1L229.5,755.1L227.8,755.1L225.0,756.0L220.1,757.6L215.6,758.1L213.2,758.7L213.0,760.7L211.2,767.5L206.5,770.3L198.4,771.7L197.0,774.2L193.8,776.3L186.3,773.8L186.0,768.9L183.0,768.9L180.2,767.2L180.4,772.1L180.4,779.6L180.6,782.5L176.3,781.1L169.9,780.9L168.4,776.3L164.1,775.2L159.4,775.7L152.1,776.7L151.3,778.8L154.4,780.1L152.7,781.1L150.5,782.7L152.8,786.7L157.1,786.9L161.3,790.5L162.6,793.9L166.1,793.8L167.4,798.0L170.0,798.8L170.9,802.8L171.1,809.8L175.9,815.8L175.2,822.9L173.9,824.4L170.3,835.4L164.2,850.1L158.8,851.3L149.3,848.4L142.0,844.8L124.7,838.6L123.3,836.7L111.5,834.4L106.4,829.4L104.5,828.9L98.1,832.3L87.7,835.6L88.9,846.2L87.1,849.9L85.5,860.3L82.3,866.5L78.4,872.5L69.7,881.1L65.9,888.2L68.6,890.3L70.7,894.1L68.4,901.4L62.7,913.2L74.2,917.5L85.2,918.2L89.1,929.8L94.7,938.9L98.0,937.7L110.6,933.0L120.3,935.8L132.2,937.3L134.5,939.5L139.4,933.8L150.5,930.7L153.8,931.0L158.4,921.7L167.1,918.2L163.4,907.2L168.3,900.9L179.5,892.7L184.4,888.3L194.6,886.3L208.3,875.7L206.5,870.1L208.0,864.8L214.5,861.7L221.5,862.1L225.7,864.1L230.5,865.5L236.1,869.0L243.3,867.9L247.2,864.2L250.1,862.5L255.5,861.4L263.0,855.6L267.3,854.4L275.8,860.1L279.8,867.2L281.2,875.8L286.8,883.4L293.7,887.9L297.9,892.9L301.7,897.1L306.1,900.3L311.8,900.9L318.5,906.1L319.3,909.5L323.9,908.3L326.3,914.8L333.2,916.9L334.9,924.5L338.4,945.3L349.0,931.1L342.3,921.6L346.3,911.8L358.2,918.3L363.3,915.3L357.2,907.9L345.7,901.7L335.8,895.2L338.4,891.3L329.4,891.1L326.3,890.0L318.4,883.5L311.7,867.6L302.5,861.2L299.8,856.4L302.7,849.2L300.4,845.5L301.0,842.7L308.3,839.9L312.6,838.2L314.6,840.0L312.7,841.6L312.9,845.9L315.2,850.7L315.9,852.0L320.9,844.5L325.3,849.3L328.5,861.0L335.2,866.2L340.6,869.3L350.6,875.2L357.5,880.4L362.3,883.6L368.1,887.4L371.3,890.6L372.3,897.9L373.4,909.6L371.5,910.6L379.4,917.5L391.9,938.4L408.7,940.9L412.1,922.3L406.0,906.3L409.0,904.6L413.7,908.9L417.4,912.6L419.8,906.7L425.4,908.8L417.6,901.5L424.0,898.1L431.2,896.8L439.3,897.1L441.4,898.5L449.5,898.8L444.5,907.3L448.6,901.8L452.6,898.3L455.8,892.5L463.2,889.7L470.5,889.2L471.0,886.3L466.8,885.1L460.2,882.4L459.1,879.1L454.3,872.8L452.0,871.8L455.5,868.4L454.7,861.5L459.4,858.3L459.5,852.3L459.0,847.2L466.0,835.6L466.7,832.0L465.5,828.8L470.9,817.9L472.0,812.3L478.9,809.0L479.4,813.1L492.8,812.5L500.1,810.5L494.9,816.8L491.7,823.3L500.1,823.2L503.6,830.7L506.6,832.8L510.3,830.3L511.8,827.4L516.4,823.5L519.6,820.0L529.0,816.1L529.1,811.8L517.7,816.8L509.8,806.8L525.3,793.8L530.6,787.7L541.7,781.8L545.6,781.8L538.4,790.1L540.3,798.8L536.8,810.7L530.9,814.1L537.6,816.2L543.0,816.9L557.4,820.8L565.9,825.3L580.6,828.2L591.0,836.6L593.4,843.0L592.5,847.1L585.7,855.2L578.2,858.5L565.7,864.2L560.4,864.9L553.9,865.2L543.6,866.0L538.6,861.4L529.1,860.0L515.5,864.6L503.0,871.2L498.0,876.7L494.5,879.7L476.6,885.4L472.0,885.9L472.1,888.9L480.9,890.6L474.8,893.3L474.2,896.5L471.7,897.9L462.2,900.0L449.0,902.4L446.3,905.6L445.7,914.9L457.7,934.0L563.5,981.8L781.2,881.5L864.5,577.4L592.6,376.6L441.0,460.4L463.3,529.2L462.0,545.8L467.0,551.2L471.6,558.2L469.9,560.3L464.2,560.2L455.0,558.4L447.3,558.8L454.3,567.2L460.3,566.6L460.6,573.0L450.9,574.0L441.1,570.0L438.8,564.2L432.4,548.4L422.7,544.0L424.9,532.0L391.1,475.9L348.1,482.2Z M150.1,754.1L153.9,756.7L164.5,754.3L167.7,757.0L171.1,752.6L178.7,755.8L188.4,757.3L193.0,756.3L201.8,758.2L208.2,757.2L212.0,754.9L213.4,751.8L207.5,749.6L209.9,746.0L213.7,744.0L218.8,737.5L217.1,731.3L210.1,729.3L207.2,731.0L209.2,727.4L208.9,721.1L205.9,718.4L208.6,713.5L205.9,707.4L201.9,704.4L201.5,699.5L201.9,691.3L199.6,688.0L196.6,684.5L190.8,682.9L196.8,680.7L195.9,678.1L203.1,670.9L206.5,666.2L205.7,663.3L196.8,660.7L189.8,661.8L193.1,657.9L200.5,652.3L201.7,649.1L199.2,649.1L188.5,645.8L184.5,651.9L179.1,657.3L179.1,662.2L176.0,667.5L172.8,667.9L176.7,672.6L173.1,679.3L170.0,686.7L174.5,682.5L178.9,681.0L178.1,686.3L174.0,692.1L173.4,696.8L178.1,697.5L184.7,696.6L186.2,697.0L183.3,701.7L184.9,707.7L187.2,708.3L184.9,712.6L184.0,717.2L181.6,717.2L176.0,716.4L171.7,713.8L172.1,718.1L168.3,721.2L173.7,721.3L172.7,726.6L169.6,729.9L166.1,730.3L160.6,731.5L161.2,735.2L167.6,737.0L169.6,739.0L175.7,742.1L180.3,741.2L176.7,745.1L170.1,743.6L166.7,743.1L162.8,746.1L157.6,750.2L152.3,752.8Z M123.1,725.3L136.5,725.1L148.2,724.1L153.4,725.5L156.3,720.3L159.0,715.6L160.0,711.0L161.5,703.7L167.6,700.0L169.5,697.8L166.7,694.8L168.8,693.3L167.4,688.7L164.7,685.8L159.6,682.0L155.8,683.5L151.3,682.7L145.4,687.7L149.6,689.9L146.0,692.9L140.9,691.1L134.8,689.5L132.6,693.0L132.5,698.0L129.5,699.0L133.3,702.6L137.4,705.5L133.2,707.5L127.3,710.9L134.6,713.0L127.4,713.9L121.8,714.7L125.4,716.8L121.1,718.8L121.5,722.5Z M167.0,546.6L158.4,551.7L149.2,551.9L138.6,552.0L128.4,552.0L122.1,547.1L119.7,540.3L111.7,536.3L118.7,532.6L113.0,519.6L126.3,519.7L114.9,511.2L127.1,507.5L129.4,520.0L136.6,521.0L145.6,519.6L161.8,521.7L168.1,527.7L164.1,537.8Z M187.3,596.4L191.4,594.2L193.7,597.1L189.0,605.5L188.5,601.0Z M216.4,631.4L219.8,626.0L223.1,624.7L220.0,630.8L217.4,636.2Z M200.9,644.0L204.3,640.8L207.6,641.6L204.3,646.3L201.2,646.9Z M171.9,649.3L180.0,644.9L178.8,648.7L174.7,652.3L171.5,652.7Z M167.5,653.5L170.4,653.8L167.1,660.5L165.7,660.0Z M172.5,656.6L176.1,654.9L177.0,661.5L175.6,663.9L172.7,660.9Z M171.4,669.6L175.0,670.7L174.9,673.5L170.4,672.8Z M167.0,678.7L170.3,678.4L170.0,681.8L167.6,681.7Z M172.8,704.3L176.9,701.3L177.0,704.1L173.4,705.2Z M286.9,705.4L290.8,704.8L294.3,709.3L293.3,712.3L288.8,711.9L287.4,709.5Z M296.9,704.1L298.9,700.6L303.9,698.7L306.1,698.8L308.3,700.2L308.2,704.6L305.0,707.8L306.8,710.2L304.0,713.8L307.1,714.6L302.5,713.7L296.8,709.0Z M295.5,715.4L302.5,714.4L304.3,716.5L302.6,719.5L298.0,718.2L295.4,716.7Z M324.0,711.6L327.4,712.3L327.1,714.3L324.4,713.6Z M336.7,698.1L337.8,697.4L341.5,682.6L340.4,683.3Z M349.3,688.0L353.7,680.7L356.9,673.8L352.6,674.7L350.0,678.2L348.8,683.6Z M374.1,667.7L376.0,671.8L379.2,668.5L384.4,664.6L382.0,662.2L375.3,664.9Z M375.1,659.5L378.6,656.7L382.1,659.4L378.5,661.9Z M357.0,643.5L359.5,640.7L362.3,643.1L359.9,646.0Z M261.0,881.5L263.3,879.3L269.0,878.0L270.3,874.0L270.5,878.2L270.8,886.4L268.7,893.2L265.9,896.0L262.6,892.7L260.9,888.4Z M256.8,899.0L266.3,897.8L270.0,903.0L271.7,908.6L268.2,926.4L255.1,928.1L256.9,914.3L254.6,905.7L255.6,901.0Z M425.9,900.4L427.9,900.1L428.2,902.1L426.1,902.4Z" fill="none" stroke="#000" stroke-width="2.0" stroke-linejoin="round"/>
<path d="M187.3,596.4L191.4,594.2L193.7,597.1L189.0,605.5L188.5,601.0Z M216.4,631.4L219.8,626.0L223.1,624.7L220.0,630.8L217.4,636.2Z M200.9,644.0L204.3,640.8L207.6,641.6L204.3,646.3L201.2,646.9Z M171.9,649.3L180.0,644.9L178.8,648.7L174.7,652.3L171.5,652.7Z M167.5,653.5L170.4,653.8L167.1,660.5L165.7,660.0Z M172.5,656.6L176.1,654.9L177.0,661.5L175.6,663.9L172.7,660.9Z M171.4,669.6L175.0,670.7L174.9,673.5L170.4,672.8Z M167.0,678.7L170.3,678.4L170.0,681.8L167.6,681.7Z M172.8,704.3L176.9,701.3L177.0,704.1L173.4,705.2Z M324.0,711.6L327.4,712.3L327.1,714.3L324.4,713.6Z M425.9,900.4L427.9,900.1L428.2,902.1L426.1,902.4Z M357.0,643.5L359.5,640.7L362.3,643.1L359.9,646.0Z M375.1,659.5L378.6,656.7L382.1,659.4L378.5,661.9Z" fill="#000" stroke="#000" stroke-width="1.2"/>
<path d="M90.9,806.2 L105.2,768.1 L484.5,601.0 L561.7,806.2 L550.4,810.3 L539.0,814.3 L527.6,818.0 L516.1,821.5 L504.5,824.8 L492.9,827.9 L481.2,830.8 L469.5,833.5 L457.7,835.9 L445.9,838.2 L434.1,840.2 L422.2,842.1 L410.3,843.7 L398.3,845.1 L386.4,846.3 L374.4,847.3 L362.4,848.0 L350.3,848.6 L338.3,848.9 L326.3,849.0 L314.3,848.9 L302.3,848.6 L290.2,848.0 L278.2,847.3 L266.2,846.3 L254.3,845.1 L242.3,843.7 L230.4,842.1 L218.5,840.2 L206.7,838.2 L194.9,835.9 L183.1,833.5 L171.4,830.8 L159.7,827.9 L148.1,824.8 L136.5,821.5 L125.0,818.0 L113.6,814.3 L102.2,810.3 L90.9,806.2Z" fill="none" stroke="#006d2c" stroke-width="3.8" stroke-linejoin="miter"/>
</g>
<clipPath id="edbox"><rect x="726.4" y="550.2" width="600.5" height="357.3"/></clipPath>
<clipPath id="edland"><path d="M1034.1,524.8L1026.7,534.5L1023.5,548.3L1015.8,559.1L1011.0,569.8L1006.6,579.2L1002.2,585.7L994.3,596.1L987.5,598.2L978.9,604.1L972.0,610.1L964.6,613.2L961.0,629.0L961.2,637.2L958.8,649.1L961.8,656.9L963.6,664.6L970.3,670.9L977.2,670.2L983.2,666.1L990.1,659.3L995.1,656.9L997.1,647.6L998.5,657.2L1000.4,661.3L1000.6,669.4L1004.5,677.6L1006.3,685.7L1010.5,691.9L1008.8,697.2L1009.8,700.6L1011.6,706.0L1010.3,708.7L1012.6,709.1L1017.6,708.6L1021.8,706.9L1021.1,702.2L1025.2,698.9L1031.2,698.9L1034.5,696.8L1037.0,692.1L1037.6,684.0L1038.9,677.3L1039.4,669.9L1037.2,665.9L1041.3,664.5L1046.8,662.3L1051.3,654.7L1053.0,647.8L1050.1,644.0L1041.8,637.6L1040.8,624.1L1041.7,614.7L1045.3,611.1L1049.8,602.8L1058.5,596.1L1062.0,587.7L1062.5,580.8L1064.2,573.8L1067.2,570.1L1072.4,566.1L1077.4,565.5L1080.4,566.4L1086.3,575.2L1081.7,580.0L1075.0,592.5L1066.4,603.6L1066.2,614.5L1069.1,625.0L1068.3,630.5L1068.0,634.6L1073.8,639.5L1080.3,646.6L1093.0,640.5L1105.2,634.5L1116.3,629.0L1120.9,634.9L1128.2,636.8L1120.3,638.5L1114.2,642.4L1114.9,646.4L1104.6,646.8L1093.0,650.0L1084.9,653.7L1085.4,657.7L1087.7,664.9L1093.4,664.8L1093.1,671.0L1094.6,678.9L1092.5,682.5L1088.6,683.7L1084.4,679.5L1081.0,674.5L1073.9,679.9L1071.0,692.3L1072.7,702.9L1069.7,712.5L1064.4,713.6L1064.6,717.6L1060.3,722.0L1055.2,721.6L1056.2,718.8L1052.2,716.0L1042.2,719.4L1031.0,725.2L1020.8,728.7L1017.3,725.6L1015.8,720.9L1014.3,718.4L1011.8,723.5L1003.9,725.2L998.7,728.3L994.4,727.4L996.3,721.5L989.3,721.0L987.4,715.5L984.3,714.6L986.2,710.1L986.9,706.1L991.1,701.0L991.3,697.7L996.7,694.7L992.1,691.7L992.4,686.3L994.6,680.4L995.2,676.7L990.5,678.1L986.0,683.8L980.2,683.7L976.8,689.1L975.1,698.3L974.3,704.3L977.0,705.9L978.1,710.7L977.5,713.4L976.7,721.4L978.7,725.6L977.0,726.8L975.0,731.3L972.2,731.7L971.3,728.9L964.1,728.8L962.8,732.7L962.2,731.3L956.6,731.3L950.8,731.9L947.7,731.4L944.2,735.7L941.6,742.1L937.0,747.5L932.1,752.1L929.9,755.1L928.2,755.1L925.4,756.0L920.5,757.6L916.0,758.1L913.6,758.7L913.4,760.7L911.6,767.5L906.9,770.3L898.8,771.7L897.4,774.2L894.2,776.3L886.7,773.8L886.4,768.9L883.4,768.9L880.6,767.2L880.8,772.1L880.8,779.6L881.0,782.5L876.7,781.1L870.3,780.9L868.8,776.3L864.5,775.2L859.8,775.7L852.5,776.7L851.7,778.8L854.8,780.1L853.1,781.1L850.9,782.7L853.2,786.7L857.5,786.9L861.7,790.5L863.0,793.9L866.5,793.8L867.8,798.0L870.4,798.8L871.3,802.8L871.5,809.8L876.3,815.8L875.6,822.9L874.3,824.4L870.7,835.4L864.6,850.1L859.2,851.3L849.7,848.4L842.4,844.8L825.1,838.6L823.7,836.7L811.9,834.4L806.8,829.4L804.9,828.9L798.5,832.3L788.1,835.6L789.3,846.2L787.5,849.9L785.9,860.3L782.7,866.5L778.8,872.5L770.1,881.1L766.3,888.2L769.0,890.3L771.1,894.1L768.8,901.4L763.1,913.2L774.6,917.5L785.6,918.2L789.5,929.8L795.1,938.9L798.4,937.7L811.0,933.0L820.7,935.8L832.6,937.3L834.9,939.5L839.8,933.8L850.9,930.7L854.2,931.0L858.8,921.7L867.5,918.2L863.8,907.2L868.7,900.9L879.9,892.7L884.8,888.3L895.0,886.3L908.7,875.7L906.9,870.1L908.4,864.8L914.9,861.7L921.9,862.1L926.1,864.1L930.9,865.5L936.5,869.0L943.7,867.9L947.6,864.2L950.5,862.5L955.9,861.4L963.4,855.6L967.7,854.4L976.2,860.1L980.2,867.2L981.6,875.8L987.2,883.4L994.1,887.9L998.3,892.9L1002.1,897.1L1006.5,900.3L1012.2,900.9L1018.9,906.1L1019.7,909.5L1024.3,908.3L1026.7,914.8L1033.6,916.9L1035.3,924.5L1038.8,945.3L1049.4,931.1L1042.7,921.6L1046.7,911.8L1058.6,918.3L1063.7,915.3L1057.6,907.9L1046.1,901.7L1036.2,895.2L1038.8,891.3L1029.8,891.1L1026.7,890.0L1018.8,883.5L1012.1,867.6L1002.9,861.2L1000.2,856.4L1003.1,849.2L1000.8,845.5L1001.4,842.7L1008.7,839.9L1013.0,838.2L1015.0,840.0L1013.1,841.6L1013.3,845.9L1015.6,850.7L1016.3,852.0L1021.3,844.5L1025.7,849.3L1028.9,861.0L1035.6,866.2L1041.0,869.3L1051.0,875.2L1057.9,880.4L1062.7,883.6L1068.5,887.4L1071.7,890.6L1072.7,897.9L1073.8,909.6L1071.9,910.6L1079.8,917.5L1092.3,938.4L1109.1,940.9L1112.5,922.3L1106.4,906.3L1109.4,904.6L1114.1,908.9L1117.8,912.6L1120.2,906.7L1125.8,908.8L1118.0,901.5L1124.4,898.1L1131.6,896.8L1139.7,897.1L1141.8,898.5L1149.9,898.8L1144.9,907.3L1149.0,901.8L1153.0,898.3L1156.2,892.5L1163.6,889.7L1170.9,889.2L1171.4,886.3L1167.2,885.1L1160.6,882.4L1159.5,879.1L1154.7,872.8L1152.4,871.8L1155.9,868.4L1155.1,861.5L1159.8,858.3L1159.9,852.3L1159.4,847.2L1166.4,835.6L1167.1,832.0L1165.9,828.8L1171.3,817.9L1172.4,812.3L1179.3,809.0L1179.8,813.1L1193.2,812.5L1200.5,810.5L1195.3,816.8L1192.1,823.3L1200.5,823.2L1204.0,830.7L1207.0,832.8L1210.7,830.3L1212.2,827.4L1216.8,823.5L1220.0,820.0L1229.4,816.1L1229.5,811.8L1218.1,816.8L1210.2,806.8L1225.7,793.8L1231.0,787.7L1242.1,781.8L1246.0,781.8L1238.8,790.1L1240.7,798.8L1237.2,810.7L1231.3,814.1L1238.0,816.2L1243.4,816.9L1257.8,820.8L1266.3,825.3L1281.0,828.2L1291.4,836.6L1293.8,843.0L1292.9,847.1L1286.1,855.2L1278.6,858.5L1266.1,864.2L1260.8,864.9L1254.3,865.2L1244.0,866.0L1239.0,861.4L1229.5,860.0L1215.9,864.6L1203.4,871.2L1198.4,876.7L1194.9,879.7L1177.0,885.4L1172.4,885.9L1172.5,888.9L1181.3,890.6L1175.2,893.3L1174.6,896.5L1172.1,897.9L1162.6,900.0L1149.4,902.4L1146.7,905.6L1146.1,914.9L1158.1,934.0L1263.9,981.8L1481.6,881.5L1564.9,577.4L1293.0,376.6L1141.4,460.4L1163.7,529.2L1162.4,545.8L1167.4,551.2L1172.0,558.2L1170.3,560.3L1164.6,560.2L1155.4,558.4L1147.7,558.8L1154.7,567.2L1160.7,566.6L1161.0,573.0L1151.3,574.0L1141.5,570.0L1139.2,564.2L1132.8,548.4L1123.1,544.0L1125.3,532.0L1091.5,475.9L1048.5,482.2Z M850.5,754.1L854.3,756.7L864.9,754.3L868.1,757.0L871.5,752.6L879.1,755.8L888.8,757.3L893.4,756.3L902.2,758.2L908.6,757.2L912.4,754.9L913.8,751.8L907.9,749.6L910.3,746.0L914.1,744.0L919.2,737.5L917.5,731.3L910.5,729.3L907.6,731.0L909.6,727.4L909.3,721.1L906.3,718.4L909.0,713.5L906.3,707.4L902.3,704.4L901.9,699.5L902.3,691.3L900.0,688.0L897.0,684.5L891.2,682.9L897.2,680.7L896.3,678.1L903.5,670.9L906.9,666.2L906.1,663.3L897.2,660.7L890.2,661.8L893.5,657.9L900.9,652.3L902.1,649.1L899.6,649.1L888.9,645.8L884.9,651.9L879.5,657.3L879.5,662.2L876.4,667.5L873.2,667.9L877.1,672.6L873.5,679.3L870.4,686.7L874.9,682.5L879.3,681.0L878.5,686.3L874.4,692.1L873.8,696.8L878.5,697.5L885.1,696.6L886.6,697.0L883.7,701.7L885.3,707.7L887.6,708.3L885.3,712.6L884.4,717.2L882.0,717.2L876.4,716.4L872.1,713.8L872.5,718.1L868.7,721.2L874.1,721.3L873.1,726.6L870.0,729.9L866.5,730.3L861.0,731.5L861.6,735.2L868.0,737.0L870.0,739.0L876.1,742.1L880.7,741.2L877.1,745.1L870.5,743.6L867.1,743.1L863.2,746.1L858.0,750.2L852.7,752.8Z M823.5,725.3L836.9,725.1L848.6,724.1L853.8,725.5L856.7,720.3L859.4,715.6L860.4,711.0L861.9,703.7L868.0,700.0L869.9,697.8L867.1,694.8L869.2,693.3L867.8,688.7L865.1,685.8L860.0,682.0L856.2,683.5L851.7,682.7L845.8,687.7L850.0,689.9L846.4,692.9L841.3,691.1L835.2,689.5L833.0,693.0L832.9,698.0L829.9,699.0L833.7,702.6L837.8,705.5L833.6,707.5L827.7,710.9L835.0,713.0L827.8,713.9L822.2,714.7L825.8,716.8L821.5,718.8L821.9,722.5Z M867.4,546.6L858.8,551.7L849.6,551.9L839.0,552.0L828.8,552.0L822.5,547.1L820.1,540.3L812.1,536.3L819.1,532.6L813.4,519.6L826.7,519.7L815.3,511.2L827.5,507.5L829.8,520.0L837.0,521.0L846.0,519.6L862.2,521.7L868.5,527.7L864.5,537.8Z M887.7,596.4L891.8,594.2L894.1,597.1L889.4,605.5L888.9,601.0Z M916.8,631.4L920.2,626.0L923.5,624.7L920.4,630.8L917.8,636.2Z M901.3,644.0L904.7,640.8L908.0,641.6L904.7,646.3L901.6,646.9Z M872.3,649.3L880.4,644.9L879.2,648.7L875.1,652.3L871.9,652.7Z M867.9,653.5L870.8,653.8L867.5,660.5L866.1,660.0Z M872.9,656.6L876.5,654.9L877.4,661.5L876.0,663.9L873.1,660.9Z M871.8,669.6L875.4,670.7L875.3,673.5L870.8,672.8Z M867.4,678.7L870.7,678.4L870.4,681.8L868.0,681.7Z M873.2,704.3L877.3,701.3L877.4,704.1L873.8,705.2Z M987.3,705.4L991.2,704.8L994.7,709.3L993.7,712.3L989.2,711.9L987.8,709.5Z M997.3,704.1L999.3,700.6L1004.3,698.7L1006.5,698.8L1008.7,700.2L1008.6,704.6L1005.4,707.8L1007.2,710.2L1004.4,713.8L1007.5,714.6L1002.9,713.7L997.2,709.0Z M995.9,715.4L1002.9,714.4L1004.7,716.5L1003.0,719.5L998.4,718.2L995.8,716.7Z M1024.4,711.6L1027.8,712.3L1027.5,714.3L1024.8,713.6Z M1037.1,698.1L1038.2,697.4L1041.9,682.6L1040.8,683.3Z M1049.7,688.0L1054.1,680.7L1057.3,673.8L1053.0,674.7L1050.4,678.2L1049.2,683.6Z M1074.5,667.7L1076.4,671.8L1079.6,668.5L1084.8,664.6L1082.4,662.2L1075.7,664.9Z M1075.5,659.5L1079.0,656.7L1082.5,659.4L1078.9,661.9Z M1057.4,643.5L1059.9,640.7L1062.7,643.1L1060.3,646.0Z M961.4,881.5L963.7,879.3L969.4,878.0L970.7,874.0L970.9,878.2L971.2,886.4L969.1,893.2L966.3,896.0L963.0,892.7L961.3,888.4Z M957.2,899.0L966.7,897.8L970.4,903.0L972.1,908.6L968.6,926.4L955.5,928.1L957.3,914.3L955.0,905.7L956.0,901.0Z M1126.3,900.4L1128.3,900.1L1128.6,902.1L1126.5,902.4Z"/></clipPath>
<rect x="726.4" y="550.2" width="600.5" height="357.3" fill="#f0f0f0"/>
<g clip-path="url(#edbox)">
<g clip-path="url(#edland)" shape-rendering="crispEdges"><path fill="#543005" d="M1111.4 729.9h10v20h-10zM1106.4 734.9h5v10h-5zM1121.4 734.9h5v10h-5zM1051.4 749.9h30v15h-30zM1046.4 754.9h5v15h-5zM1081.4 754.9h5v5h-5zM1051.4 764.9h10v5h-10zM1031.4 769.9h15v10h-15zM1026.4 774.9h5v5h-5zM1031.4 779.9h10v5h-10zM796.4 874.9h5v10h-5z"/><path fill="#7c4709" d="M1071.4 614.9h5v10h-5zM1111.4 649.9h5v80h-5zM1086.4 654.9h25v80h-25zM1116.4 654.9h5v75h-5zM1081.4 659.9h5v5h-5zM1121.4 659.9h5v75h-5zM1126.4 664.9h5v50h-5zM1131.4 669.9h5v40h-5zM1136.4 679.9h5v25h-5zM1081.4 724.9h5v30h-5zM1126.4 724.9h5v45h-5zM1076.4 729.9h5v20h-5zM1131.4 729.9h5v40h-5zM1036.4 734.9h5v35h-5zM1066.4 734.9h10v15h-10zM1086.4 734.9h20v35h-20zM1136.4 734.9h5v30h-5zM1026.4 739.9h10v30h-10zM1041.4 739.9h25v10h-25zM1106.4 744.9h5v25h-5zM1121.4 744.9h5v25h-5zM1041.4 749.9h10v5h-10zM1111.4 749.9h10v20h-10zM1041.4 754.9h5v15h-5zM1141.4 754.9h5v5h-5zM1081.4 759.9h5v15h-5zM1021.4 764.9h5v35h-5zM1061.4 764.9h20v10h-20zM996.4 769.9h25v15h-25zM1026.4 769.9h5v5h-5zM1046.4 769.9h15v15h-15zM1086.4 769.9h5v5h-5zM1061.4 774.9h10v5h-10zM1026.4 779.9h5v20h-5zM1041.4 779.9h5v10h-5zM1001.4 784.9h20v5h-20zM1031.4 784.9h10v10h-10zM1046.4 784.9h5v5h-5zM1006.4 789.9h15v5h-15zM1011.4 794.9h10v10h-10zM816.4 854.9h25v5h-25zM811.4 859.9h25v5h-25zM806.4 864.9h20v5h-20zM796.4 869.9h25v5h-25zM791.4 874.9h5v15h-5zM801.4 874.9h20v5h-20zM801.4 879.9h15v5h-15zM796.4 884.9h10v5h-10z"/><path fill="#a16518" d="M1071.4 599.9h10v15h-10zM1066.4 604.9h5v30h-5zM1076.4 614.9h5v115h-5zM1081.4 619.9h5v40h-5zM1071.4 624.9h5v85h-5zM1086.4 639.9h5v15h-5zM1101.4 639.9h30v10h-30zM1091.4 644.9h10v10h-10zM1131.4 644.9h5v25h-5zM1101.4 649.9h10v5h-10zM1116.4 649.9h15v5h-15zM1121.4 654.9h10v5h-10zM1126.4 659.9h5v5h-5zM1136.4 659.9h5v20h-5zM1066.4 664.9h5v25h-5zM1081.4 664.9h5v60h-5zM1191.4 674.9h10v10h-10zM1141.4 679.9h5v75h-5zM1146.4 694.9h5v20h-5zM1136.4 704.9h5v30h-5zM1131.4 709.9h5v20h-5zM1126.4 714.9h5v10h-5zM1071.4 724.9h5v10h-5zM1036.4 729.9h5v5h-5zM1066.4 729.9h5v5h-5zM1016.4 734.9h20v5h-20zM1041.4 734.9h25v5h-25zM1006.4 739.9h20v25h-20zM1001.4 744.9h5v25h-5zM1146.4 744.9h5v35h-5zM996.4 749.9h5v20h-5zM1151.4 754.9h10v10h-10zM991.4 759.9h5v30h-5zM1141.4 759.9h5v20h-5zM1006.4 764.9h15v5h-15zM1136.4 764.9h5v20h-5zM1151.4 764.9h5v10h-5zM986.4 769.9h5v15h-5zM1091.4 769.9h45v15h-45zM1071.4 774.9h20v10h-20zM1061.4 779.9h10v10h-10zM996.4 784.9h5v10h-5zM1051.4 784.9h10v10h-10zM1091.4 784.9h40v5h-40zM1001.4 789.9h5v15h-5zM1041.4 789.9h10v10h-10zM1101.4 789.9h25v5h-25zM1006.4 794.9h5v20h-5zM1031.4 794.9h10v10h-10zM1106.4 794.9h15v5h-15zM1021.4 799.9h10v10h-10zM1111.4 799.9h10v5h-10zM1011.4 804.9h10v15h-10zM1021.4 809.9h5v5h-5zM1011.4 819.9h5v5h-5zM826.4 844.9h15v10h-15zM811.4 849.9h15v5h-15zM841.4 849.9h10v15h-10zM806.4 854.9h10v5h-10zM851.4 854.9h5v10h-5zM796.4 859.9h15v5h-15zM836.4 859.9h5v10h-5zM791.4 864.9h15v5h-15zM826.4 864.9h10v5h-10zM786.4 869.9h10v5h-10zM821.4 869.9h10v5h-10zM786.4 874.9h5v15h-5zM821.4 874.9h5v5h-5zM816.4 879.9h5v5h-5zM806.4 884.9h10v5h-10zM791.4 889.9h15v5h-15zM791.4 894.9h10v5h-10z"/><path fill="#c38936" d="M1066.4 594.9h15v5h-15zM1061.4 599.9h10v5h-10zM1061.4 604.9h5v95h-5zM1081.4 604.9h5v15h-5zM1056.4 614.9h5v10h-5zM1086.4 619.9h5v20h-5zM1091.4 629.9h5v15h-5zM1066.4 634.9h5v30h-5zM1096.4 634.9h40v5h-40zM1096.4 639.9h5v5h-5zM1131.4 639.9h10v5h-10zM1136.4 644.9h5v15h-5zM1141.4 659.9h5v20h-5zM1056.4 664.9h5v30h-5zM1191.4 664.9h10v10h-10zM1051.4 669.9h5v15h-5zM1186.4 669.9h5v35h-5zM1201.4 669.9h5v35h-5zM1181.4 674.9h5v20h-5zM1206.4 674.9h5v20h-5zM1146.4 679.9h5v15h-5zM1191.4 684.9h10v25h-10zM1066.4 689.9h5v20h-5zM1151.4 689.9h5v45h-5zM1156.4 694.9h5v35h-5zM1161.4 699.9h5v25h-5zM1071.4 709.9h5v15h-5zM1146.4 714.9h5v30h-5zM1031.4 724.9h10v5h-10zM1066.4 724.9h5v5h-5zM1021.4 729.9h15v5h-15zM1041.4 729.9h25v5h-25zM996.4 734.9h20v5h-20zM991.4 739.9h15v5h-15zM1151.4 739.9h5v15h-5zM991.4 744.9h10v5h-10zM1156.4 744.9h15v10h-15zM991.4 749.9h5v10h-5zM1171.4 749.9h10v15h-10zM986.4 754.9h5v15h-5zM1161.4 754.9h10v15h-10zM1181.4 754.9h5v5h-5zM1156.4 764.9h5v15h-5zM981.4 769.9h5v20h-5zM1161.4 769.9h5v5h-5zM1151.4 774.9h5v10h-5zM1141.4 779.9h10v5h-10zM986.4 784.9h5v10h-5zM1071.4 784.9h20v10h-20zM1131.4 784.9h15v5h-15zM991.4 789.9h5v15h-5zM1061.4 789.9h10v10h-10zM1091.4 789.9h10v15h-10zM1126.4 789.9h15v5h-15zM996.4 794.9h5v20h-5zM1051.4 794.9h10v10h-10zM1081.4 794.9h10v5h-10zM1101.4 794.9h5v15h-5zM1121.4 794.9h10v10h-10zM1041.4 799.9h10v5h-10zM1106.4 799.9h5v10h-5zM1001.4 804.9h5v20h-5zM1031.4 804.9h15v5h-15zM1111.4 804.9h15v5h-15zM1026.4 809.9h5v5h-5zM1111.4 809.9h10v5h-10zM1006.4 814.9h5v15h-5zM1021.4 814.9h5v10h-5zM1016.4 819.9h5v10h-5zM831.4 824.9h10v20h-10zM1011.4 824.9h5v10h-5zM826.4 829.9h5v15h-5zM841.4 834.9h5v15h-5zM821.4 839.9h5v10h-5zM846.4 839.9h5v10h-5zM806.4 844.9h15v5h-15zM851.4 844.9h5v10h-5zM801.4 849.9h10v5h-10zM856.4 849.9h5v15h-5zM781.4 854.9h25v5h-25zM861.4 854.9h5v10h-5zM991.4 854.9h10v5h-10zM781.4 859.9h15v5h-15zM781.4 864.9h10v5h-10zM841.4 864.9h15v5h-15zM781.4 869.9h5v15h-5zM831.4 869.9h15v5h-15zM826.4 874.9h10v5h-10zM911.4 874.9h5v20h-5zM821.4 879.9h10v5h-10zM906.4 879.9h5v5h-5zM916.4 879.9h5v5h-5zM816.4 884.9h5v5h-5zM786.4 889.9h5v10h-5zM806.4 889.9h10v5h-10zM801.4 894.9h10v5h-10zM791.4 899.9h15v5h-15zM791.4 904.9h10v10h-10z"/><path fill="#dbb972" d="M1056.4 589.9h25v5h-25zM1051.4 594.9h15v5h-15zM1081.4 594.9h5v10h-5zM1211.4 594.9h10v35h-10zM1051.4 599.9h10v15h-10zM1156.4 599.9h5v5h-5zM1206.4 599.9h5v35h-5zM1201.4 604.9h5v65h-5zM1086.4 609.9h5v10h-5zM1191.4 609.9h10v55h-10zM1051.4 614.9h5v55h-5zM1186.4 614.9h5v10h-5zM1221.4 614.9h5v10h-5zM1091.4 619.9h5v10h-5zM1056.4 624.9h5v40h-5zM1096.4 624.9h20v10h-20zM1116.4 629.9h25v5h-25zM1136.4 634.9h10v5h-10zM1141.4 639.9h5v20h-5zM1291.4 639.9h15v5h-15zM1291.4 644.9h10v20h-10zM1256.4 649.9h5v15h-5zM1046.4 654.9h5v40h-5zM1186.4 654.9h5v15h-5zM1251.4 654.9h5v10h-5zM1261.4 654.9h5v5h-5zM1286.4 654.9h5v5h-5zM1146.4 659.9h5v20h-5zM1181.4 659.9h5v15h-5zM1206.4 659.9h5v15h-5zM1176.4 664.9h5v85h-5zM1211.4 664.9h5v65h-5zM1041.4 669.9h5v10h-5zM1171.4 669.9h5v80h-5zM1166.4 674.9h5v70h-5zM1216.4 674.9h5v50h-5zM1151.4 679.9h5v10h-5zM1161.4 679.9h5v20h-5zM1051.4 684.9h5v15h-5zM1156.4 684.9h5v10h-5zM1056.4 694.9h5v10h-5zM1181.4 694.9h5v60h-5zM1206.4 694.9h5v40h-5zM1061.4 699.9h5v10h-5zM1186.4 704.9h5v60h-5zM1201.4 704.9h5v40h-5zM1066.4 709.9h5v15h-5zM1191.4 709.9h10v50h-10zM1031.4 719.9h10v5h-10zM996.4 724.9h5v10h-5zM1021.4 724.9h10v5h-10zM1041.4 724.9h5v5h-5zM1061.4 724.9h5v5h-5zM1161.4 724.9h5v20h-5zM991.4 729.9h5v10h-5zM1001.4 729.9h20v5h-20zM1156.4 729.9h5v15h-5zM1151.4 734.9h5v5h-5zM986.4 739.9h5v15h-5zM981.4 749.9h5v20h-5zM976.4 759.9h5v35h-5zM1181.4 759.9h5v10h-5zM1191.4 759.9h5v5h-5zM1171.4 764.9h10v10h-10zM1166.4 769.9h5v10h-5zM971.4 774.9h5v10h-5zM1161.4 774.9h5v10h-5zM1156.4 779.9h5v10h-5zM1146.4 784.9h10v5h-10zM981.4 789.9h5v15h-5zM1141.4 789.9h10v5h-10zM986.4 794.9h5v20h-5zM1071.4 794.9h10v10h-10zM1131.4 794.9h15v5h-15zM806.4 799.9h15v45h-15zM1061.4 799.9h10v10h-10zM1081.4 799.9h10v10h-10zM1131.4 799.9h10v5h-10zM821.4 804.9h15v20h-15zM991.4 804.9h5v50h-5zM1046.4 804.9h15v10h-15zM1091.4 804.9h10v10h-10zM1126.4 804.9h10v10h-10zM801.4 809.9h5v20h-5zM836.4 809.9h10v15h-10zM1031.4 809.9h15v5h-15zM1101.4 809.9h10v10h-10zM1121.4 809.9h5v10h-5zM846.4 814.9h5v25h-5zM996.4 814.9h5v40h-5zM1026.4 814.9h10v5h-10zM1111.4 814.9h10v10h-10zM1126.4 814.9h5v5h-5zM1026.4 819.9h5v5h-5zM821.4 824.9h10v5h-10zM841.4 824.9h5v10h-5zM851.4 824.9h5v20h-5zM1001.4 824.9h5v35h-5zM1021.4 824.9h5v5h-5zM821.4 829.9h5v10h-5zM1006.4 829.9h5v20h-5zM1016.4 829.9h5v10h-5zM766.4 834.9h15v35h-15zM856.4 834.9h5v15h-5zM986.4 834.9h5v30h-5zM1011.4 834.9h5v10h-5zM761.4 839.9h5v20h-5zM781.4 839.9h5v15h-5zM801.4 839.9h5v10h-5zM981.4 839.9h5v25h-5zM786.4 844.9h15v10h-15zM861.4 844.9h5v10h-5zM976.4 844.9h5v20h-5zM866.4 849.9h5v20h-5zM971.4 854.9h5v10h-5zM991.4 859.9h10v5h-10zM856.4 864.9h10v5h-10zM776.4 869.9h5v10h-5zM846.4 869.9h10v5h-10zM906.4 869.9h15v5h-15zM836.4 874.9h10v5h-10zM896.4 874.9h15v5h-15zM916.4 874.9h10v5h-10zM831.4 879.9h5v5h-5zM886.4 879.9h20v50h-20zM921.4 879.9h5v25h-5zM781.4 884.9h5v45h-5zM821.4 884.9h10v5h-10zM881.4 884.9h5v30h-5zM906.4 884.9h5v45h-5zM916.4 884.9h5v45h-5zM816.4 889.9h5v5h-5zM876.4 889.9h5v20h-5zM811.4 894.9h5v5h-5zM911.4 894.9h5v35h-5zM1156.4 894.9h25v15h-25zM786.4 899.9h5v30h-5zM806.4 899.9h5v20h-5zM1151.4 899.9h5v30h-5zM801.4 904.9h5v25h-5zM1156.4 909.9h20v20h-20zM791.4 914.9h10v15h-10z"/><path fill="#ecd8a5" d="M1046.4 579.9h20v10h-20zM1041.4 584.9h5v85h-5zM1066.4 584.9h10v5h-10zM1211.4 584.9h5v10h-5zM1046.4 589.9h10v5h-10zM1081.4 589.9h5v5h-5zM1201.4 589.9h10v10h-10zM1216.4 589.9h5v5h-5zM1046.4 594.9h5v60h-5zM1151.4 594.9h15v5h-15zM1191.4 594.9h10v15h-10zM1221.4 594.9h5v20h-5zM1086.4 599.9h5v10h-5zM1146.4 599.9h10v35h-10zM1161.4 599.9h10v30h-10zM1186.4 599.9h5v15h-5zM1201.4 599.9h5v5h-5zM1226.4 599.9h5v35h-5zM1156.4 604.9h5v25h-5zM1171.4 604.9h5v25h-5zM1181.4 604.9h5v55h-5zM1231.4 604.9h5v25h-5zM1091.4 609.9h5v10h-5zM1176.4 609.9h5v25h-5zM1096.4 614.9h5v10h-5zM1236.4 614.9h5v15h-5zM1101.4 619.9h15v5h-15zM1141.4 619.9h5v15h-5zM1241.4 619.9h5v10h-5zM1311.4 619.9h15v30h-15zM1116.4 624.9h25v5h-25zM1186.4 624.9h5v30h-5zM1221.4 624.9h5v110h-5zM1326.4 624.9h5v25h-5zM1211.4 629.9h10v35h-10zM1246.4 629.9h10v25h-10zM1296.4 629.9h15v10h-15zM1331.4 629.9h5v15h-5zM1146.4 634.9h5v25h-5zM1206.4 634.9h5v25h-5zM1256.4 634.9h5v15h-5zM1286.4 634.9h10v5h-10zM1336.4 634.9h10v10h-10zM1261.4 639.9h5v15h-5zM1281.4 639.9h10v15h-10zM1306.4 639.9h5v25h-5zM1036.4 644.9h5v45h-5zM1176.4 644.9h5v20h-5zM1241.4 644.9h5v20h-5zM1266.4 644.9h5v30h-5zM1276.4 644.9h5v25h-5zM1301.4 644.9h5v25h-5zM1171.4 649.9h5v20h-5zM1271.4 649.9h5v20h-5zM1311.4 649.9h5v5h-5zM1031.4 654.9h5v30h-5zM1166.4 654.9h5v20h-5zM1246.4 654.9h5v15h-5zM1281.4 654.9h5v20h-5zM1026.4 659.9h5v25h-5zM1151.4 659.9h5v20h-5zM1261.4 659.9h5v15h-5zM1286.4 659.9h5v15h-5zM1021.4 664.9h5v20h-5zM1161.4 664.9h5v15h-5zM1216.4 664.9h5v10h-5zM1226.4 664.9h5v60h-5zM1251.4 664.9h10v10h-10zM1291.4 664.9h10v10h-10zM1016.4 669.9h5v20h-5zM1156.4 669.9h5v15h-5zM1011.4 674.9h5v10h-5zM1041.4 679.9h5v20h-5zM1046.4 694.9h5v10h-5zM1051.4 699.9h5v5h-5zM1056.4 704.9h5v5h-5zM1031.4 709.9h10v10h-10zM1061.4 709.9h5v15h-5zM991.4 714.9h10v10h-10zM986.4 719.9h5v20h-5zM1001.4 719.9h5v10h-5zM1026.4 719.9h5v5h-5zM1041.4 719.9h5v5h-5zM991.4 724.9h5v5h-5zM1006.4 724.9h15v5h-15zM1046.4 724.9h15v5h-15zM1216.4 724.9h5v20h-5zM1211.4 729.9h5v15h-5zM1206.4 734.9h5v20h-5zM981.4 739.9h5v10h-5zM1201.4 744.9h5v20h-5zM976.4 749.9h5v10h-5zM971.4 759.9h5v15h-5zM1196.4 759.9h5v10h-5zM966.4 764.9h5v30h-5zM1186.4 764.9h10v5h-10zM726.4 769.9h65v65h-65zM831.4 769.9h30v35h-30zM961.4 769.9h5v20h-5zM1181.4 769.9h10v5h-10zM791.4 774.9h40v25h-40zM861.4 774.9h40v30h-40zM956.4 774.9h5v10h-5zM1171.4 774.9h15v5h-15zM901.4 779.9h5v20h-5zM951.4 779.9h5v5h-5zM1166.4 779.9h15v5h-15zM971.4 784.9h5v20h-5zM1161.4 784.9h10v5h-10zM1151.4 789.9h15v5h-15zM976.4 794.9h5v20h-5zM1146.4 794.9h10v5h-10zM791.4 799.9h15v10h-15zM821.4 799.9h10v5h-10zM1141.4 799.9h10v15h-10zM836.4 804.9h60v5h-60zM981.4 804.9h5v35h-5zM1071.4 804.9h10v10h-10zM1136.4 804.9h5v20h-5zM791.4 809.9h10v35h-10zM846.4 809.9h25v5h-25zM1061.4 809.9h10v10h-10zM1081.4 809.9h10v10h-10zM851.4 814.9h15v10h-15zM986.4 814.9h5v20h-5zM1036.4 814.9h25v5h-25zM1091.4 814.9h10v10h-10zM1131.4 814.9h5v10h-5zM1141.4 814.9h5v5h-5zM1031.4 819.9h25v5h-25zM1101.4 819.9h10v15h-10zM1121.4 819.9h10v10h-10zM856.4 824.9h15v10h-15zM976.4 824.9h5v20h-5zM1026.4 824.9h5v5h-5zM1096.4 824.9h5v5h-5zM1111.4 824.9h10v10h-10zM801.4 829.9h5v10h-5zM1021.4 829.9h5v10h-5zM726.4 834.9h40v5h-40zM781.4 834.9h10v5h-10zM861.4 834.9h10v10h-10zM971.4 834.9h5v20h-5zM726.4 839.9h35v50h-35zM786.4 839.9h5v5h-5zM1016.4 839.9h5v10h-5zM866.4 844.9h10v5h-10zM966.4 844.9h5v30h-5zM1011.4 844.9h5v15h-5zM871.4 849.9h5v70h-5zM1006.4 849.9h5v15h-5zM876.4 854.9h5v35h-5zM761.4 859.9h5v30h-5zM911.4 859.9h10v10h-10zM961.4 859.9h5v5h-5zM1001.4 859.9h5v10h-5zM906.4 864.9h5v5h-5zM921.4 864.9h5v10h-5zM971.4 864.9h30v5h-30zM766.4 869.9h10v20h-10zM856.4 869.9h15v10h-15zM881.4 869.9h25v5h-25zM926.4 869.9h5v40h-5zM971.4 869.9h25v5h-25zM846.4 874.9h10v5h-10zM881.4 874.9h15v5h-15zM931.4 874.9h5v25h-5zM971.4 874.9h5v5h-5zM776.4 879.9h5v50h-5zM836.4 879.9h10v5h-10zM866.4 879.9h5v5h-5zM881.4 879.9h5v5h-5zM936.4 879.9h5v5h-5zM831.4 884.9h5v5h-5zM1171.4 884.9h10v10h-10zM821.4 889.9h10v5h-10zM1156.4 889.9h15v5h-15zM1181.4 889.9h5v40h-5zM816.4 894.9h5v35h-5zM1151.4 894.9h5v5h-5zM1186.4 894.9h5v35h-5zM811.4 899.9h5v30h-5zM1146.4 899.9h5v30h-5zM921.4 904.9h5v25h-5zM766.4 909.9h10v20h-10zM876.4 909.9h5v20h-5zM1176.4 909.9h5v20h-5zM881.4 914.9h5v15h-5zM806.4 919.9h5v10h-5z"/><path fill="#f6ecd1" d="M966.4 549.9h75v10h-75zM1306.4 549.9h20v10h-20zM971.4 559.9h70v5h-70zM976.4 564.9h65v5h-65zM826.4 569.9h55v50h-55zM981.4 569.9h75v5h-75zM881.4 574.9h5v75h-5zM986.4 574.9h80v5h-80zM886.4 579.9h5v65h-5zM991.4 579.9h55v5h-55zM1066.4 579.9h10v5h-10zM1201.4 579.9h25v5h-25zM891.4 584.9h5v60h-5zM1011.4 584.9h30v5h-30zM1076.4 584.9h10v5h-10zM1191.4 584.9h20v5h-20zM1216.4 584.9h15v5h-15zM806.4 589.9h20v15h-20zM896.4 589.9h5v55h-5zM1021.4 589.9h20v5h-20zM1086.4 589.9h5v10h-5zM1151.4 589.9h15v5h-15zM1186.4 589.9h15v5h-15zM1221.4 589.9h15v5h-15zM901.4 594.9h5v50h-5zM1026.4 594.9h15v30h-15zM1146.4 594.9h5v5h-5zM1166.4 594.9h25v5h-25zM1226.4 594.9h15v5h-15zM1091.4 599.9h5v10h-5zM1141.4 599.9h5v20h-5zM1171.4 599.9h15v5h-15zM1231.4 599.9h10v5h-10zM816.4 604.9h10v5h-10zM906.4 604.9h5v35h-5zM1096.4 604.9h5v10h-5zM1176.4 604.9h5v5h-5zM1236.4 604.9h10v10h-10zM911.4 609.9h5v25h-5zM1101.4 609.9h5v10h-5zM1136.4 609.9h5v15h-5zM1246.4 609.9h5v20h-5zM916.4 614.9h5v15h-5zM1106.4 614.9h30v5h-30zM1241.4 614.9h5v5h-5zM1251.4 614.9h10v15h-10zM1311.4 614.9h35v5h-35zM831.4 619.9h50v5h-50zM1116.4 619.9h20v5h-20zM1261.4 619.9h10v20h-10zM1306.4 619.9h5v10h-5zM1326.4 619.9h20v5h-20zM841.4 624.9h40v5h-40zM1031.4 624.9h10v20h-10zM1271.4 624.9h5v25h-5zM1296.4 624.9h10v5h-10zM1331.4 624.9h15v5h-15zM846.4 629.9h35v5h-35zM1156.4 629.9h20v20h-20zM1231.4 629.9h15v15h-15zM1256.4 629.9h5v5h-5zM1276.4 629.9h20v5h-20zM1336.4 629.9h10v5h-10zM851.4 634.9h30v10h-30zM1151.4 634.9h5v25h-5zM1176.4 634.9h5v10h-5zM1226.4 634.9h5v30h-5zM1276.4 634.9h10v5h-10zM1266.4 639.9h5v5h-5zM1276.4 639.9h5v5h-5zM866.4 644.9h15v5h-15zM1026.4 644.9h10v10h-10zM1231.4 644.9h10v85h-10zM1331.4 644.9h15v35h-15zM871.4 649.9h10v10h-10zM1021.4 649.9h5v15h-5zM1156.4 649.9h15v5h-15zM1316.4 649.9h15v20h-15zM1016.4 654.9h5v15h-5zM1026.4 654.9h5v5h-5zM1156.4 654.9h10v10h-10zM1311.4 654.9h5v20h-5zM1011.4 659.9h5v15h-5zM1156.4 664.9h5v5h-5zM1241.4 664.9h5v60h-5zM1306.4 664.9h5v15h-5zM1006.4 669.9h5v55h-5zM1246.4 669.9h5v25h-5zM1271.4 669.9h10v20h-10zM1301.4 669.9h5v15h-5zM1326.4 669.9h5v5h-5zM1001.4 674.9h5v45h-5zM1251.4 674.9h20v15h-20zM1281.4 674.9h20v10h-20zM996.4 684.9h5v30h-5zM1011.4 684.9h5v30h-5zM1021.4 684.9h15v25h-15zM991.4 689.9h5v25h-5zM1016.4 689.9h5v25h-5zM1036.4 689.9h5v20h-5zM1311.4 689.9h10v10h-10zM1321.4 694.9h5v5h-5zM1041.4 699.9h5v20h-5zM1316.4 699.9h5v5h-5zM986.4 704.9h5v15h-5zM1046.4 704.9h10v10h-10zM981.4 709.9h5v30h-5zM1021.4 709.9h10v10h-10zM1056.4 709.9h5v5h-5zM831.4 714.9h5v55h-5zM976.4 714.9h5v35h-5zM1046.4 714.9h5v10h-5zM826.4 719.9h5v55h-5zM836.4 719.9h5v50h-5zM971.4 719.9h5v5h-5zM1011.4 719.9h15v5h-15zM1056.4 719.9h5v5h-5zM821.4 724.9h5v50h-5zM1226.4 724.9h5v20h-5zM806.4 729.9h15v45h-15zM841.4 729.9h5v40h-5zM1231.4 729.9h5v5h-5zM766.4 734.9h40v35h-40zM846.4 734.9h15v35h-15zM1221.4 734.9h5v15h-5zM1211.4 744.9h10v10h-10zM971.4 749.9h5v10h-5zM966.4 754.9h5v10h-5zM1206.4 754.9h10v5h-10zM1206.4 759.9h5v5h-5zM861.4 764.9h10v10h-10zM961.4 764.9h5v5h-5zM1201.4 764.9h5v5h-5zM791.4 769.9h15v5h-15zM871.4 769.9h45v5h-45zM951.4 769.9h10v5h-10zM1191.4 769.9h10v5h-10zM901.4 774.9h20v5h-20zM946.4 774.9h10v5h-10zM1186.4 774.9h10v5h-10zM906.4 779.9h20v25h-20zM941.4 779.9h10v5h-10zM1181.4 779.9h10v5h-10zM946.4 784.9h15v5h-15zM1171.4 784.9h15v5h-15zM951.4 789.9h15v5h-15zM1166.4 789.9h15v5h-15zM961.4 794.9h10v20h-10zM1156.4 794.9h15v5h-15zM901.4 799.9h5v20h-5zM1151.4 799.9h15v25h-15zM896.4 804.9h5v20h-5zM906.4 804.9h15v5h-15zM971.4 804.9h5v30h-5zM871.4 809.9h25v15h-25zM906.4 809.9h10v5h-10zM866.4 814.9h5v10h-5zM906.4 814.9h5v5h-5zM966.4 814.9h5v30h-5zM976.4 814.9h5v10h-5zM1071.4 814.9h10v15h-10zM1146.4 814.9h5v20h-5zM1056.4 819.9h15v10h-15zM1081.4 819.9h10v20h-10zM1141.4 819.9h5v15h-5zM871.4 824.9h20v5h-20zM961.4 824.9h5v35h-5zM1031.4 824.9h25v5h-25zM1091.4 824.9h5v25h-5zM1131.4 824.9h10v10h-10zM1151.4 824.9h10v5h-10zM871.4 829.9h15v5h-15zM1026.4 829.9h10v5h-10zM1076.4 829.9h5v5h-5zM1096.4 829.9h5v20h-5zM1121.4 829.9h10v10h-10zM871.4 834.9h10v10h-10zM1026.4 834.9h5v5h-5zM1101.4 834.9h20v15h-20zM1021.4 839.9h5v10h-5zM1086.4 839.9h5v5h-5zM1121.4 839.9h5v5h-5zM876.4 844.9h5v10h-5zM911.4 844.9h10v15h-10zM956.4 844.9h5v45h-5zM881.4 849.9h5v20h-5zM921.4 849.9h5v15h-5zM1016.4 849.9h5v10h-5zM906.4 854.9h5v10h-5zM926.4 854.9h5v15h-5zM951.4 854.9h5v35h-5zM901.4 859.9h5v10h-5zM946.4 859.9h5v40h-5zM1011.4 859.9h5v10h-5zM1191.4 859.9h10v70h-10zM886.4 864.9h15v5h-15zM931.4 864.9h15v10h-15zM961.4 864.9h5v25h-5zM1006.4 864.9h5v5h-5zM1186.4 864.9h5v30h-5zM996.4 869.9h10v5h-10zM1176.4 869.9h10v15h-10zM1201.4 869.9h5v15h-5zM936.4 874.9h10v5h-10zM966.4 874.9h5v15h-5zM976.4 874.9h20v5h-20zM1171.4 874.9h5v10h-5zM846.4 879.9h20v5h-20zM941.4 879.9h5v30h-5zM971.4 879.9h15v10h-15zM1166.4 879.9h5v10h-5zM836.4 884.9h10v5h-10zM861.4 884.9h10v5h-10zM936.4 884.9h5v25h-5zM1156.4 884.9h10v5h-10zM1181.4 884.9h5v5h-5zM726.4 889.9h50v20h-50zM831.4 889.9h5v5h-5zM866.4 889.9h5v40h-5zM971.4 889.9h5v5h-5zM1146.4 889.9h10v5h-10zM821.4 894.9h10v5h-10zM1141.4 894.9h10v5h-10zM821.4 899.9h5v30h-5zM931.4 899.9h5v20h-5zM1141.4 899.9h5v30h-5zM726.4 909.9h40v20h-40zM926.4 909.9h5v20h-5zM1136.4 914.9h5v15h-5zM871.4 919.9h5v10h-5z"/><path fill="#f4f5f5" d="M946.4 549.9h20v15h-20zM1041.4 549.9h5v20h-5zM1231.4 549.9h10v15h-10zM1291.4 549.9h15v10h-15zM1326.4 549.9h20v10h-20zM966.4 559.9h5v20h-5zM1296.4 559.9h40v5h-40zM886.4 564.9h10v15h-10zM951.4 564.9h15v5h-15zM971.4 564.9h5v20h-5zM1046.4 564.9h10v5h-10zM1231.4 564.9h5v5h-5zM881.4 569.9h5v5h-5zM896.4 569.9h5v20h-5zM961.4 569.9h5v5h-5zM976.4 569.9h5v20h-5zM1056.4 569.9h10v5h-10zM1211.4 569.9h20v10h-20zM901.4 574.9h5v20h-5zM981.4 574.9h5v15h-5zM1066.4 574.9h10v5h-10zM1196.4 574.9h15v5h-15zM891.4 579.9h5v5h-5zM906.4 579.9h5v25h-5zM986.4 579.9h5v15h-5zM1076.4 579.9h10v5h-10zM1186.4 579.9h15v5h-15zM1226.4 579.9h5v5h-5zM911.4 584.9h5v25h-5zM991.4 584.9h20v10h-20zM1086.4 584.9h5v5h-5zM1146.4 584.9h25v5h-25zM1181.4 584.9h10v5h-10zM1231.4 584.9h5v5h-5zM916.4 589.9h5v25h-5zM1011.4 589.9h10v35h-10zM1091.4 589.9h5v10h-5zM1141.4 589.9h10v5h-10zM1166.4 589.9h20v5h-20zM1236.4 589.9h5v5h-5zM921.4 594.9h5v65h-5zM1001.4 594.9h10v5h-10zM1021.4 594.9h5v55h-5zM1141.4 594.9h5v5h-5zM1241.4 594.9h5v10h-5zM1006.4 599.9h5v5h-5zM1096.4 599.9h10v5h-10zM1136.4 599.9h5v10h-5zM1246.4 599.9h5v10h-5zM806.4 604.9h10v5h-10zM926.4 604.9h5v60h-5zM1101.4 604.9h10v5h-10zM1126.4 604.9h10v10h-10zM1251.4 604.9h10v10h-10zM1316.4 604.9h30v10h-30zM811.4 609.9h15v5h-15zM1106.4 609.9h20v5h-20zM1261.4 609.9h5v10h-5zM1306.4 609.9h10v5h-10zM816.4 614.9h10v5h-10zM1266.4 614.9h15v5h-15zM1301.4 614.9h10v5h-10zM821.4 619.9h10v5h-10zM931.4 619.9h5v60h-5zM1271.4 619.9h35v5h-35zM826.4 624.9h15v5h-15zM1016.4 624.9h5v10h-5zM1026.4 624.9h5v20h-5zM1276.4 624.9h20v5h-20zM831.4 629.9h15v5h-15zM916.4 629.9h5v25h-5zM936.4 629.9h20v55h-20zM836.4 634.9h15v5h-15zM911.4 634.9h5v20h-5zM956.4 634.9h5v70h-5zM841.4 639.9h10v5h-10zM906.4 639.9h5v15h-5zM846.4 644.9h20v5h-20zM886.4 644.9h20v10h-20zM1016.4 644.9h5v10h-5zM851.4 649.9h20v5h-20zM881.4 649.9h5v15h-5zM1011.4 649.9h5v10h-5zM856.4 654.9h15v5h-15zM886.4 654.9h5v10h-5zM961.4 654.9h5v45h-5zM1006.4 654.9h5v15h-5zM861.4 659.9h20v5h-20zM871.4 664.9h10v5h-10zM966.4 664.9h5v30h-5zM1001.4 664.9h5v10h-5zM971.4 669.9h15v20h-15zM996.4 669.9h5v15h-5zM1316.4 669.9h10v20h-10zM986.4 674.9h10v15h-10zM1311.4 674.9h5v15h-5zM1326.4 674.9h5v35h-5zM1306.4 679.9h5v25h-5zM1331.4 679.9h15v30h-15zM951.4 684.9h5v10h-5zM1281.4 684.9h25v10h-25zM976.4 689.9h15v5h-15zM1251.4 689.9h30v15h-30zM1321.4 689.9h5v5h-5zM981.4 694.9h10v10h-10zM1246.4 694.9h5v40h-5zM1281.4 694.9h10v5h-10zM1301.4 694.9h5v5h-5zM1311.4 699.9h5v10h-5zM1321.4 699.9h5v10h-5zM966.4 704.9h20v5h-20zM1251.4 704.9h20v5h-20zM1316.4 704.9h5v5h-5zM766.4 709.9h75v5h-75zM966.4 709.9h15v5h-15zM1251.4 709.9h15v5h-15zM766.4 714.9h65v5h-65zM836.4 714.9h10v5h-10zM966.4 714.9h10v5h-10zM1011.4 714.9h10v5h-10zM1051.4 714.9h10v5h-10zM1251.4 714.9h10v10h-10zM766.4 719.9h60v5h-60zM841.4 719.9h10v10h-10zM966.4 719.9h5v5h-5zM1051.4 719.9h5v5h-5zM766.4 724.9h55v5h-55zM851.4 724.9h10v10h-10zM971.4 724.9h5v25h-5zM1241.4 724.9h5v15h-5zM1251.4 724.9h5v5h-5zM766.4 729.9h40v5h-40zM846.4 729.9h5v5h-5zM861.4 729.9h5v35h-5zM1236.4 729.9h5v15h-5zM866.4 734.9h5v30h-5zM1231.4 734.9h5v20h-5zM1226.4 744.9h5v15h-5zM966.4 749.9h5v5h-5zM1221.4 749.9h5v10h-5zM911.4 754.9h10v15h-10zM961.4 754.9h5v10h-5zM1216.4 754.9h5v10h-5zM871.4 759.9h5v10h-5zM901.4 759.9h10v10h-10zM956.4 759.9h5v10h-5zM1211.4 759.9h5v10h-5zM876.4 764.9h25v5h-25zM921.4 764.9h5v15h-5zM946.4 764.9h10v5h-10zM1206.4 764.9h5v10h-5zM916.4 769.9h5v5h-5zM926.4 769.9h5v45h-5zM941.4 769.9h10v5h-10zM1201.4 769.9h5v10h-5zM931.4 774.9h15v5h-15zM1196.4 774.9h5v10h-5zM931.4 779.9h10v30h-10zM1191.4 779.9h5v15h-5zM941.4 784.9h5v30h-5zM1186.4 784.9h5v15h-5zM946.4 789.9h5v35h-5zM1181.4 789.9h5v80h-5zM951.4 794.9h10v50h-10zM1171.4 794.9h10v75h-10zM1166.4 799.9h5v55h-5zM921.4 804.9h5v20h-5zM916.4 809.9h5v35h-5zM911.4 814.9h5v30h-5zM961.4 814.9h5v10h-5zM901.4 819.9h10v20h-10zM891.4 824.9h10v10h-10zM1161.4 824.9h5v25h-5zM886.4 829.9h5v35h-5zM1036.4 829.9h40v5h-40zM1151.4 829.9h10v20h-10zM881.4 834.9h5v15h-5zM1031.4 834.9h5v5h-5zM1066.4 834.9h15v5h-15zM1131.4 834.9h20v15h-20zM906.4 839.9h5v15h-5zM1026.4 839.9h5v10h-5zM1071.4 839.9h15v5h-15zM1126.4 839.9h5v15h-5zM901.4 844.9h5v15h-5zM921.4 844.9h5v5h-5zM946.4 844.9h10v10h-10zM1076.4 844.9h15v5h-15zM1121.4 844.9h5v15h-5zM1186.4 844.9h15v15h-15zM926.4 849.9h5v5h-5zM941.4 849.9h5v15h-5zM1021.4 849.9h5v10h-5zM1081.4 849.9h40v5h-40zM1201.4 849.9h15v20h-15zM931.4 854.9h10v10h-10zM946.4 854.9h5v5h-5zM1086.4 854.9h35v10h-35zM1216.4 854.9h5v30h-5zM891.4 859.9h10v5h-10zM1016.4 859.9h5v10h-5zM1186.4 859.9h5v5h-5zM1086.4 864.9h30v5h-30zM1166.4 864.9h5v15h-5zM1006.4 869.9h10v5h-10zM1086.4 869.9h25v5h-25zM1161.4 869.9h5v15h-5zM1171.4 869.9h5v5h-5zM1206.4 869.9h10v25h-10zM996.4 874.9h15v5h-15zM1086.4 874.9h20v5h-20zM986.4 879.9h20v5h-20zM1091.4 879.9h10v5h-10zM1156.4 879.9h5v5h-5zM846.4 884.9h15v5h-15zM986.4 884.9h15v25h-15zM1146.4 884.9h10v5h-10zM1201.4 884.9h5v45h-5zM836.4 889.9h15v5h-15zM856.4 889.9h10v5h-10zM951.4 889.9h20v40h-20zM976.4 889.9h10v40h-10zM1141.4 889.9h5v5h-5zM831.4 894.9h5v5h-5zM861.4 894.9h5v35h-5zM971.4 894.9h5v35h-5zM1136.4 894.9h5v20h-5zM1206.4 894.9h5v35h-5zM1271.4 894.9h5v15h-5zM826.4 899.9h5v30h-5zM946.4 899.9h5v30h-5zM1266.4 899.9h5v5h-5zM1276.4 899.9h5v10h-5zM831.4 904.9h5v25h-5zM1131.4 904.9h5v25h-5zM936.4 909.9h10v20h-10zM986.4 909.9h10v5h-10zM856.4 914.9h5v15h-5zM986.4 914.9h5v15h-5zM931.4 919.9h5v10h-5zM1126.4 919.9h5v10h-5z"/><path fill="#d4ede9" d="M886.4 549.9h60v15h-60zM1046.4 549.9h5v15h-5zM1221.4 549.9h10v20h-10zM1241.4 549.9h10v15h-10zM1281.4 549.9h10v15h-10zM1051.4 559.9h5v5h-5zM1216.4 559.9h5v10h-5zM1291.4 559.9h5v10h-5zM1336.4 559.9h10v15h-10zM896.4 564.9h55v5h-55zM1056.4 564.9h15v5h-15zM1211.4 564.9h5v5h-5zM1236.4 564.9h10v10h-10zM1296.4 564.9h40v5h-40zM901.4 569.9h60v5h-60zM1066.4 569.9h15v5h-15zM1151.4 569.9h5v15h-5zM1201.4 569.9h10v5h-10zM1231.4 569.9h5v15h-5zM1316.4 569.9h20v5h-20zM906.4 574.9h60v5h-60zM1076.4 574.9h15v5h-15zM1146.4 574.9h5v10h-5zM1156.4 574.9h5v10h-5zM1186.4 574.9h10v5h-10zM1236.4 574.9h5v15h-5zM911.4 579.9h60v5h-60zM1086.4 579.9h10v5h-10zM1141.4 579.9h5v10h-5zM1161.4 579.9h25v5h-25zM1241.4 579.9h5v15h-5zM916.4 584.9h60v5h-60zM1091.4 584.9h10v5h-10zM1136.4 584.9h5v15h-5zM1171.4 584.9h10v5h-10zM1246.4 584.9h5v15h-5zM921.4 589.9h65v5h-65zM1096.4 589.9h10v10h-10zM1251.4 589.9h5v15h-5zM1336.4 589.9h10v15h-10zM926.4 594.9h75v10h-75zM1106.4 594.9h5v10h-5zM1131.4 594.9h5v10h-5zM1256.4 594.9h5v10h-5zM1331.4 594.9h5v10h-5zM1001.4 599.9h5v25h-5zM1111.4 599.9h5v10h-5zM1121.4 599.9h10v5h-10zM1261.4 599.9h5v10h-5zM1316.4 599.9h15v5h-15zM931.4 604.9h70v5h-70zM1006.4 604.9h5v30h-5zM1116.4 604.9h10v5h-10zM1266.4 604.9h5v10h-5zM1306.4 604.9h10v5h-10zM801.4 609.9h10v10h-10zM931.4 609.9h60v5h-60zM996.4 609.9h5v5h-5zM1271.4 609.9h15v5h-15zM1296.4 609.9h10v5h-10zM811.4 614.9h5v15h-5zM931.4 614.9h55v5h-55zM1281.4 614.9h20v5h-20zM806.4 619.9h5v10h-5zM816.4 619.9h5v15h-5zM936.4 619.9h50v5h-50zM821.4 624.9h5v15h-5zM936.4 624.9h45v5h-45zM1011.4 624.9h5v25h-5zM826.4 629.9h5v20h-5zM956.4 629.9h20v5h-20zM831.4 634.9h5v15h-5zM961.4 634.9h10v20h-10zM1016.4 634.9h5v10h-5zM836.4 639.9h5v15h-5zM841.4 644.9h5v15h-5zM971.4 644.9h5v25h-5zM1006.4 644.9h5v10h-5zM846.4 649.9h5v15h-5zM976.4 649.9h5v20h-5zM1001.4 649.9h5v15h-5zM851.4 654.9h5v15h-5zM891.4 654.9h30v15h-30zM966.4 654.9h5v10h-5zM981.4 654.9h5v15h-5zM856.4 659.9h5v15h-5zM921.4 659.9h5v15h-5zM986.4 659.9h5v15h-5zM996.4 659.9h5v10h-5zM861.4 664.9h10v10h-10zM881.4 664.9h10v10h-10zM926.4 664.9h5v20h-5zM991.4 664.9h5v10h-5zM871.4 669.9h10v5h-10zM766.4 679.9h10v30h-10zM931.4 679.9h5v10h-5zM776.4 684.9h30v25h-30zM936.4 684.9h15v5h-15zM806.4 689.9h15v20h-15zM941.4 689.9h10v5h-10zM971.4 689.9h5v15h-5zM821.4 694.9h5v15h-5zM946.4 694.9h10v10h-10zM966.4 694.9h5v10h-5zM976.4 694.9h5v10h-5zM1291.4 694.9h10v10h-10zM826.4 699.9h5v10h-5zM961.4 699.9h5v25h-5zM1281.4 699.9h10v10h-10zM1301.4 699.9h5v10h-5zM831.4 704.9h15v5h-15zM951.4 704.9h10v10h-10zM1271.4 704.9h10v10h-10zM1306.4 704.9h5v10h-5zM841.4 709.9h10v5h-10zM1266.4 709.9h5v25h-5zM1311.4 709.9h35v5h-35zM846.4 714.9h15v5h-15zM956.4 714.9h5v5h-5zM1261.4 714.9h5v25h-5zM1321.4 714.9h25v5h-25zM851.4 719.9h20v5h-20zM1331.4 719.9h15v5h-15zM861.4 724.9h15v5h-15zM966.4 724.9h5v10h-5zM1256.4 724.9h5v20h-5zM866.4 729.9h10v5h-10zM1251.4 729.9h5v15h-5zM871.4 734.9h10v25h-10zM911.4 734.9h10v20h-10zM1246.4 734.9h5v15h-5zM881.4 739.9h5v25h-5zM901.4 739.9h10v20h-10zM921.4 739.9h5v25h-5zM1241.4 739.9h5v15h-5zM886.4 744.9h5v20h-5zM896.4 744.9h5v20h-5zM926.4 744.9h5v25h-5zM966.4 744.9h5v5h-5zM1236.4 744.9h5v15h-5zM891.4 749.9h5v15h-5zM961.4 749.9h5v5h-5zM956.4 754.9h5v5h-5zM1231.4 754.9h5v10h-5zM876.4 759.9h5v5h-5zM941.4 759.9h15v5h-15zM1221.4 759.9h10v5h-10zM931.4 764.9h15v5h-15zM1216.4 764.9h10v5h-10zM931.4 769.9h10v5h-10zM1211.4 769.9h10v5h-10zM1316.4 769.9h10v15h-10zM1206.4 774.9h10v5h-10zM1311.4 774.9h5v10h-5zM1326.4 774.9h10v5h-10zM1201.4 779.9h10v10h-10zM1326.4 779.9h5v5h-5zM1196.4 784.9h5v60h-5zM1316.4 784.9h5v5h-5zM1201.4 789.9h5v60h-5zM1191.4 794.9h5v50h-5zM1186.4 799.9h5v45h-5zM931.4 809.9h10v25h-10zM926.4 814.9h5v35h-5zM941.4 814.9h5v35h-5zM921.4 824.9h5v20h-5zM946.4 824.9h5v20h-5zM1206.4 824.9h5v25h-5zM1211.4 829.9h5v20h-5zM891.4 834.9h10v25h-10zM1036.4 834.9h30v5h-30zM1216.4 834.9h5v20h-5zM901.4 839.9h5v5h-5zM931.4 839.9h5v15h-5zM1031.4 839.9h10v5h-10zM1061.4 839.9h10v5h-10zM1221.4 839.9h5v90h-5zM936.4 844.9h5v10h-5zM1031.4 844.9h5v5h-5zM1066.4 844.9h10v10h-10zM1226.4 844.9h5v50h-5zM1026.4 849.9h5v10h-5zM1076.4 849.9h5v40h-5zM1131.4 849.9h35v20h-35zM1246.4 849.9h15v15h-15zM1071.4 854.9h5v35h-5zM1081.4 854.9h5v40h-5zM1126.4 854.9h5v25h-5zM1166.4 854.9h5v10h-5zM1231.4 854.9h5v15h-5zM1241.4 854.9h5v10h-5zM1261.4 854.9h5v5h-5zM1021.4 859.9h5v15h-5zM1121.4 859.9h5v70h-5zM1116.4 864.9h5v25h-5zM1016.4 869.9h5v15h-5zM1111.4 869.9h5v20h-5zM1131.4 869.9h5v5h-5zM1141.4 869.9h20v5h-20zM1011.4 874.9h5v20h-5zM1066.4 874.9h5v10h-5zM1106.4 874.9h5v20h-5zM1146.4 874.9h15v5h-15zM1006.4 879.9h5v50h-5zM1086.4 879.9h5v15h-5zM1101.4 879.9h5v15h-5zM1141.4 879.9h15v5h-15zM1001.4 884.9h5v45h-5zM1091.4 884.9h10v10h-10zM1126.4 884.9h20v5h-20zM1216.4 884.9h5v45h-5zM851.4 889.9h5v10h-5zM1126.4 889.9h15v5h-15zM1266.4 889.9h15v5h-15zM836.4 894.9h15v35h-15zM856.4 894.9h5v20h-5zM1126.4 894.9h10v10h-10zM1211.4 894.9h5v35h-5zM1251.4 894.9h20v5h-20zM1276.4 894.9h10v5h-10zM831.4 899.9h5v5h-5zM1246.4 899.9h20v30h-20zM1281.4 899.9h10v20h-10zM851.4 904.9h5v25h-5zM1126.4 904.9h5v15h-5zM1226.4 904.9h5v25h-5zM1266.4 904.9h5v25h-5zM996.4 909.9h5v20h-5zM1241.4 909.9h5v20h-5zM1271.4 909.9h10v20h-10zM991.4 914.9h5v15h-5zM1011.4 914.9h5v15h-5zM1231.4 914.9h10v15h-10zM1281.4 919.9h5v10h-5z"/><path fill="#a8ddd5" d="M1051.4 549.9h15v10h-15zM1146.4 549.9h10v20h-10zM1211.4 549.9h10v10h-10zM1251.4 549.9h30v20h-30zM1056.4 559.9h20v5h-20zM1156.4 559.9h5v15h-5zM1211.4 559.9h5v5h-5zM1071.4 564.9h20v5h-20zM1141.4 564.9h5v15h-5zM1201.4 564.9h10v5h-10zM1246.4 564.9h5v20h-5zM1281.4 564.9h10v10h-10zM1081.4 569.9h15v5h-15zM1136.4 569.9h5v15h-5zM1146.4 569.9h5v5h-5zM1161.4 569.9h5v10h-5zM1186.4 569.9h15v5h-15zM1251.4 569.9h5v5h-5zM1291.4 569.9h25v5h-25zM1091.4 574.9h10v5h-10zM1131.4 574.9h5v20h-5zM1166.4 574.9h20v5h-20zM1241.4 574.9h5v5h-5zM1316.4 574.9h30v5h-30zM1096.4 579.9h5v5h-5zM1321.4 579.9h25v10h-25zM1101.4 584.9h5v5h-5zM1126.4 584.9h5v15h-5zM1251.4 584.9h10v5h-10zM1316.4 584.9h5v15h-5zM1106.4 589.9h5v5h-5zM1121.4 589.9h5v10h-5zM1256.4 589.9h10v5h-10zM1311.4 589.9h5v15h-5zM1321.4 589.9h15v5h-15zM1111.4 594.9h10v5h-10zM1261.4 594.9h10v5h-10zM1306.4 594.9h5v10h-5zM1321.4 594.9h10v5h-10zM1116.4 599.9h5v5h-5zM1266.4 599.9h10v5h-10zM1301.4 599.9h5v10h-5zM1271.4 604.9h30v5h-30zM786.4 609.9h15v75h-15zM991.4 609.9h5v20h-5zM1286.4 609.9h10v5h-10zM986.4 614.9h5v20h-5zM996.4 614.9h5v20h-5zM801.4 619.9h5v65h-5zM981.4 624.9h5v30h-5zM1001.4 624.9h5v25h-5zM766.4 629.9h20v50h-20zM806.4 629.9h10v60h-10zM976.4 629.9h5v20h-5zM816.4 634.9h5v55h-5zM971.4 634.9h5v10h-5zM1006.4 634.9h5v10h-5zM821.4 639.9h5v55h-5zM986.4 644.9h5v15h-5zM996.4 644.9h5v15h-5zM826.4 649.9h10v50h-10zM991.4 649.9h5v15h-5zM836.4 654.9h5v50h-5zM841.4 659.9h5v45h-5zM846.4 664.9h5v30h-5zM851.4 669.9h5v20h-5zM891.4 669.9h30v10h-30zM856.4 674.9h35v10h-35zM921.4 674.9h5v15h-5zM776.4 679.9h10v5h-10zM891.4 679.9h5v5h-5zM856.4 684.9h5v5h-5zM926.4 684.9h5v10h-5zM931.4 689.9h10v5h-10zM936.4 694.9h10v5h-10zM831.4 699.9h5v5h-5zM846.4 699.9h5v10h-5zM941.4 699.9h5v25h-5zM851.4 704.9h10v10h-10zM946.4 704.9h5v20h-5zM1291.4 704.9h10v10h-10zM861.4 709.9h5v10h-5zM1281.4 709.9h10v10h-10zM1301.4 709.9h5v10h-5zM866.4 714.9h10v5h-10zM951.4 714.9h5v10h-5zM1271.4 714.9h10v35h-10zM1306.4 714.9h15v40h-15zM871.4 719.9h10v5h-10zM956.4 719.9h5v10h-5zM1281.4 719.9h5v25h-5zM1321.4 719.9h10v50h-10zM876.4 724.9h10v10h-10zM911.4 724.9h30v10h-30zM961.4 724.9h5v10h-5zM1286.4 724.9h5v20h-5zM1301.4 724.9h5v25h-5zM1331.4 724.9h15v50h-15zM886.4 729.9h5v15h-5zM901.4 729.9h10v10h-10zM1291.4 729.9h10v15h-10zM881.4 734.9h5v5h-5zM891.4 734.9h10v10h-10zM921.4 734.9h20v5h-20zM966.4 734.9h5v10h-5zM1266.4 734.9h5v20h-5zM926.4 739.9h15v5h-15zM1261.4 739.9h5v15h-5zM891.4 744.9h5v5h-5zM931.4 744.9h10v20h-10zM961.4 744.9h5v5h-5zM1251.4 744.9h10v10h-10zM941.4 749.9h20v5h-20zM1246.4 749.9h5v15h-5zM941.4 754.9h15v5h-15zM1241.4 754.9h5v15h-5zM1311.4 754.9h10v15h-10zM1236.4 759.9h5v10h-5zM1226.4 764.9h10v5h-10zM1306.4 764.9h5v30h-5zM1221.4 769.9h10v5h-10zM1301.4 769.9h5v20h-5zM1311.4 769.9h5v5h-5zM1326.4 769.9h5v5h-5zM1216.4 774.9h10v5h-10zM1291.4 774.9h10v10h-10zM1336.4 774.9h10v30h-10zM1211.4 779.9h10v10h-10zM1286.4 779.9h5v5h-5zM1331.4 779.9h5v25h-5zM1311.4 784.9h5v15h-5zM1321.4 784.9h10v20h-10zM1206.4 789.9h10v35h-10zM1271.4 789.9h10v30h-10zM1316.4 789.9h5v15h-5zM1266.4 794.9h5v35h-5zM1216.4 809.9h5v25h-5zM1271.4 819.9h5v10h-5zM1211.4 824.9h5v5h-5zM1221.4 824.9h5v15h-5zM1226.4 829.9h5v15h-5zM1246.4 829.9h20v20h-20zM931.4 834.9h10v5h-10zM1231.4 834.9h15v20h-15zM936.4 839.9h5v5h-5zM1041.4 839.9h20v10h-20zM1036.4 844.9h5v10h-5zM1061.4 844.9h5v85h-5zM1266.4 844.9h5v30h-5zM1031.4 849.9h5v10h-5zM1041.4 849.9h10v5h-10zM1056.4 849.9h5v5h-5zM1261.4 849.9h5v5h-5zM1271.4 849.9h5v20h-5zM1066.4 854.9h5v20h-5zM1236.4 854.9h5v60h-5zM1276.4 854.9h5v10h-5zM1026.4 859.9h5v70h-5zM1261.4 859.9h5v15h-5zM1056.4 864.9h5v65h-5zM1241.4 864.9h20v10h-20zM1051.4 869.9h5v60h-5zM1136.4 869.9h5v15h-5zM1231.4 869.9h5v45h-5zM1021.4 874.9h5v55h-5zM1046.4 874.9h5v55h-5zM1131.4 874.9h5v10h-5zM1141.4 874.9h5v5h-5zM1241.4 874.9h10v25h-10zM1126.4 879.9h5v5h-5zM1016.4 884.9h5v45h-5zM1031.4 884.9h5v45h-5zM1041.4 884.9h5v45h-5zM1066.4 884.9h5v45h-5zM1251.4 884.9h35v5h-35zM1036.4 889.9h5v40h-5zM1071.4 889.9h10v40h-10zM1111.4 889.9h10v40h-10zM1251.4 889.9h15v5h-15zM1281.4 889.9h10v5h-10zM1011.4 894.9h5v20h-5zM1081.4 894.9h30v35h-30zM1226.4 894.9h5v10h-5zM1286.4 894.9h15v5h-15zM851.4 899.9h5v5h-5zM1241.4 899.9h5v10h-5zM1291.4 899.9h10v30h-10zM1286.4 919.9h5v10h-5z"/><path fill="#76c6ba" d="M1066.4 549.9h80v10h-80zM1156.4 549.9h10v10h-10zM1206.4 549.9h5v15h-5zM1076.4 559.9h70v5h-70zM1161.4 559.9h5v10h-5zM1201.4 559.9h5v5h-5zM1091.4 564.9h50v5h-50zM1166.4 564.9h5v10h-5zM1191.4 564.9h10v5h-10zM1096.4 569.9h40v5h-40zM1171.4 569.9h15v5h-15zM1256.4 569.9h25v15h-25zM1101.4 574.9h10v10h-10zM1121.4 574.9h10v10h-10zM1251.4 574.9h5v10h-5zM1281.4 574.9h35v15h-35zM1111.4 579.9h5v15h-5zM1316.4 579.9h5v5h-5zM1106.4 584.9h5v5h-5zM1116.4 584.9h10v5h-10zM1261.4 584.9h20v5h-20zM1116.4 589.9h5v5h-5zM1266.4 589.9h45v5h-45zM1271.4 594.9h35v5h-35zM1276.4 599.9h25v5h-25zM991.4 629.9h5v20h-5zM986.4 634.9h5v10h-5zM996.4 634.9h5v10h-5zM896.4 679.9h25v10h-25zM861.4 684.9h35v5h-35zM851.4 689.9h20v5h-20zM916.4 689.9h10v5h-10zM846.4 694.9h15v5h-15zM921.4 694.9h15v5h-15zM851.4 699.9h15v5h-15zM926.4 699.9h15v25h-15zM861.4 704.9h10v5h-10zM921.4 704.9h5v20h-5zM866.4 709.9h15v5h-15zM916.4 709.9h5v15h-5zM876.4 714.9h10v5h-10zM911.4 714.9h5v10h-5zM1291.4 714.9h10v15h-10zM881.4 719.9h10v5h-10zM901.4 719.9h10v10h-10zM1286.4 719.9h5v5h-5zM1301.4 719.9h5v5h-5zM886.4 724.9h15v5h-15zM941.4 724.9h15v5h-15zM891.4 729.9h10v5h-10zM941.4 729.9h10v5h-10zM956.4 729.9h5v5h-5zM941.4 734.9h5v15h-5zM961.4 734.9h5v10h-5zM946.4 744.9h15v5h-15zM1281.4 744.9h20v10h-20zM1271.4 749.9h10v40h-10zM1301.4 749.9h5v20h-5zM1251.4 754.9h20v40h-20zM1281.4 754.9h10v25h-10zM1306.4 754.9h5v10h-5zM1246.4 764.9h5v20h-5zM1291.4 764.9h10v10h-10zM1231.4 769.9h15v5h-15zM1226.4 774.9h10v5h-10zM1241.4 774.9h5v5h-5zM1221.4 779.9h10v5h-10zM1281.4 779.9h5v105h-5zM1221.4 784.9h5v40h-5zM1286.4 784.9h15v10h-15zM1216.4 789.9h5v20h-5zM1301.4 789.9h5v15h-5zM1251.4 794.9h15v35h-15zM1286.4 794.9h5v10h-5zM1306.4 794.9h5v15h-5zM1311.4 799.9h5v15h-5zM1316.4 804.9h30v10h-30zM1226.4 809.9h5v20h-5zM1246.4 809.9h5v20h-5zM1326.4 814.9h20v55h-20zM1231.4 819.9h15v15h-15zM1276.4 819.9h5v35h-5zM1321.4 824.9h5v45h-5zM1266.4 829.9h10v15h-10zM1316.4 829.9h5v40h-5zM1311.4 834.9h5v35h-5zM1306.4 839.9h5v25h-5zM1271.4 844.9h5v5h-5zM1286.4 844.9h5v30h-5zM1051.4 849.9h5v20h-5zM1036.4 854.9h15v20h-15zM1056.4 854.9h5v10h-5zM1031.4 859.9h5v25h-5zM1276.4 864.9h5v20h-5zM1271.4 869.9h5v15h-5zM1036.4 874.9h10v10h-10zM1251.4 874.9h20v10h-20zM1286.4 879.9h5v10h-5zM1036.4 884.9h5v5h-5zM1291.4 884.9h10v10h-10zM1301.4 889.9h5v40h-5zM1306.4 894.9h5v35h-5zM1311.4 909.9h5v20h-5zM1316.4 914.9h5v15h-5z"/><path fill="#3e9d95" d="M1201.4 549.9h5v10h-5zM1166.4 559.9h5v5h-5zM1196.4 559.9h5v5h-5zM1171.4 564.9h20v5h-20zM1111.4 574.9h10v5h-10zM1116.4 579.9h5v5h-5zM871.4 689.9h45v5h-45zM861.4 694.9h15v5h-15zM906.4 694.9h15v5h-15zM866.4 699.9h10v5h-10zM911.4 699.9h15v5h-15zM871.4 704.9h15v5h-15zM906.4 704.9h15v5h-15zM881.4 709.9h10v5h-10zM901.4 709.9h15v5h-15zM886.4 714.9h25v5h-25zM891.4 719.9h10v5h-10zM951.4 729.9h5v15h-5zM946.4 734.9h5v10h-5zM956.4 734.9h5v10h-5zM1291.4 754.9h10v10h-10zM1236.4 774.9h5v20h-5zM1231.4 779.9h5v15h-5zM1241.4 779.9h5v40h-5zM1226.4 784.9h5v25h-5zM1246.4 784.9h5v25h-5zM1291.4 794.9h10v10h-10zM1231.4 804.9h10v15h-10zM1286.4 804.9h10v5h-10zM1301.4 804.9h5v5h-5zM1286.4 809.9h5v35h-5zM1306.4 809.9h5v5h-5zM1311.4 814.9h15v10h-15zM1306.4 824.9h15v5h-15zM1291.4 829.9h5v55h-5zM1301.4 829.9h15v5h-15zM1296.4 834.9h15v5h-15zM1296.4 839.9h10v45h-10zM1306.4 864.9h5v30h-5zM1311.4 869.9h35v40h-35zM1286.4 874.9h5v5h-5zM1301.4 884.9h5v5h-5zM1316.4 909.9h30v5h-30zM1321.4 914.9h25v15h-25z"/><path fill="#167a72" d="M1166.4 549.9h10v10h-10zM1186.4 549.9h15v10h-15zM1171.4 559.9h25v5h-25zM876.4 694.9h30v5h-30zM876.4 699.9h15v5h-15zM901.4 699.9h10v5h-10zM886.4 704.9h20v5h-20zM891.4 709.9h10v5h-10zM1231.4 794.9h10v10h-10zM1296.4 804.9h5v15h-5zM1291.4 809.9h5v20h-5zM1301.4 809.9h5v20h-5zM1306.4 814.9h5v10h-5zM1296.4 824.9h5v10h-5z"/><path fill="#015a50" d="M1176.4 549.9h10v10h-10zM891.4 699.9h10v5h-10zM1296.4 819.9h5v5h-5z"/></g>
<path d="M1034.1,524.8L1026.7,534.5L1023.5,548.3L1015.8,559.1L1011.0,569.8L1006.6,579.2L1002.2,585.7L994.3,596.1L987.5,598.2L978.9,604.1L972.0,610.1L964.6,613.2L961.0,629.0L961.2,637.2L958.8,649.1L961.8,656.9L963.6,664.6L970.3,670.9L977.2,670.2L983.2,666.1L990.1,659.3L995.1,656.9L997.1,647.6L998.5,657.2L1000.4,661.3L1000.6,669.4L1004.5,677.6L1006.3,685.7L1010.5,691.9L1008.8,697.2L1009.8,700.6L1011.6,706.0L1010.3,708.7L1012.6,709.1L1017.6,708.6L1021.8,706.9L1021.1,702.2L1025.2,698.9L1031.2,698.9L1034.5,696.8L1037.0,692.1L1037.6,684.0L1038.9,677.3L1039.4,669.9L1037.2,665.9L1041.3,664.5L1046.8,662.3L1051.3,654.7L1053.0,647.8L1050.1,644.0L1041.8,637.6L1040.8,624.1L1041.7,614.7L1045.3,611.1L1049.8,602.8L1058.5,596.1L1062.0,587.7L1062.5,580.8L1064.2,573.8L1067.2,570.1L1072.4,566.1L1077.4,565.5L1080.4,566.4L1086.3,575.2L1081.7,580.0L1075.0,592.5L1066.4,603.6L1066.2,614.5L1069.1,625.0L1068.3,630.5L1068.0,634.6L1073.8,639.5L1080.3,646.6L1093.0,640.5L1105.2,634.5L1116.3,629.0L1120.9,634.9L1128.2,636.8L1120.3,638.5L1114.2,642.4L1114.9,646.4L1104.6,646.8L1093.0,650.0L1084.9,653.7L1085.4,657.7L1087.7,664.9L1093.4,664.8L1093.1,671.0L1094.6,678.9L1092.5,682.5L1088.6,683.7L1084.4,679.5L1081.0,674.5L1073.9,679.9L1071.0,692.3L1072.7,702.9L1069.7,712.5L1064.4,713.6L1064.6,717.6L1060.3,722.0L1055.2,721.6L1056.2,718.8L1052.2,716.0L1042.2,719.4L1031.0,725.2L1020.8,728.7L1017.3,725.6L1015.8,720.9L1014.3,718.4L1011.8,723.5L1003.9,725.2L998.7,728.3L994.4,727.4L996.3,721.5L989.3,721.0L987.4,715.5L984.3,714.6L986.2,710.1L986.9,706.1L991.1,701.0L991.3,697.7L996.7,694.7L992.1,691.7L992.4,686.3L994.6,680.4L995.2,676.7L990.5,678.1L986.0,683.8L980.2,683.7L976.8,689.1L975.1,698.3L974.3,704.3L977.0,705.9L978.1,710.7L977.5,713.4L976.7,721.4L978.7,725.6L977.0,726.8L975.0,731.3L972.2,731.7L971.3,728.9L964.1,728.8L962.8,732.7L962.2,731.3L956.6,731.3L950.8,731.9L947.7,731.4L944.2,735.7L941.6,742.1L937.0,747.5L932.1,752.1L929.9,755.1L928.2,755.1L925.4,756.0L920.5,757.6L916.0,758.1L913.6,758.7L913.4,760.7L911.6,767.5L906.9,770.3L898.8,771.7L897.4,774.2L894.2,776.3L886.7,773.8L886.4,768.9L883.4,768.9L880.6,767.2L880.8,772.1L880.8,779.6L881.0,782.5L876.7,781.1L870.3,780.9L868.8,776.3L864.5,775.2L859.8,775.7L852.5,776.7L851.7,778.8L854.8,780.1L853.1,781.1L850.9,782.7L853.2,786.7L857.5,786.9L861.7,790.5L863.0,793.9L866.5,793.8L867.8,798.0L870.4,798.8L871.3,802.8L871.5,809.8L876.3,815.8L875.6,822.9L874.3,824.4L870.7,835.4L864.6,850.1L859.2,851.3L849.7,848.4L842.4,844.8L825.1,838.6L823.7,836.7L811.9,834.4L806.8,829.4L804.9,828.9L798.5,832.3L788.1,835.6L789.3,846.2L787.5,849.9L785.9,860.3L782.7,866.5L778.8,872.5L770.1,881.1L766.3,888.2L769.0,890.3L771.1,894.1L768.8,901.4L763.1,913.2L774.6,917.5L785.6,918.2L789.5,929.8L795.1,938.9L798.4,937.7L811.0,933.0L820.7,935.8L832.6,937.3L834.9,939.5L839.8,933.8L850.9,930.7L854.2,931.0L858.8,921.7L867.5,918.2L863.8,907.2L868.7,900.9L879.9,892.7L884.8,888.3L895.0,886.3L908.7,875.7L906.9,870.1L908.4,864.8L914.9,861.7L921.9,862.1L926.1,864.1L930.9,865.5L936.5,869.0L943.7,867.9L947.6,864.2L950.5,862.5L955.9,861.4L963.4,855.6L967.7,854.4L976.2,860.1L980.2,867.2L981.6,875.8L987.2,883.4L994.1,887.9L998.3,892.9L1002.1,897.1L1006.5,900.3L1012.2,900.9L1018.9,906.1L1019.7,909.5L1024.3,908.3L1026.7,914.8L1033.6,916.9L1035.3,924.5L1038.8,945.3L1049.4,931.1L1042.7,921.6L1046.7,911.8L1058.6,918.3L1063.7,915.3L1057.6,907.9L1046.1,901.7L1036.2,895.2L1038.8,891.3L1029.8,891.1L1026.7,890.0L1018.8,883.5L1012.1,867.6L1002.9,861.2L1000.2,856.4L1003.1,849.2L1000.8,845.5L1001.4,842.7L1008.7,839.9L1013.0,838.2L1015.0,840.0L1013.1,841.6L1013.3,845.9L1015.6,850.7L1016.3,852.0L1021.3,844.5L1025.7,849.3L1028.9,861.0L1035.6,866.2L1041.0,869.3L1051.0,875.2L1057.9,880.4L1062.7,883.6L1068.5,887.4L1071.7,890.6L1072.7,897.9L1073.8,909.6L1071.9,910.6L1079.8,917.5L1092.3,938.4L1109.1,940.9L1112.5,922.3L1106.4,906.3L1109.4,904.6L1114.1,908.9L1117.8,912.6L1120.2,906.7L1125.8,908.8L1118.0,901.5L1124.4,898.1L1131.6,896.8L1139.7,897.1L1141.8,898.5L1149.9,898.8L1144.9,907.3L1149.0,901.8L1153.0,898.3L1156.2,892.5L1163.6,889.7L1170.9,889.2L1171.4,886.3L1167.2,885.1L1160.6,882.4L1159.5,879.1L1154.7,872.8L1152.4,871.8L1155.9,868.4L1155.1,861.5L1159.8,858.3L1159.9,852.3L1159.4,847.2L1166.4,835.6L1167.1,832.0L1165.9,828.8L1171.3,817.9L1172.4,812.3L1179.3,809.0L1179.8,813.1L1193.2,812.5L1200.5,810.5L1195.3,816.8L1192.1,823.3L1200.5,823.2L1204.0,830.7L1207.0,832.8L1210.7,830.3L1212.2,827.4L1216.8,823.5L1220.0,820.0L1229.4,816.1L1229.5,811.8L1218.1,816.8L1210.2,806.8L1225.7,793.8L1231.0,787.7L1242.1,781.8L1246.0,781.8L1238.8,790.1L1240.7,798.8L1237.2,810.7L1231.3,814.1L1238.0,816.2L1243.4,816.9L1257.8,820.8L1266.3,825.3L1281.0,828.2L1291.4,836.6L1293.8,843.0L1292.9,847.1L1286.1,855.2L1278.6,858.5L1266.1,864.2L1260.8,864.9L1254.3,865.2L1244.0,866.0L1239.0,861.4L1229.5,860.0L1215.9,864.6L1203.4,871.2L1198.4,876.7L1194.9,879.7L1177.0,885.4L1172.4,885.9L1172.5,888.9L1181.3,890.6L1175.2,893.3L1174.6,896.5L1172.1,897.9L1162.6,900.0L1149.4,902.4L1146.7,905.6L1146.1,914.9L1158.1,934.0L1263.9,981.8L1481.6,881.5L1564.9,577.4L1293.0,376.6L1141.4,460.4L1163.7,529.2L1162.4,545.8L1167.4,551.2L1172.0,558.2L1170.3,560.3L1164.6,560.2L1155.4,558.4L1147.7,558.8L1154.7,567.2L1160.7,566.6L1161.0,573.0L1151.3,574.0L1141.5,570.0L1139.2,564.2L1132.8,548.4L1123.1,544.0L1125.3,532.0L1091.5,475.9L1048.5,482.2Z M850.5,754.1L854.3,756.7L864.9,754.3L868.1,757.0L871.5,752.6L879.1,755.8L888.8,757.3L893.4,756.3L902.2,758.2L908.6,757.2L912.4,754.9L913.8,751.8L907.9,749.6L910.3,746.0L914.1,744.0L919.2,737.5L917.5,731.3L910.5,729.3L907.6,731.0L909.6,727.4L909.3,721.1L906.3,718.4L909.0,713.5L906.3,707.4L902.3,704.4L901.9,699.5L902.3,691.3L900.0,688.0L897.0,684.5L891.2,682.9L897.2,680.7L896.3,678.1L903.5,670.9L906.9,666.2L906.1,663.3L897.2,660.7L890.2,661.8L893.5,657.9L900.9,652.3L902.1,649.1L899.6,649.1L888.9,645.8L884.9,651.9L879.5,657.3L879.5,662.2L876.4,667.5L873.2,667.9L877.1,672.6L873.5,679.3L870.4,686.7L874.9,682.5L879.3,681.0L878.5,686.3L874.4,692.1L873.8,696.8L878.5,697.5L885.1,696.6L886.6,697.0L883.7,701.7L885.3,707.7L887.6,708.3L885.3,712.6L884.4,717.2L882.0,717.2L876.4,716.4L872.1,713.8L872.5,718.1L868.7,721.2L874.1,721.3L873.1,726.6L870.0,729.9L866.5,730.3L861.0,731.5L861.6,735.2L868.0,737.0L870.0,739.0L876.1,742.1L880.7,741.2L877.1,745.1L870.5,743.6L867.1,743.1L863.2,746.1L858.0,750.2L852.7,752.8Z M823.5,725.3L836.9,725.1L848.6,724.1L853.8,725.5L856.7,720.3L859.4,715.6L860.4,711.0L861.9,703.7L868.0,700.0L869.9,697.8L867.1,694.8L869.2,693.3L867.8,688.7L865.1,685.8L860.0,682.0L856.2,683.5L851.7,682.7L845.8,687.7L850.0,689.9L846.4,692.9L841.3,691.1L835.2,689.5L833.0,693.0L832.9,698.0L829.9,699.0L833.7,702.6L837.8,705.5L833.6,707.5L827.7,710.9L835.0,713.0L827.8,713.9L822.2,714.7L825.8,716.8L821.5,718.8L821.9,722.5Z M867.4,546.6L858.8,551.7L849.6,551.9L839.0,552.0L828.8,552.0L822.5,547.1L820.1,540.3L812.1,536.3L819.1,532.6L813.4,519.6L826.7,519.7L815.3,511.2L827.5,507.5L829.8,520.0L837.0,521.0L846.0,519.6L862.2,521.7L868.5,527.7L864.5,537.8Z M887.7,596.4L891.8,594.2L894.1,597.1L889.4,605.5L888.9,601.0Z M916.8,631.4L920.2,626.0L923.5,624.7L920.4,630.8L917.8,636.2Z M901.3,644.0L904.7,640.8L908.0,641.6L904.7,646.3L901.6,646.9Z M872.3,649.3L880.4,644.9L879.2,648.7L875.1,652.3L871.9,652.7Z M867.9,653.5L870.8,653.8L867.5,660.5L866.1,660.0Z M872.9,656.6L876.5,654.9L877.4,661.5L876.0,663.9L873.1,660.9Z M871.8,669.6L875.4,670.7L875.3,673.5L870.8,672.8Z M867.4,678.7L870.7,678.4L870.4,681.8L868.0,681.7Z M873.2,704.3L877.3,701.3L877.4,704.1L873.8,705.2Z M987.3,705.4L991.2,704.8L994.7,709.3L993.7,712.3L989.2,711.9L987.8,709.5Z M997.3,704.1L999.3,700.6L1004.3,698.7L1006.5,698.8L1008.7,700.2L1008.6,704.6L1005.4,707.8L1007.2,710.2L1004.4,713.8L1007.5,714.6L1002.9,713.7L997.2,709.0Z M995.9,715.4L1002.9,714.4L1004.7,716.5L1003.0,719.5L998.4,718.2L995.8,716.7Z M1024.4,711.6L1027.8,712.3L1027.5,714.3L1024.8,713.6Z M1037.1,698.1L1038.2,697.4L1041.9,682.6L1040.8,683.3Z M1049.7,688.0L1054.1,680.7L1057.3,673.8L1053.0,674.7L1050.4,678.2L1049.2,683.6Z M1074.5,667.7L1076.4,671.8L1079.6,668.5L1084.8,664.6L1082.4,662.2L1075.7,664.9Z M1075.5,659.5L1079.0,656.7L1082.5,659.4L1078.9,661.9Z M1057.4,643.5L1059.9,640.7L1062.7,643.1L1060.3,646.0Z M961.4,881.5L963.7,879.3L969.4,878.0L970.7,874.0L970.9,878.2L971.2,886.4L969.1,893.2L966.3,896.0L963.0,892.7L961.3,888.4Z M957.2,899.0L966.7,897.8L970.4,903.0L972.1,908.6L968.6,926.4L955.5,928.1L957.3,914.3L955.0,905.7L956.0,901.0Z M1126.3,900.4L1128.3,900.1L1128.6,902.1L1126.5,902.4Z" fill="none" stroke="#000" stroke-width="2.0" stroke-linejoin="round"/>
<path d="M887.7,596.4L891.8,594.2L894.1,597.1L889.4,605.5L888.9,601.0Z M916.8,631.4L920.2,626.0L923.5,624.7L920.4,630.8L917.8,636.2Z M901.3,644.0L904.7,640.8L908.0,641.6L904.7,646.3L901.6,646.9Z M872.3,649.3L880.4,644.9L879.2,648.7L875.1,652.3L871.9,652.7Z M867.9,653.5L870.8,653.8L867.5,660.5L866.1,660.0Z M872.9,656.6L876.5,654.9L877.4,661.5L876.0,663.9L873.1,660.9Z M871.8,669.6L875.4,670.7L875.3,673.5L870.8,672.8Z M867.4,678.7L870.7,678.4L870.4,681.8L868.0,681.7Z M873.2,704.3L877.3,701.3L877.4,704.1L873.8,705.2Z M1024.4,711.6L1027.8,712.3L1027.5,714.3L1024.8,713.6Z M1126.3,900.4L1128.3,900.1L1128.6,902.1L1126.5,902.4Z M1057.4,643.5L1059.9,640.7L1062.7,643.1L1060.3,646.0Z M1075.5,659.5L1079.0,656.7L1082.5,659.4L1078.9,661.9Z" fill="#000" stroke="#000" stroke-width="1.2"/>
<path d="M791.3,806.2 L805.6,768.1 L1184.9,601.0 L1262.1,806.2 L1250.8,810.3 L1239.4,814.3 L1228.0,818.0 L1216.5,821.5 L1204.9,824.8 L1193.3,827.9 L1181.6,830.8 L1169.9,833.5 L1158.1,835.9 L1146.3,838.2 L1134.5,840.2 L1122.6,842.1 L1110.7,843.7 L1098.7,845.1 L1086.8,846.3 L1074.8,847.3 L1062.8,848.0 L1050.7,848.6 L1038.7,848.9 L1026.7,849.0 L1014.7,848.9 L1002.7,848.6 L990.6,848.0 L978.6,847.3 L966.6,846.3 L954.7,845.1 L942.7,843.7 L930.8,842.1 L918.9,840.2 L907.1,838.2 L895.3,835.9 L883.5,833.5 L871.8,830.8 L860.1,827.9 L848.5,824.8 L836.9,821.5 L825.4,818.0 L814.0,814.3 L802.6,810.3 L791.3,806.2Z" fill="none" stroke="#006d2c" stroke-width="3.8" stroke-linejoin="miter"/>
</g>
<rect x="56.50" y="384.4" width="39.01" height="21.600000000000023" fill="#543005"/>
<rect x="95.01" y="384.4" width="39.01" height="21.600000000000023" fill="#7c4709"/>
<rect x="133.53" y="384.4" width="39.01" height="21.600000000000023" fill="#a16518"/>
<rect x="172.04" y="384.4" width="39.01" height="21.600000000000023" fill="#c38936"/>
<rect x="210.56" y="384.4" width="39.01" height="21.600000000000023" fill="#dbb972"/>
<rect x="249.07" y="384.4" width="39.01" height="21.600000000000023" fill="#ecd8a5"/>
<rect x="287.59" y="384.4" width="39.01" height="21.600000000000023" fill="#f6ecd1"/>
<rect x="326.10" y="384.4" width="39.01" height="21.600000000000023" fill="#d4ede9"/>
<rect x="364.61" y="384.4" width="39.01" height="21.600000000000023" fill="#a8ddd5"/>
<rect x="403.13" y="384.4" width="39.01" height="21.600000000000023" fill="#76c6ba"/>
<rect x="441.64" y="384.4" width="39.01" height="21.600000000000023" fill="#3e9d95"/>
<rect x="480.16" y="384.4" width="39.01" height="21.600000000000023" fill="#167a72"/>
<rect x="518.67" y="384.4" width="39.01" height="21.600000000000023" fill="#015a50"/>
<rect x="557.19" y="384.4" width="39.01" height="21.600000000000023" fill="#003c30"/>
<polygon points="57.3,384.4 45.7,395.2 57.3,406.0" fill="#3f2404"/>
<polygon points="594.9000000000001,384.4 606.5,395.2 594.9000000000001,406.0" fill="#002d24"/>
<polygon points="56.50,406.00 45.70,395.20 56.50,384.40 595.70,384.40 606.50,395.20 595.70,406.00" fill="none" stroke="#000" stroke-width="1.4" stroke-linejoin="miter"/>
<line x1="56.50" x2="56.50" y1="406.0" y2="411.2" stroke="#000" stroke-width="1.2"/>
<text transform="translate(56.50 446.50) scale(1 1.06)" text-anchor="middle">-0.20</text>
<line x1="123.90" x2="123.90" y1="406.0" y2="411.2" stroke="#000" stroke-width="1.2"/>
<line x1="191.30" x2="191.30" y1="406.0" y2="411.2" stroke="#000" stroke-width="1.2"/>
<text transform="translate(191.30 446.50) scale(1 1.06)" text-anchor="middle">-0.10</text>
<line x1="258.70" x2="258.70" y1="406.0" y2="411.2" stroke="#000" stroke-width="1.2"/>
<line x1="326.10" x2="326.10" y1="406.0" y2="411.2" stroke="#000" stroke-width="1.2"/>
<text transform="translate(326.10 446.50) scale(1 1.06)" text-anchor="middle">0.00</text>
<line x1="393.50" x2="393.50" y1="406.0" y2="411.2" stroke="#000" stroke-width="1.2"/>
<line x1="460.90" x2="460.90" y1="406.0" y2="411.2" stroke="#000" stroke-width="1.2"/>
<text transform="translate(460.90 446.50) scale(1 1.06)" text-anchor="middle">0.10</text>
<line x1="528.30" x2="528.30" y1="406.0" y2="411.2" stroke="#000" stroke-width="1.2"/>
<line x1="595.70" x2="595.70" y1="406.0" y2="411.2" stroke="#000" stroke-width="1.2"/>
<text transform="translate(595.70 446.50) scale(1 1.06)" text-anchor="middle">0.20</text>
<text transform="translate(324.80 475.70) scale(1 1.03)" text-anchor="middle" style="font-size:25px">Δρ<tspan font-size="17.5" dx="-0.6" dy="2">S</tspan></text>
<rect x="756.50" y="384.4" width="36.50" height="21.600000000000023" fill="#f7fcfd"/>
<rect x="792.50" y="384.4" width="36.50" height="21.600000000000023" fill="#edf8fb"/>
<rect x="828.50" y="384.4" width="36.50" height="21.600000000000023" fill="#e2f4f7"/>
<rect x="864.50" y="384.4" width="36.50" height="21.600000000000023" fill="#d4efec"/>
<rect x="900.50" y="384.4" width="36.50" height="21.600000000000023" fill="#bde6de"/>
<rect x="936.50" y="384.4" width="36.50" height="21.600000000000023" fill="#a0dbcd"/>
<rect x="972.50" y="384.4" width="36.50" height="21.600000000000023" fill="#84cfb9"/>
<rect x="1008.50" y="384.4" width="36.50" height="21.600000000000023" fill="#65c2a3"/>
<rect x="1044.50" y="384.4" width="36.50" height="21.600000000000023" fill="#51b689"/>
<rect x="1080.50" y="384.4" width="36.50" height="21.600000000000023" fill="#3da96f"/>
<rect x="1116.50" y="384.4" width="36.50" height="21.600000000000023" fill="#2c9553"/>
<rect x="1152.50" y="384.4" width="36.50" height="21.600000000000023" fill="#18823d"/>
<rect x="1188.50" y="384.4" width="36.50" height="21.600000000000023" fill="#05712f"/>
<rect x="1224.50" y="384.4" width="36.50" height="21.600000000000023" fill="#005b25"/>
<rect x="1260.50" y="384.4" width="36.50" height="21.600000000000023" fill="#00441b"/>
<polygon points="1295.7,384.4 1307.3,395.2 1295.7,406.0" fill="#00331a"/>
<polygon points="756.50,406.00 756.50,384.40 1296.50,384.40 1307.30,395.20 1296.50,406.00" fill="none" stroke="#000" stroke-width="1.4" stroke-linejoin="miter"/>
<line x1="756.50" x2="756.50" y1="406.0" y2="411.2" stroke="#000" stroke-width="1.2"/>
<text transform="translate(756.50 446.50) scale(1 1.06)" text-anchor="middle">0.00</text>
<line x1="810.50" x2="810.50" y1="406.0" y2="411.2" stroke="#000" stroke-width="1.2"/>
<line x1="864.50" x2="864.50" y1="406.0" y2="411.2" stroke="#000" stroke-width="1.2"/>
<text transform="translate(864.50 446.50) scale(1 1.06)" text-anchor="middle">0.10</text>
<line x1="918.50" x2="918.50" y1="406.0" y2="411.2" stroke="#000" stroke-width="1.2"/>
<line x1="972.50" x2="972.50" y1="406.0" y2="411.2" stroke="#000" stroke-width="1.2"/>
<text transform="translate(972.50 446.50) scale(1 1.06)" text-anchor="middle">0.20</text>
<line x1="1026.50" x2="1026.50" y1="406.0" y2="411.2" stroke="#000" stroke-width="1.2"/>
<line x1="1080.50" x2="1080.50" y1="406.0" y2="411.2" stroke="#000" stroke-width="1.2"/>
<text transform="translate(1080.50 446.50) scale(1 1.06)" text-anchor="middle">0.30</text>
<line x1="1134.50" x2="1134.50" y1="406.0" y2="411.2" stroke="#000" stroke-width="1.2"/>
<line x1="1188.50" x2="1188.50" y1="406.0" y2="411.2" stroke="#000" stroke-width="1.2"/>
<text transform="translate(1188.50 446.50) scale(1 1.06)" text-anchor="middle">0.40</text>
<line x1="1242.50" x2="1242.50" y1="406.0" y2="411.2" stroke="#000" stroke-width="1.2"/>
<line x1="1296.50" x2="1296.50" y1="406.0" y2="411.2" stroke="#000" stroke-width="1.2"/>
<text transform="translate(1296.50 446.50) scale(1 1.06)" text-anchor="middle">0.50</text>
<text transform="translate(1026.20 475.70) scale(1 1.03)" text-anchor="middle" style="font-size:25px">Uncertainty in Δρ<tspan font-size="17.5" dx="-0.6" dy="2">S</tspan></text>
<rect x="177.50" y="925.3" width="67.03" height="21.5" fill="#543005"/>
<rect x="244.03" y="925.3" width="67.03" height="21.5" fill="#7c4709"/>
<rect x="310.57" y="925.3" width="67.03" height="21.5" fill="#a16518"/>
<rect x="377.10" y="925.3" width="67.03" height="21.5" fill="#c38936"/>
<rect x="443.63" y="925.3" width="67.03" height="21.5" fill="#dbb972"/>
<rect x="510.17" y="925.3" width="67.03" height="21.5" fill="#ecd8a5"/>
<rect x="576.70" y="925.3" width="67.03" height="21.5" fill="#f6ecd1"/>
<rect x="643.23" y="925.3" width="67.03" height="21.5" fill="#f4f5f5"/>
<rect x="709.77" y="925.3" width="67.03" height="21.5" fill="#d4ede9"/>
<rect x="776.30" y="925.3" width="67.03" height="21.5" fill="#a8ddd5"/>
<rect x="842.83" y="925.3" width="67.03" height="21.5" fill="#76c6ba"/>
<rect x="909.37" y="925.3" width="67.03" height="21.5" fill="#3e9d95"/>
<rect x="975.90" y="925.3" width="67.03" height="21.5" fill="#167a72"/>
<rect x="1042.43" y="925.3" width="67.03" height="21.5" fill="#015a50"/>
<rect x="1108.97" y="925.3" width="67.03" height="21.5" fill="#003c30"/>
<polygon points="178.3,925.3 166.7,936.05 178.3,946.8" fill="#3f2404"/>
<polygon points="1174.7,925.3 1186.3,936.05 1174.7,946.8" fill="#002d24"/>
<polygon points="177.50,946.80 166.70,936.05 177.50,925.30 1175.50,925.30 1186.30,936.05 1175.50,946.80" fill="none" stroke="#000" stroke-width="1.4" stroke-linejoin="miter"/>
<line x1="177.50" x2="177.50" y1="946.8" y2="952.0" stroke="#000" stroke-width="1.2"/>
<text transform="translate(177.50 986.30) scale(1 1.06)" text-anchor="middle">-0.5</text>
<line x1="277.30" x2="277.30" y1="946.8" y2="952.0" stroke="#000" stroke-width="1.2"/>
<text transform="translate(277.30 986.30) scale(1 1.06)" text-anchor="middle">-0.4</text>
<line x1="377.10" x2="377.10" y1="946.8" y2="952.0" stroke="#000" stroke-width="1.2"/>
<text transform="translate(377.10 986.30) scale(1 1.06)" text-anchor="middle">-0.3</text>
<line x1="476.90" x2="476.90" y1="946.8" y2="952.0" stroke="#000" stroke-width="1.2"/>
<text transform="translate(476.90 986.30) scale(1 1.06)" text-anchor="middle">-0.2</text>
<line x1="576.70" x2="576.70" y1="946.8" y2="952.0" stroke="#000" stroke-width="1.2"/>
<text transform="translate(576.70 986.30) scale(1 1.06)" text-anchor="middle">-0.1</text>
<line x1="676.50" x2="676.50" y1="946.8" y2="952.0" stroke="#000" stroke-width="1.2"/>
<text transform="translate(676.50 986.30) scale(1 1.06)" text-anchor="middle">0.0</text>
<line x1="776.30" x2="776.30" y1="946.8" y2="952.0" stroke="#000" stroke-width="1.2"/>
<text transform="translate(776.30 986.30) scale(1 1.06)" text-anchor="middle">0.1</text>
<line x1="876.10" x2="876.10" y1="946.8" y2="952.0" stroke="#000" stroke-width="1.2"/>
<text transform="translate(876.10 986.30) scale(1 1.06)" text-anchor="middle">0.2</text>
<line x1="975.90" x2="975.90" y1="946.8" y2="952.0" stroke="#000" stroke-width="1.2"/>
<text transform="translate(975.90 986.30) scale(1 1.06)" text-anchor="middle">0.3</text>
<line x1="1075.70" x2="1075.70" y1="946.8" y2="952.0" stroke="#000" stroke-width="1.2"/>
<text transform="translate(1075.70 986.30) scale(1 1.06)" text-anchor="middle">0.4</text>
<line x1="1175.50" x2="1175.50" y1="946.8" y2="952.0" stroke="#000" stroke-width="1.2"/>
<text transform="translate(1175.50 986.30) scale(1 1.06)" text-anchor="middle">0.5</text>
<text transform="translate(675.80 1019.00) scale(1 1.03)" text-anchor="middle" style="font-size:25px">Δρ<tspan font-size="17.5" dx="-0.6" dy="2">S</tspan></text>
</svg></body></html>
